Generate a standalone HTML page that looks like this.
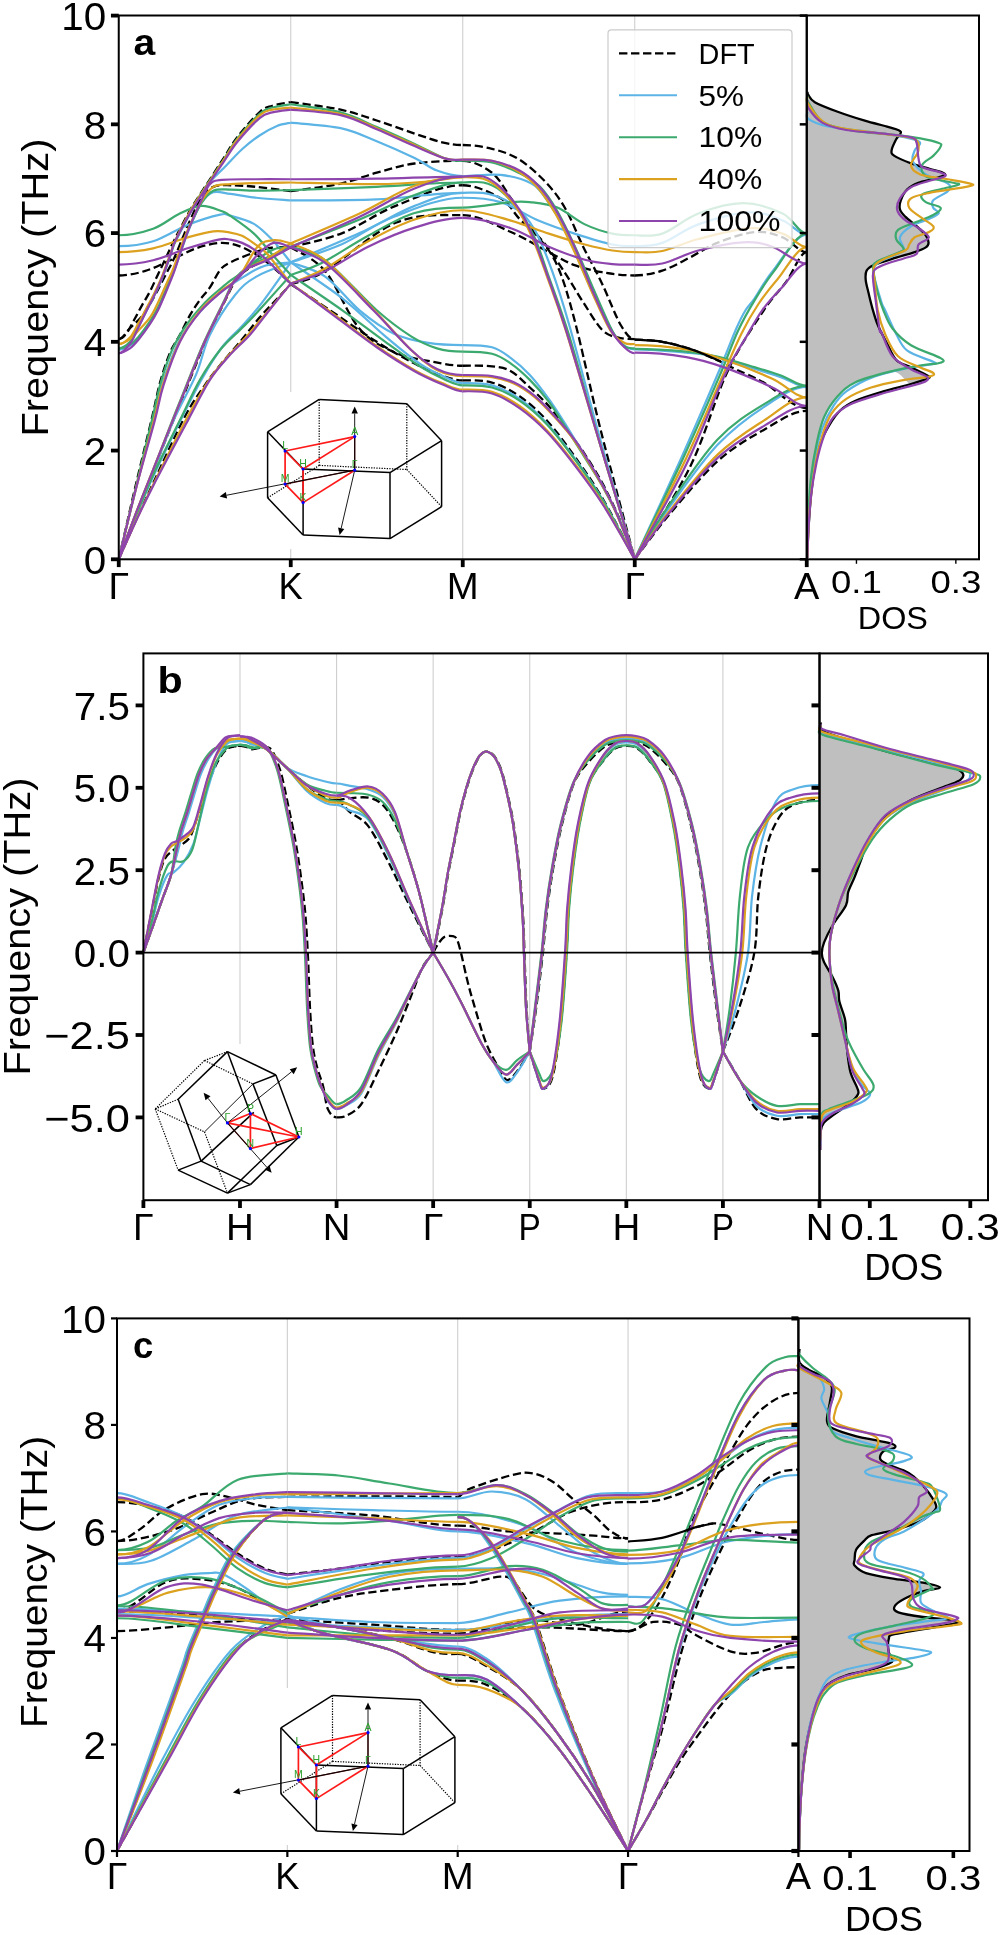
<!DOCTYPE html>
<html><head><meta charset="utf-8"><style>
html,body{margin:0;padding:0;background:#fff;}
svg{display:block;will-change:transform;}
text{font-family:"Liberation Sans",sans-serif;fill:#000;}
</style></head><body>
<svg width="1000" height="1935" viewBox="0 0 1000 1935">
<rect width="1000" height="1935" fill="#fff"/>
<line x1="290.75" y1="15.5" x2="290.75" y2="559.3" stroke="#cfcfcf" stroke-width="1.1"/>
<line x1="462.75" y1="15.5" x2="462.75" y2="559.3" stroke="#cfcfcf" stroke-width="1.1"/>
<line x1="634.75" y1="15.5" x2="634.75" y2="559.3" stroke="#cfcfcf" stroke-width="1.1"/>
<path d="M118.75 339.1C121.16 339.1 123.42 337.38 125.97 334.21C128.53 331.04 131.39 324.87 134.06 320.07C136.72 315.27 139.3 310.19 141.97 305.39C144.64 300.59 147.39 296.42 150.05 291.26C152.72 286.09 155.3 280.02 157.97 274.4C160.63 268.78 163.64 262.62 166.05 257.55C168.46 252.47 169.98 248.94 172.41 243.95C174.85 238.97 177.29 233.99 180.67 227.64C184.05 221.3 188.18 213.42 192.71 205.89C197.24 198.37 202.63 190.58 207.85 182.52C213.06 174.45 219.08 165.12 224.01 157.51C228.94 149.89 231.44 144.46 237.43 136.85C243.42 129.23 254.14 117 259.96 111.83C265.78 106.67 267.21 107.49 272.35 105.85C277.48 104.22 287.68 102.68 290.75 102.05" fill="none" stroke="#000" stroke-width="2.3" stroke-dasharray="8.2 3.8"/>
<path d="M118.75 339.1C122.48 339.1 126.06 332.03 129.93 328.23C133.8 324.42 138.62 320.34 141.97 316.27C145.32 312.19 147.39 308.2 150.05 303.76C152.72 299.32 155.3 294.61 157.97 289.62C160.63 284.64 163.38 279.02 166.05 273.86C168.72 268.69 171.24 264.52 173.96 258.63C176.69 252.74 179.84 244.59 182.39 238.52C184.94 232.45 186.12 229 189.27 222.21C192.42 215.41 197.3 203.63 201.31 197.74C205.32 191.85 208.48 188.95 213.35 186.87C218.22 184.78 223.38 185.23 230.55 185.23C237.72 185.23 246.32 185.87 256.35 186.87C266.38 187.86 285.02 190.49 290.75 191.22" fill="none" stroke="#000" stroke-width="2.3" stroke-dasharray="8.2 3.8"/>
<path d="M118.75 275.49C127.35 275.49 135.95 273.68 144.55 271.14C153.15 268.6 161.75 264.07 170.35 260.26C178.95 256.46 187.84 251.2 196.15 248.3C204.46 245.4 213.06 243.23 220.23 242.87C227.4 242.5 233.13 244.14 239.15 246.13C245.17 248.12 251.19 251.75 256.35 254.83C261.51 257.91 264.38 259.81 270.11 264.61C275.84 269.42 287.31 280.47 290.75 283.64" fill="none" stroke="#000" stroke-width="2.3" stroke-dasharray="8.2 3.8"/>
<path d="M118.75 559.3C121.62 546.79 130.42 507.83 135.95 484.27C141.48 460.71 147.93 434.88 151.95 417.94C155.96 400.99 157.02 393.47 160.03 382.6C163.04 371.72 166.68 360.67 170.01 352.69C173.33 344.72 176.66 341 179.98 334.75C183.31 328.5 186.63 320.98 189.96 315.18C193.28 309.38 196.61 304.58 199.93 299.96C203.26 295.33 206.56 292.43 209.91 287.45C213.26 282.47 216.68 274.22 220.06 270.05C223.44 265.88 224.56 265.34 230.21 262.44C235.85 259.54 247 255.1 253.94 252.65C260.88 250.21 265.7 248.67 271.83 247.76C277.96 246.85 287.6 247.31 290.75 247.22" fill="none" stroke="#000" stroke-width="2.3" stroke-dasharray="8.2 3.8"/>
<path d="M118.75 559.3C121.62 551.78 130.22 528.85 135.95 514.17C141.68 499.49 146.9 486.9 153.15 471.22C159.4 455.54 168.06 433.52 173.45 420.11C178.84 406.7 181.82 399.81 185.49 390.75C189.16 381.69 192.17 373.9 195.46 365.74C198.76 357.59 201.91 349.43 205.27 341.82C208.62 334.21 212.23 327.05 215.59 320.07C218.94 313.09 222.09 306.48 225.39 299.96C228.69 293.43 231.64 286.09 235.37 280.93C239.09 275.76 242.45 272.59 247.75 268.96C253.05 265.34 260.02 262.8 267.19 259.18C274.35 255.55 286.82 249.21 290.75 247.22" fill="none" stroke="#000" stroke-width="2.3" stroke-dasharray="8.2 3.8"/>
<path d="M118.75 559.3C121.62 552.78 130.22 532.84 135.95 520.15C141.68 507.47 145.12 500.22 153.15 483.18C161.18 466.15 175.51 434.25 184.11 417.94C192.71 401.63 198.76 394.11 204.75 385.32C210.74 376.53 214.18 372.45 220.06 365.2C225.93 357.95 233.39 349.79 240.01 341.82C246.63 333.85 253.11 325.06 259.79 317.35C266.47 309.65 274.93 301.13 280.09 295.61C285.25 290.08 288.97 286.09 290.75 284.19" fill="none" stroke="#000" stroke-width="2.3" stroke-dasharray="8.2 3.8"/>
<path d="M290.75 102.05C299.06 103.32 326.3 106.58 340.63 109.66C354.96 112.74 364.42 116.55 376.75 120.53C389.08 124.52 403.7 129.96 414.59 133.58C425.48 137.21 434.08 140.38 442.11 142.28C450.14 144.19 455.87 145 462.75 145" fill="none" stroke="#000" stroke-width="2.3" stroke-dasharray="8.2 3.8"/>
<path d="M290.75 191.22C299.06 189.95 326.3 186.68 340.63 183.6C354.96 180.52 364.42 176.08 376.75 172.73C389.08 169.38 400.26 165.48 414.59 163.49C428.92 161.49 446.7 160.77 462.75 160.77" fill="none" stroke="#000" stroke-width="2.3" stroke-dasharray="8.2 3.8"/>
<path d="M290.75 247.22C299.35 244.86 324.86 239.97 342.35 233.08C359.84 226.19 375.6 213.87 395.67 205.89C415.74 197.92 440.39 185.23 462.75 185.23" fill="none" stroke="#000" stroke-width="2.3" stroke-dasharray="8.2 3.8"/>
<path d="M290.75 284.19C296.48 282.01 307.66 281.38 325.15 271.14C342.64 260.9 372.74 232.08 395.67 222.75C418.6 213.42 440.39 215.14 462.75 215.14" fill="none" stroke="#000" stroke-width="2.3" stroke-dasharray="8.2 3.8"/>
<path d="M290.75 247.22C296.48 251.2 313.68 257.55 325.15 271.14C336.62 284.73 347.8 315.18 359.55 328.77C371.3 342.36 383.34 347.17 395.67 352.69C408 358.22 422.33 359.76 433.51 361.94C444.69 364.11 453 365.74 462.75 365.74" fill="none" stroke="#000" stroke-width="2.3" stroke-dasharray="8.2 3.8"/>
<path d="M290.75 284.19C296.77 288.17 312.54 298.51 326.87 308.11C341.2 317.72 362.13 332.58 376.75 341.82C391.37 351.06 403.7 357.95 414.59 363.57C425.48 369.19 434.08 372.72 442.11 375.53C450.14 378.34 455.87 380.42 462.75 380.42" fill="none" stroke="#000" stroke-width="2.3" stroke-dasharray="8.2 3.8"/>
<path d="M462.75 145C472.5 145 482.53 146.36 491.99 148.81C501.45 151.25 510.34 153.88 519.51 159.68C528.68 165.48 539.29 175.27 547.03 183.6C554.77 191.94 559.93 199.19 565.95 209.7C571.97 220.21 577.13 234.35 583.15 246.67C589.17 259 595.76 270.5 602.07 283.64C608.38 296.78 615.54 316.27 620.99 325.51C626.44 334.75 630.16 339.1 634.75 339.1" fill="none" stroke="#000" stroke-width="2.3" stroke-dasharray="8.2 3.8"/>
<path d="M462.75 160.77C472.5 160.77 483.96 166.48 491.99 172.73C500.02 178.98 504.89 189.67 510.91 198.28C516.93 206.89 522.09 216.32 528.11 224.38C534.13 232.45 540.72 238.34 547.03 246.67C553.34 255.01 559.93 265.16 565.95 274.4C571.97 283.64 577.13 292.89 583.15 302.13C589.17 311.37 596.34 323.97 602.07 329.86C607.8 335.75 612.1 335.93 617.55 337.47C623 339.01 629.02 339.1 634.75 339.1" fill="none" stroke="#000" stroke-width="2.3" stroke-dasharray="8.2 3.8"/>
<path d="M462.75 185.23C475.36 185.23 491.13 192.66 500.59 198.28C510.05 203.9 513.2 212.42 519.51 218.94C525.82 225.47 532.12 229.64 538.43 237.43C544.74 245.22 551.33 251.93 557.35 265.7C563.37 279.48 567.38 292.89 574.55 320.07C581.72 347.26 590.32 388.94 600.35 428.81C610.38 468.68 629.02 537.55 634.75 559.3" fill="none" stroke="#000" stroke-width="2.3" stroke-dasharray="8.2 3.8"/>
<path d="M462.75 215.14C478.8 215.14 496.58 225.83 510.91 231.99C525.24 238.15 538.14 246.58 548.75 252.11C559.36 257.64 565.66 261.81 574.55 265.16C583.44 268.51 592.04 270.5 602.07 272.23C612.1 273.95 623.86 275.49 634.75 275.49" fill="none" stroke="#000" stroke-width="2.3" stroke-dasharray="8.2 3.8"/>
<path d="M462.75 365.74C472.5 365.74 483.96 365.38 491.99 366.29C500.02 367.19 504.6 367.65 510.91 371.18C517.22 374.71 523.52 381.69 529.83 387.49C536.14 393.29 542.73 399.18 548.75 405.98C554.77 412.77 559.93 420.2 565.95 428.27C571.97 436.33 578.56 444.76 584.87 454.37C591.18 463.97 597.77 474.57 603.79 485.9C609.81 497.23 615.83 510.1 620.99 522.33C626.15 534.56 632.46 553.14 634.75 559.3" fill="none" stroke="#000" stroke-width="2.3" stroke-dasharray="8.2 3.8"/>
<path d="M462.75 380.42C472.5 380.42 482.53 379.97 491.99 382.6C501.45 385.23 510.34 389.85 519.51 396.19C528.68 402.53 537.57 410.24 547.03 420.66C556.49 431.08 566.81 445.39 576.27 458.72C585.73 472.04 594.04 483.82 603.79 500.58C613.54 517.34 629.59 549.51 634.75 559.3" fill="none" stroke="#000" stroke-width="2.3" stroke-dasharray="8.2 3.8"/>
<path d="M634.75 275.49C643.92 275.49 653.1 273.59 662.27 270.6C671.44 267.6 680.62 262.17 689.79 257.55C698.96 252.93 706.42 247.13 717.31 242.87C728.2 238.61 744.26 232.9 755.15 231.99C766.04 231.09 774.07 234.08 782.67 237.43C791.27 240.78 798.72 252.11 806.75 252.11" fill="none" stroke="#000" stroke-width="2.3" stroke-dasharray="8.2 3.8"/>
<path d="M634.75 559.3C643.92 543.99 674.31 498.77 689.79 467.41C705.27 436.06 715.3 397.37 727.63 371.18C739.96 344.99 754 325.15 763.75 310.29C773.5 295.42 778.94 291.71 786.11 282.01C793.28 272.32 799.87 252.11 806.75 252.11" fill="none" stroke="#000" stroke-width="2.3" stroke-dasharray="8.2 3.8"/>
<path d="M634.75 559.3C640.48 551.87 655.39 531.03 669.15 514.72C682.91 498.41 701.54 475.57 717.31 461.43C733.08 447.3 748.84 438.33 763.75 429.9C778.66 421.47 792.42 410.87 806.75 410.87" fill="none" stroke="#000" stroke-width="2.3" stroke-dasharray="8.2 3.8"/>
<path d="M634.75 339.65C643.92 339.65 653.1 340.28 662.27 341.82C671.44 343.36 680.62 345.81 689.79 348.89C698.96 351.97 709.57 356.86 717.31 360.31C725.05 363.75 728.49 365.83 736.23 369.55C743.97 373.26 752 376.16 763.75 382.6C775.5 389.03 792.42 408.15 806.75 408.15" fill="none" stroke="#000" stroke-width="2.3" stroke-dasharray="8.2 3.8"/>
<path d="M118.75 349.43C122.48 349.43 126.72 346.53 129.93 342.91C133.14 339.28 135.35 332.85 138.01 327.68C140.68 322.52 143.26 317.17 145.93 311.92C148.59 306.66 151.34 301.68 154.01 296.15C156.68 290.62 159.26 285.28 161.92 278.75C164.59 272.23 168 262.62 170.01 257C172.01 251.38 172.18 249.3 173.96 245.04C175.74 240.78 177.55 237.52 180.67 231.45C183.79 225.38 188.12 216.5 192.71 208.61C197.3 200.73 202.97 190.94 208.19 184.15C213.41 177.35 218.28 173.73 224.01 167.84C229.75 161.95 236.6 154.24 242.59 148.81C248.58 143.37 254.23 139.02 259.96 135.21C265.7 131.41 271.86 128.06 276.99 125.97C282.12 123.89 288.46 123.25 290.75 122.71" fill="none" stroke="#5BB4E5" stroke-width="2.2"/>
<path d="M118.75 349.43C122.48 349.43 126.72 347.44 129.93 345.63C133.14 343.81 134.66 342.45 138.01 338.56C141.37 334.66 146.73 327.23 150.05 322.25C153.38 317.26 155.3 314 157.97 308.65C160.63 303.31 163.38 296.42 166.05 290.17C168.72 283.92 171.3 278.12 173.96 271.14C176.63 264.16 179.49 255.37 182.05 248.3C184.6 241.24 186.06 236.25 189.27 228.73C192.48 221.21 197.3 209.25 201.31 203.18C205.32 197.11 208.48 193.84 213.35 192.3C218.22 190.76 223.38 193.03 230.55 193.93C237.72 194.84 246.32 196.65 256.35 197.74C266.38 198.83 285.02 200 290.75 200.46" fill="none" stroke="#5BB4E5" stroke-width="2.2"/>
<path d="M118.75 246.13C130.22 246.13 141.68 244.77 153.15 241.24C164.62 237.7 176.37 229.36 187.55 224.92C198.73 220.48 213.12 216.13 220.23 214.59C227.34 213.05 224.59 214.14 230.21 215.68C235.82 217.22 246.98 219.85 253.94 223.84C260.91 227.82 265.87 233.17 272 239.6C278.14 246.04 287.63 258.63 290.75 262.44" fill="none" stroke="#5BB4E5" stroke-width="2.2"/>
<path d="M118.75 559.3C121.62 547.52 130.22 511.82 135.95 488.62C141.68 465.42 148.85 437.33 153.15 420.11C157.45 402.9 157.28 398.82 161.75 385.32C166.22 371.81 173.62 351.33 179.98 339.1C186.35 326.87 193.25 319.62 199.93 311.92C206.61 304.21 212.72 298.78 220.06 292.89C227.4 287 236.48 281.11 243.97 276.58C251.45 272.05 257.15 268.06 264.95 265.7C272.75 263.35 286.45 262.98 290.75 262.44" fill="none" stroke="#5BB4E5" stroke-width="2.2"/>
<path d="M118.75 559.3C121.62 551.87 130.22 529.22 135.95 514.72C141.68 500.22 146.84 488.08 153.15 472.31C159.46 456.54 166.62 436.42 173.79 420.11C180.96 403.8 190.13 388.67 196.15 374.44C202.17 360.22 203.43 347.98 209.91 334.75C216.39 321.52 227.28 304.76 235.02 295.06C242.76 285.37 247.06 282.01 256.35 276.58C265.64 271.14 285.02 264.8 290.75 262.44" fill="none" stroke="#5BB4E5" stroke-width="2.2"/>
<path d="M118.75 559.3C121.62 552.23 130.22 530.67 135.95 516.89C141.68 503.12 145.7 492.79 153.15 476.66C160.6 460.53 172.64 436.24 180.67 420.11C188.7 403.98 194.43 392.02 201.31 379.88C208.19 367.74 215.07 356.32 221.95 347.26C228.83 338.2 235.91 332.94 242.59 325.51C249.27 318.08 254 313.19 262.03 302.67C270.05 292.16 285.96 269.15 290.75 262.44" fill="none" stroke="#5BB4E5" stroke-width="2.2"/>
<path d="M290.75 122.71C299.06 123.62 326.3 125.06 340.63 128.15C354.96 131.23 364.42 136.21 376.75 141.19C389.08 146.18 404.56 153.16 414.59 158.05C424.62 162.94 428.92 167.56 436.95 170.55C444.98 173.54 454.15 175.99 462.75 175.99" fill="none" stroke="#5BB4E5" stroke-width="2.2"/>
<path d="M290.75 200.46C305.08 200.28 348.08 200.64 376.75 199.37C405.42 198.1 434.08 192.85 462.75 192.85" fill="none" stroke="#5BB4E5" stroke-width="2.2"/>
<path d="M290.75 262.44C302.22 257.55 338.91 242.5 359.55 233.08C380.19 223.66 397.39 212.6 414.59 205.89C431.79 199.19 446.7 192.85 462.75 192.85" fill="none" stroke="#5BB4E5" stroke-width="2.2"/>
<path d="M290.75 262.44C299.35 259.36 325.15 251.57 342.35 243.95C359.55 236.34 373.88 224.47 393.95 216.77C414.02 209.07 439.82 197.74 462.75 197.74" fill="none" stroke="#5BB4E5" stroke-width="2.2"/>
<path d="M290.75 262.44C296.48 264.8 313.68 268.6 325.15 276.58C336.62 284.55 348.08 300.77 359.55 310.29C371.02 319.8 382.48 328.23 393.95 333.66C405.42 339.1 416.88 341 428.35 342.91C439.82 344.81 451.28 345.08 462.75 345.08" fill="none" stroke="#5BB4E5" stroke-width="2.2"/>
<path d="M290.75 262.44C299.35 268.42 326.58 286 342.35 298.32C358.12 310.65 372.45 325.51 385.35 336.38C398.25 347.26 409.72 356.77 419.75 363.57C429.78 370.36 438.38 373.9 445.55 377.16C452.72 380.42 457.02 383.14 462.75 383.14" fill="none" stroke="#5BB4E5" stroke-width="2.2"/>
<path d="M462.75 175.99C475.36 175.99 489.12 173.64 500.59 174.9C512.06 176.17 523.81 179.34 531.55 183.6C539.29 187.86 541.3 192.48 547.03 200.46C552.76 208.43 559.93 219.67 565.95 231.45C571.97 243.23 577.42 258.18 583.15 271.14C588.88 284.1 594.62 297.87 600.35 309.2C606.08 320.53 611.82 332.4 617.55 339.1C623.28 345.81 629.02 349.43 634.75 349.43" fill="none" stroke="#5BB4E5" stroke-width="2.2"/>
<path d="M462.75 192.85C471.35 192.85 479.95 191.76 488.55 193.93C497.15 196.11 506.61 199.82 514.35 205.89C522.09 211.97 528.68 219.49 534.99 230.36C541.3 241.24 546.46 255.28 552.19 271.14C557.92 287 561.36 297.42 569.39 325.51C577.42 353.6 589.46 400.72 600.35 439.69C611.24 478.65 629.02 539.36 634.75 559.3" fill="none" stroke="#5BB4E5" stroke-width="2.2"/>
<path d="M462.75 197.74C475.36 197.74 487.98 198.28 500.59 202.09C513.2 205.89 526.1 215.32 538.43 220.57C550.76 225.83 562.22 229.64 574.55 233.62C586.88 237.61 602.36 242.41 612.39 244.5C622.42 246.58 627.3 246.13 634.75 246.13" fill="none" stroke="#5BB4E5" stroke-width="2.2"/>
<path d="M462.75 345.08C472.5 345.08 483.96 345.08 491.99 347.26C500.02 349.43 504.6 353.51 510.91 358.13C517.22 362.75 523.52 368.19 529.83 374.99C536.14 381.78 542.73 390.57 548.75 398.91C554.77 407.25 559.93 415.49 565.95 425.01C571.97 434.52 578.56 445.58 584.87 456C591.18 466.42 597.77 476.39 603.79 487.53C609.81 498.68 615.83 510.91 620.99 522.87C626.15 534.83 632.46 553.23 634.75 559.3" fill="none" stroke="#5BB4E5" stroke-width="2.2"/>
<path d="M462.75 383.14C472.5 383.14 482.53 382.69 491.99 385.32C501.45 387.94 510.34 392.57 519.51 398.91C528.68 405.25 537.57 413.14 547.03 423.38C556.49 433.61 566.81 447.3 576.27 460.35C585.73 473.4 594.04 485.18 603.79 501.67C613.54 518.16 629.59 549.69 634.75 559.3" fill="none" stroke="#5BB4E5" stroke-width="2.2"/>
<path d="M634.75 246.13C643.92 246.13 651.66 246.49 662.27 242.87C672.88 239.24 683.77 229.46 698.39 224.38C713.01 219.31 735.94 213.05 749.99 212.42C764.04 211.79 773.21 216.86 782.67 220.57C792.13 224.29 798.72 234.71 806.75 234.71" fill="none" stroke="#5BB4E5" stroke-width="2.2"/>
<path d="M634.75 559.3C642.49 542.45 667.43 488.89 681.19 458.17C694.95 427.45 708.14 396.55 717.31 374.99C726.48 353.42 731.53 339.55 736.23 328.77C740.93 317.99 742.45 315.36 745.52 310.29C748.59 305.21 750.05 304.94 754.63 298.32C759.22 291.71 764.35 281.2 773.04 270.6C781.72 259.99 795.51 234.71 806.75 234.71" fill="none" stroke="#5BB4E5" stroke-width="2.2"/>
<path d="M634.75 349.43C651.95 349.43 672.59 351.43 686.35 352.69C700.11 353.96 705.84 354.33 717.31 357.04C728.78 359.76 744.54 365.65 755.15 369C765.76 372.36 772.35 374.17 780.95 377.16C789.55 380.15 798.15 386.95 806.75 386.95" fill="none" stroke="#5BB4E5" stroke-width="2.2"/>
<path d="M634.75 559.3C640.48 550.69 655.39 526.68 669.15 507.65C682.91 488.62 701.54 461.89 717.31 445.12C733.08 428.36 748.84 416.76 763.75 407.06C778.66 397.37 792.42 386.95 806.75 386.95" fill="none" stroke="#5BB4E5" stroke-width="2.2"/>
<path d="M118.75 348.34C122.48 348.34 126.72 345.44 129.93 341.82C133.14 338.2 135.35 331.76 138.01 326.6C140.68 321.43 143.26 316.08 145.93 310.83C148.59 305.57 151.34 300.59 154.01 295.06C156.68 289.53 159.26 284.19 161.92 277.66C164.59 271.14 168 261.53 170.01 255.92C172.01 250.3 172.18 248.21 173.96 243.95C175.74 239.7 177.55 236.52 180.67 230.36C183.79 224.2 188.18 214.78 192.71 206.98C197.24 199.19 202.63 191.58 207.85 183.6C213.06 175.63 219.08 166.66 224.01 159.14C228.94 151.62 231.44 146.09 237.43 138.48C243.42 130.86 254.14 118.63 259.96 113.47C265.78 108.3 267.21 109.03 272.35 107.49C277.48 105.94 287.68 104.77 290.75 104.22" fill="none" stroke="#3CAA6E" stroke-width="2.2"/>
<path d="M118.75 348.34C122.48 348.34 126.72 346.35 129.93 344.54C133.14 342.73 134.66 341.37 138.01 337.47C141.37 333.57 146.73 326.14 150.05 321.16C153.38 316.18 155.3 312.91 157.97 307.57C160.63 302.22 163.38 295.33 166.05 289.08C168.72 282.83 171.3 277.12 173.96 270.05C176.63 262.98 179.49 253.74 182.05 246.67C184.6 239.6 186.06 234.89 189.27 227.64C192.48 220.39 197.3 209.34 201.31 203.18C205.32 197.01 208.48 192.94 213.35 190.67C218.22 188.41 223.38 189.58 230.55 189.58C237.72 189.58 246.32 190.58 256.35 190.67C266.38 190.76 285.02 190.22 290.75 190.13" fill="none" stroke="#3CAA6E" stroke-width="2.2"/>
<path d="M118.75 235.25C130.22 235.25 143.12 232.26 153.15 228.73C163.18 225.2 170.92 217.86 178.95 214.05C186.98 210.24 194.14 206.35 201.31 205.89C208.48 205.44 217.16 209.7 221.95 211.33C226.74 212.96 224.7 211.97 230.03 215.68C235.37 219.4 246.95 227.19 253.94 233.62C260.94 240.06 265.87 247.4 272 254.28C278.14 261.17 287.63 271.5 290.75 274.94" fill="none" stroke="#3CAA6E" stroke-width="2.2"/>
<path d="M118.75 559.3C121.62 547.25 130.42 510.19 135.95 486.99C141.48 463.79 147.93 437.06 151.95 420.11C155.96 403.17 157.02 396.19 160.03 385.32C163.04 374.44 166.68 363.3 170.01 354.87C173.33 346.44 176.66 340.55 179.98 334.75C183.31 328.95 186.63 324.51 189.96 320.07C193.28 315.63 196.61 311.83 199.93 308.11C203.26 304.4 206.56 300.95 209.91 297.78C213.26 294.61 216.7 291.89 220.06 289.08C223.41 286.27 226.71 283.46 230.03 280.93C233.36 278.39 235.62 277.3 240.01 273.86C244.4 270.41 250.76 264.34 256.35 260.26C261.94 256.19 267.82 251.66 273.55 249.39C279.28 247.13 287.88 247.13 290.75 246.67" fill="none" stroke="#3CAA6E" stroke-width="2.2"/>
<path d="M118.75 559.3C121.62 551.69 130.22 528.49 135.95 513.63C141.68 498.77 147.07 485.72 153.15 470.13C159.23 454.55 167.2 433.43 172.41 420.11C177.63 406.79 180.78 399.36 184.45 390.21C188.12 381.06 191.13 373.26 194.43 365.2C197.73 357.13 200.88 349.34 204.23 341.82C207.59 334.3 211.17 327.05 214.55 320.07C217.94 313.09 221.2 306.66 224.53 299.96C227.86 293.25 230.64 285.37 234.51 279.84C238.38 274.31 242.3 270.5 247.75 266.79C253.2 263.07 260.02 260.9 267.19 257.55C274.35 254.19 286.82 248.48 290.75 246.67" fill="none" stroke="#3CAA6E" stroke-width="2.2"/>
<path d="M118.75 559.3C121.62 552.05 130.22 529.85 135.95 515.8C141.68 501.76 145.81 490.98 153.15 475.03C160.49 459.08 172.18 435.97 179.98 420.11C187.78 404.25 193.25 391.57 199.93 379.88C206.61 368.19 213.38 358.31 220.06 349.98C226.74 341.64 235.02 334.84 240.01 329.86C245 324.87 245.83 324.42 249.99 320.07C254.14 315.72 258.16 311.28 264.95 303.76C271.74 296.24 286.45 279.75 290.75 274.94" fill="none" stroke="#3CAA6E" stroke-width="2.2"/>
<path d="M290.75 104.22C299.06 105.58 326.3 108.57 340.63 112.38C354.96 116.18 364.42 121.8 376.75 127.06C389.08 132.31 403.12 138.66 414.59 143.91C426.06 149.17 437.52 155.78 445.55 158.59C453.58 161.4 457.02 160.77 462.75 160.77" fill="none" stroke="#3CAA6E" stroke-width="2.2"/>
<path d="M290.75 190.13C305.08 189.58 348.08 188.13 376.75 186.87C405.42 185.6 434.08 182.52 462.75 182.52" fill="none" stroke="#3CAA6E" stroke-width="2.2"/>
<path d="M290.75 246.67C302.22 242.14 338.91 228.1 359.55 219.49C380.19 210.88 397.39 201.18 414.59 195.02C431.79 188.86 446.7 182.52 462.75 182.52" fill="none" stroke="#3CAA6E" stroke-width="2.2"/>
<path d="M290.75 274.94C295.91 272.95 308.81 269.51 321.71 262.98C334.61 256.46 352.67 244.14 368.15 235.8C383.63 227.46 398.82 217.68 414.59 212.96C430.36 208.25 446.7 207.53 462.75 207.53" fill="none" stroke="#3CAA6E" stroke-width="2.2"/>
<path d="M290.75 246.67C296.48 248.94 310.82 249.66 325.15 260.26C339.48 270.87 362.42 297.6 376.75 310.29C391.08 322.97 401.12 330.04 411.15 336.38C421.18 342.73 428.35 345.81 436.95 348.34C445.55 350.88 454.15 351.61 462.75 351.61" fill="none" stroke="#3CAA6E" stroke-width="2.2"/>
<path d="M290.75 274.94C299.35 280.83 326.58 299.14 342.35 310.29C358.12 321.43 372.45 332.49 385.35 341.82C398.25 351.15 409.72 359.94 419.75 366.29C429.78 372.63 438.38 376.71 445.55 379.88C452.72 383.05 457.02 385.32 462.75 385.32" fill="none" stroke="#3CAA6E" stroke-width="2.2"/>
<path d="M462.75 160.77C472.5 160.77 482.53 160.31 491.99 162.4C501.45 164.48 511.48 169.2 519.51 173.27C527.54 177.35 533.84 180.52 540.15 186.87C546.46 193.21 551.33 200.91 557.35 211.33C563.37 221.75 569.96 235.8 576.27 249.39C582.58 262.98 589.17 279.29 595.19 292.89C601.21 306.48 607.52 322.07 612.39 330.95C617.26 339.83 620.7 343.27 624.43 346.17C628.16 349.07 631.31 348.34 634.75 348.34" fill="none" stroke="#3CAA6E" stroke-width="2.2"/>
<path d="M462.75 182.52C469.63 182.52 477.08 181.16 483.39 182.52C489.7 183.88 494.57 185.87 500.59 190.67C506.61 195.47 513.78 203.36 519.51 211.33C525.24 219.31 530.12 227.64 534.99 238.52C539.86 249.39 543.02 260.26 548.75 276.58C554.48 292.89 560.79 308.29 569.39 336.38C577.99 364.47 589.46 407.97 600.35 445.12C611.24 482.28 629.02 540.27 634.75 559.3" fill="none" stroke="#3CAA6E" stroke-width="2.2"/>
<path d="M462.75 207.53C478.8 207.53 499.73 203 510.91 202.09C522.09 201.18 522.09 201.18 529.83 202.09C537.57 203 548.18 203.81 557.35 207.53C566.52 211.24 575.7 220.03 584.87 224.38C594.04 228.73 604.08 231.81 612.39 233.62C620.7 235.44 627.3 235.25 634.75 235.25" fill="none" stroke="#3CAA6E" stroke-width="2.2"/>
<path d="M462.75 351.61C472.5 351.61 483.96 351.79 491.99 353.78C500.02 355.77 504.6 359.22 510.91 363.57C517.22 367.92 523.52 373.54 529.83 379.88C536.14 386.22 542.73 393.65 548.75 401.63C554.77 409.6 559.93 418.39 565.95 427.72C571.97 437.06 578.56 447.48 584.87 457.63C591.18 467.78 597.77 477.65 603.79 488.62C609.81 499.58 615.83 511.64 620.99 523.42C626.15 535.2 632.46 553.32 634.75 559.3" fill="none" stroke="#3CAA6E" stroke-width="2.2"/>
<path d="M462.75 385.32C472.5 385.32 482.53 384.95 491.99 387.49C501.45 390.03 510.34 394.38 519.51 400.54C528.68 406.7 537.57 414.31 547.03 424.46C556.49 434.61 566.81 448.48 576.27 461.43C585.73 474.39 594.04 485.9 603.79 502.21C613.54 518.52 629.59 549.79 634.75 559.3" fill="none" stroke="#3CAA6E" stroke-width="2.2"/>
<path d="M634.75 235.25C643.92 235.25 651.66 237.25 662.27 233.62C672.88 230 684.92 218.58 698.39 213.51C711.86 208.43 729.06 203.18 743.11 203.18C757.16 203.18 772.06 208.43 782.67 213.51C793.28 218.58 798.72 233.62 806.75 233.62" fill="none" stroke="#3CAA6E" stroke-width="2.2"/>
<path d="M634.75 559.3C642.78 542.54 668.86 489.07 682.91 458.72C696.96 428.36 709.86 398.46 719.03 377.16C728.2 355.87 731.93 343.9 737.95 330.95C743.97 317.99 749.13 309.38 755.15 299.41C761.17 289.44 765.47 282.1 774.07 271.14C782.67 260.17 795.86 233.62 806.75 233.62" fill="none" stroke="#3CAA6E" stroke-width="2.2"/>
<path d="M634.75 348.89C651.95 348.89 672.59 350.34 686.35 351.61C700.11 352.88 705.84 353.87 717.31 356.5C728.78 359.13 744.54 364.2 755.15 367.37C765.76 370.55 772.35 372.45 780.95 375.53C789.55 378.61 798.15 385.86 806.75 385.86" fill="none" stroke="#3CAA6E" stroke-width="2.2"/>
<path d="M634.75 559.3C640.48 550.24 655.39 524.87 669.15 504.93C682.91 484.99 701.54 456.45 717.31 439.69C733.08 422.92 748.84 413.32 763.75 404.35C778.66 395.37 792.42 385.86 806.75 385.86" fill="none" stroke="#3CAA6E" stroke-width="2.2"/>
<path d="M118.75 343.99C122.48 343.99 126.72 340.82 129.93 337.47C133.14 334.12 135.35 328.59 138.01 323.88C140.68 319.17 143.26 314.18 145.93 309.2C148.59 304.21 151.34 299.41 154.01 293.97C156.68 288.54 159.26 283.1 161.92 276.58C164.59 270.05 168 260.26 170.01 254.83C172.01 249.39 172.18 248.21 173.96 243.95C175.74 239.7 177.55 235.44 180.67 229.27C183.79 223.11 188.18 214.5 192.71 206.98C197.24 199.46 202.63 192.03 207.85 184.15C213.06 176.26 219.08 167.11 224.01 159.68C228.94 152.25 231.44 146.99 237.43 139.56C243.42 132.13 254.14 120.08 259.96 115.1C265.78 110.11 267.21 110.93 272.35 109.66C277.48 108.39 287.68 107.85 290.75 107.49" fill="none" stroke="#DCA11E" stroke-width="2.2"/>
<path d="M118.75 343.99C122.48 343.99 126.72 341.28 129.93 339.1C133.14 336.93 134.66 334.57 138.01 330.95C141.37 327.32 146.73 322.07 150.05 317.35C153.38 312.64 155.3 308.11 157.97 302.67C160.63 297.24 163.38 290.71 166.05 284.73C168.72 278.75 171.3 273.59 173.96 266.79C176.63 259.99 179.49 250.66 182.05 243.95C184.6 237.25 186.06 233.62 189.27 226.56C192.48 219.49 197.3 208.16 201.31 201.55C205.32 194.93 208.48 189.77 213.35 186.87C218.22 183.97 223.38 184.78 230.55 184.15C237.72 183.51 246.32 183.33 256.35 183.06C266.38 182.79 285.02 182.61 290.75 182.52" fill="none" stroke="#DCA11E" stroke-width="2.2"/>
<path d="M118.75 252.11C130.22 252.11 141.68 250.75 153.15 248.3C164.62 245.86 177.52 240.24 187.55 237.43C197.58 234.62 206.24 232.26 213.35 231.45C220.46 230.63 225.42 231.81 230.21 232.54C234.99 233.26 238.12 233.99 242.07 235.8C246.03 237.61 249.96 240.6 253.94 243.41C257.93 246.22 261.97 248.67 265.98 252.65C270 256.64 273.89 262.17 278.02 267.33C282.15 272.5 288.63 280.93 290.75 283.64" fill="none" stroke="#DCA11E" stroke-width="2.2"/>
<path d="M118.75 559.3C121.62 547.52 130.07 511.82 135.95 488.62C141.83 465.42 149.57 437.33 154.01 420.11C158.45 402.9 158.28 398.55 162.61 385.32C166.94 372.09 173.76 353.15 179.98 340.73C186.2 328.32 193.25 318.98 199.93 310.83C206.61 302.67 213.52 297.51 220.06 291.8C226.59 286.09 232.9 284.1 239.15 276.58C245.4 269.05 251.68 252.74 257.55 246.67C263.43 240.6 268.88 240.69 274.41 240.15C279.94 239.6 288.03 242.87 290.75 243.41" fill="none" stroke="#DCA11E" stroke-width="2.2"/>
<path d="M118.75 559.3C121.62 551.6 130.22 528.04 135.95 513.09C141.68 498.13 146.99 485.08 153.15 469.59C159.31 454.09 167.63 433.34 172.93 420.11C178.23 406.88 181.3 399.36 184.97 390.21C188.64 381.06 191.65 373.26 194.95 365.2C198.24 357.13 201.4 349.34 204.75 341.82C208.1 334.3 211.69 327.05 215.07 320.07C218.45 313.09 221.72 306.66 225.05 299.96C228.37 293.25 231.24 285.09 235.02 279.84C238.81 274.58 242.39 271.95 247.75 268.42C253.11 264.89 260.02 262.8 267.19 258.63C274.35 254.47 286.82 245.95 290.75 243.41" fill="none" stroke="#DCA11E" stroke-width="2.2"/>
<path d="M118.75 559.3C121.62 552.87 130.22 533.11 135.95 520.7C141.68 508.28 144.84 501.58 153.15 484.81C161.46 468.05 176.8 437.15 185.83 420.11C194.86 403.08 200.74 392.75 207.33 382.6C213.92 372.45 219.08 366.65 225.39 359.22C231.7 351.79 238.58 345.44 245.17 338.01C251.76 330.58 257.35 323.7 264.95 314.63C272.55 305.57 286.45 288.81 290.75 283.64" fill="none" stroke="#DCA11E" stroke-width="2.2"/>
<path d="M290.75 107.49C299.06 108.57 326.3 110.57 340.63 114.01C354.96 117.45 364.42 122.98 376.75 128.15C389.08 133.31 403.12 139.93 414.59 145C426.06 150.08 437.52 156.15 445.55 158.59C453.58 161.04 457.02 159.68 462.75 159.68" fill="none" stroke="#DCA11E" stroke-width="2.2"/>
<path d="M290.75 182.52C305.08 182.79 353.82 184.33 376.75 184.15C399.68 183.97 414.02 182.61 428.35 181.43C442.68 180.25 451.28 177.08 462.75 177.08" fill="none" stroke="#DCA11E" stroke-width="2.2"/>
<path d="M290.75 243.41C302.22 238.43 338.91 223.11 359.55 213.51C380.19 203.9 397.39 191.85 414.59 185.78C431.79 179.71 446.7 177.08 462.75 177.08" fill="none" stroke="#DCA11E" stroke-width="2.2"/>
<path d="M290.75 283.64C296.48 281.11 312.25 275.49 325.15 268.42C338.05 261.35 353.24 249.39 368.15 241.24C383.06 233.08 398.82 224.65 414.59 219.49C430.36 214.32 446.7 210.24 462.75 210.24" fill="none" stroke="#DCA11E" stroke-width="2.2"/>
<path d="M290.75 243.41C296.48 246.22 311.39 249.3 325.15 260.26C338.91 271.23 358.98 294.25 373.31 309.2C387.64 324.15 400.54 339.83 411.15 349.98C421.76 360.12 428.35 365.74 436.95 370.09C445.55 374.44 454.15 376.07 462.75 376.07" fill="none" stroke="#DCA11E" stroke-width="2.2"/>
<path d="M290.75 283.64C296.77 287.9 312.54 298.78 326.87 309.2C341.2 319.62 362.13 336.02 376.75 346.17C391.37 356.32 403.7 363.93 414.59 370.09C425.48 376.25 434.08 379.88 442.11 383.14C450.14 386.4 455.87 389.67 462.75 389.67" fill="none" stroke="#DCA11E" stroke-width="2.2"/>
<path d="M462.75 159.68C472.5 159.68 482.53 158.68 491.99 160.77C501.45 162.85 511.77 167.56 519.51 172.19C527.25 176.81 532.41 181.52 538.43 188.5C544.45 195.47 549.61 203.45 555.63 214.05C561.65 224.65 568.24 238.52 574.55 252.11C580.86 265.7 587.45 282.47 593.47 295.61C599.49 308.74 605.51 323.06 610.67 330.95C615.83 338.83 620.42 340.73 624.43 342.91C628.44 345.08 631.31 343.99 634.75 343.99" fill="none" stroke="#DCA11E" stroke-width="2.2"/>
<path d="M462.75 177.08C469.63 177.08 477.08 176.63 483.39 178.71C489.7 180.79 494.57 183.97 500.59 189.58C506.61 195.2 514.06 203.99 519.51 212.42C524.96 220.85 528.68 229.46 533.27 240.15C537.86 250.84 541.58 261.44 547.03 276.58C552.48 291.71 557.06 302.85 565.95 330.95C574.84 359.04 588.88 407.06 600.35 445.12C611.82 483.18 629.02 540.27 634.75 559.3" fill="none" stroke="#DCA11E" stroke-width="2.2"/>
<path d="M462.75 210.24C478.8 210.24 496.58 216.68 510.91 220.57C525.24 224.47 536.42 229.64 548.75 233.62C561.08 237.61 574.26 241.69 584.87 244.5C595.48 247.31 604.08 249.21 612.39 250.48C620.7 251.75 627.3 252.11 634.75 252.11" fill="none" stroke="#DCA11E" stroke-width="2.2"/>
<path d="M462.75 376.07C472.5 376.07 483.39 375.89 491.99 377.16C500.59 378.43 507.18 380.33 514.35 383.68C521.52 387.04 528.4 391.84 534.99 397.28C541.58 402.71 547.32 409.06 553.91 416.31C560.5 423.56 567.67 431.26 574.55 440.77C581.43 450.29 588.6 462.16 595.19 473.4C601.78 484.63 607.52 493.87 614.11 508.19C620.7 522.51 631.31 550.78 634.75 559.3" fill="none" stroke="#DCA11E" stroke-width="2.2"/>
<path d="M462.75 389.67C472.5 389.67 482.53 389.12 491.99 391.84C501.45 394.56 510.34 399.54 519.51 405.98C528.68 412.41 537.57 420.48 547.03 430.44C556.49 440.41 566.81 453.37 576.27 465.78C585.73 478.2 594.04 489.34 603.79 504.93C613.54 520.52 629.59 550.24 634.75 559.3" fill="none" stroke="#DCA11E" stroke-width="2.2"/>
<path d="M634.75 252.11C643.92 252.11 651.66 253.2 662.27 251.02C672.88 248.85 683.77 242.87 698.39 239.06C713.01 235.25 735.94 229.09 749.99 228.19C764.04 227.28 773.21 230.45 782.67 233.62C792.13 236.8 798.72 247.22 806.75 247.22" fill="none" stroke="#DCA11E" stroke-width="2.2"/>
<path d="M634.75 559.3C643.06 542.99 670.3 491.34 684.63 461.43C698.96 431.53 711.29 401.17 720.75 379.88C730.21 358.58 735.08 346.35 741.39 333.66C747.7 320.98 752.57 312.82 758.59 303.76C764.61 294.7 769.48 288.72 777.51 279.29C785.54 269.87 797 247.22 806.75 247.22" fill="none" stroke="#DCA11E" stroke-width="2.2"/>
<path d="M634.75 345.08C651.95 345.08 671.16 346.89 686.35 349.43C701.54 351.97 711.58 355.41 725.91 360.31C740.24 365.2 758.88 372.63 772.35 378.79C785.82 384.95 795.28 397.28 806.75 397.28" fill="none" stroke="#DCA11E" stroke-width="2.2"/>
<path d="M634.75 559.3C640.48 551.33 655.39 528.85 669.15 511.45C682.91 494.06 701.54 470.04 717.31 454.91C733.08 439.78 748.84 430.26 763.75 420.66C778.66 411.05 792.42 397.28 806.75 397.28" fill="none" stroke="#DCA11E" stroke-width="2.2"/>
<path d="M118.75 353.24C122.48 353.24 126.72 348.16 129.93 343.99C133.14 339.83 135.35 333.57 138.01 328.23C140.68 322.88 143.26 317.26 145.93 311.92C148.59 306.57 151.34 301.77 154.01 296.15C156.68 290.53 159.26 284.91 161.92 278.21C164.59 271.5 168 261.62 170.01 255.92C172.01 250.21 172.18 248.21 173.96 243.95C175.74 239.7 177.55 236.25 180.67 230.36C183.79 224.47 188.18 216.13 192.71 208.61C197.24 201.09 202.63 193.12 207.85 185.23C213.06 177.35 219.08 168.56 224.01 161.31C228.94 154.06 231.44 148.99 237.43 141.74C243.42 134.49 254.14 122.71 259.96 117.82C265.78 112.92 267.21 113.74 272.35 112.38C277.48 111.02 287.68 110.11 290.75 109.66" fill="none" stroke="#8E44AD" stroke-width="2.2"/>
<path d="M118.75 353.24C122.48 353.24 126.72 350.52 129.93 348.34C133.14 346.17 134.66 344.27 138.01 340.19C141.37 336.11 146.73 328.86 150.05 323.88C153.38 318.89 155.3 315.63 157.97 310.29C160.63 304.94 163.38 298.14 166.05 291.8C168.72 285.46 171.3 279.57 173.96 272.23C176.63 264.89 179.49 255.19 182.05 247.76C184.6 240.33 186.06 235.53 189.27 227.64C192.48 219.76 197.87 207.71 201.31 200.46C204.75 193.21 206.47 187.59 209.91 184.15C213.35 180.7 214.21 180.61 221.95 179.8C229.69 178.98 244.88 179.34 256.35 179.25C267.82 179.16 285.02 179.25 290.75 179.25" fill="none" stroke="#8E44AD" stroke-width="2.2"/>
<path d="M118.75 264.61C130.22 264.61 141.68 262.98 153.15 260.26C164.62 257.55 176.66 251.75 187.55 248.3C198.44 244.86 211.4 241.05 218.51 239.6C225.62 238.15 226.28 239.06 230.21 239.6C234.13 240.15 238.12 241.24 242.07 242.87C246.03 244.5 249.96 246.67 253.94 249.39C257.93 252.11 261.97 255.55 265.98 259.18C270 262.8 273.89 267.06 278.02 271.14C282.15 275.22 288.63 281.56 290.75 283.64" fill="none" stroke="#8E44AD" stroke-width="2.2"/>
<path d="M118.75 559.3C121.62 547.52 129.93 511.82 135.95 488.62C141.97 465.42 150.28 437.33 154.87 420.11C159.46 402.9 159.28 398.36 163.47 385.32C167.66 372.27 173.9 354.05 179.98 341.82C186.06 329.59 193.25 320.07 199.93 311.92C206.61 303.76 215.04 297.33 220.06 292.89C225.07 288.45 226.71 287.99 230.03 285.28C233.36 282.56 235.42 281.65 240.01 276.58C244.6 271.5 251.96 260.45 257.55 254.83C263.14 249.21 268.02 244.14 273.55 242.87C279.08 241.6 287.88 246.49 290.75 247.22" fill="none" stroke="#8E44AD" stroke-width="2.2"/>
<path d="M118.75 559.3C121.62 551.6 130.22 528.04 135.95 513.09C141.68 498.13 146.99 485.08 153.15 469.59C159.31 454.09 167.63 433.34 172.93 420.11C178.23 406.88 181.3 399.36 184.97 390.21C188.64 381.06 191.65 373.26 194.95 365.2C198.24 357.13 201.4 349.34 204.75 341.82C208.1 334.3 211.69 327.05 215.07 320.07C218.45 313.09 221.72 306.66 225.05 299.96C228.37 293.25 231.24 285.09 235.02 279.84C238.81 274.58 242.39 271.68 247.75 268.42C253.11 265.16 260.02 263.8 267.19 260.26C274.35 256.73 286.82 249.39 290.75 247.22" fill="none" stroke="#8E44AD" stroke-width="2.2"/>
<path d="M118.75 559.3C121.62 552.96 130.22 533.47 135.95 521.24C141.68 509.01 144.46 502.76 153.15 485.9C161.84 469.05 178.61 437.78 188.07 420.11C197.53 402.44 202.92 390.75 209.91 379.88C216.9 369 223.35 362.39 230.03 354.87C236.71 347.35 243.31 342.36 249.99 334.75C256.67 327.14 263.32 317.72 270.11 309.2C276.9 300.68 287.31 287.9 290.75 283.64" fill="none" stroke="#8E44AD" stroke-width="2.2"/>
<path d="M290.75 109.66C299.06 110.57 326.3 111.83 340.63 115.1C354.96 118.36 364.42 124.07 376.75 129.23C389.08 134.4 403.12 141.19 414.59 146.09C426.06 150.98 437.52 156.33 445.55 158.59C453.58 160.86 457.02 159.68 462.75 159.68" fill="none" stroke="#8E44AD" stroke-width="2.2"/>
<path d="M290.75 179.25C305.08 179.16 348.08 179.16 376.75 178.71C405.42 178.26 434.08 176.54 462.75 176.54" fill="none" stroke="#8E44AD" stroke-width="2.2"/>
<path d="M290.75 247.22C302.22 242.14 338.91 226.56 359.55 216.77C380.19 206.98 397.39 195.2 414.59 188.5C431.79 181.79 446.7 176.54 462.75 176.54" fill="none" stroke="#8E44AD" stroke-width="2.2"/>
<path d="M290.75 283.64C296.48 281.56 312.25 277.3 325.15 271.14C338.05 264.98 353.24 253.92 368.15 246.67C383.06 239.42 398.82 232.45 414.59 227.64C430.36 222.84 446.7 217.86 462.75 217.86" fill="none" stroke="#8E44AD" stroke-width="2.2"/>
<path d="M290.75 247.22C296.48 249.84 311.39 252.47 325.15 262.98C338.91 273.5 358.98 295.79 373.31 310.29C387.64 324.78 400.54 340.19 411.15 349.98C421.76 359.76 428.35 364.84 436.95 369C445.55 373.17 454.15 374.99 462.75 374.99" fill="none" stroke="#8E44AD" stroke-width="2.2"/>
<path d="M290.75 283.64C296.77 288.08 312.54 299.68 326.87 310.29C341.2 320.89 362.13 337.11 376.75 347.26C391.37 357.41 403.7 365.02 414.59 371.18C425.48 377.34 434.08 380.88 442.11 384.23C450.14 387.58 455.87 391.3 462.75 391.3" fill="none" stroke="#8E44AD" stroke-width="2.2"/>
<path d="M462.75 159.68C472.5 159.68 482.53 158.96 491.99 160.77C501.45 162.58 511.77 166.39 519.51 170.55C527.25 174.72 532.41 179.25 538.43 185.78C544.45 192.3 549.61 199.55 555.63 209.7C561.65 219.85 568.24 232.81 574.55 246.67C580.86 260.54 587.45 279.02 593.47 292.89C599.49 306.75 605.51 320.8 610.67 329.86C615.83 338.92 620.42 343.36 624.43 347.26C628.44 351.15 631.31 353.24 634.75 353.24" fill="none" stroke="#8E44AD" stroke-width="2.2"/>
<path d="M462.75 176.54C469.63 176.54 477.08 174.72 483.39 176.54C489.7 178.35 494.57 181.88 500.59 187.41C506.61 192.94 514.06 201.36 519.51 209.7C524.96 218.04 528.68 226.65 533.27 237.43C537.86 248.21 541.58 259 547.03 274.4C552.48 289.81 557.06 301.4 565.95 329.86C574.84 358.31 588.88 406.88 600.35 445.12C611.82 483.36 629.02 540.27 634.75 559.3" fill="none" stroke="#8E44AD" stroke-width="2.2"/>
<path d="M462.75 217.86C478.8 217.86 496.58 223.38 510.91 228.19C525.24 232.99 536.42 241.42 548.75 246.67C561.08 251.93 574.26 256.82 584.87 259.72C595.48 262.62 604.08 263.26 612.39 264.07C620.7 264.89 627.3 264.61 634.75 264.61" fill="none" stroke="#8E44AD" stroke-width="2.2"/>
<path d="M462.75 374.99C472.5 374.99 483.39 374.8 491.99 376.07C500.59 377.34 507.18 379.24 514.35 382.6C521.52 385.95 528.4 390.75 534.99 396.19C541.58 401.63 547.32 407.97 553.91 415.22C560.5 422.47 567.67 430.17 574.55 439.69C581.43 449.2 588.6 460.98 595.19 472.31C601.78 483.64 607.52 493.15 614.11 507.65C620.7 522.15 631.31 550.69 634.75 559.3" fill="none" stroke="#8E44AD" stroke-width="2.2"/>
<path d="M462.75 391.3C472.5 391.3 482.53 390.66 491.99 393.47C501.45 396.28 510.34 401.72 519.51 408.15C528.68 414.59 537.57 422.2 547.03 432.07C556.49 441.95 566.81 455.09 576.27 467.41C585.73 479.74 594.04 490.7 603.79 506.02C613.54 521.33 629.59 550.42 634.75 559.3" fill="none" stroke="#8E44AD" stroke-width="2.2"/>
<path d="M634.75 264.61C643.92 264.61 651.66 265.88 662.27 263.53C672.88 261.17 684.92 254.01 698.39 250.48C711.86 246.94 730.78 242.96 743.11 242.32C755.44 241.69 761.74 243.14 772.35 246.67C782.96 250.21 795.28 263.53 806.75 263.53" fill="none" stroke="#8E44AD" stroke-width="2.2"/>
<path d="M634.75 559.3C643.35 543.44 671.3 494.96 686.35 464.15C701.4 433.34 715.02 395.74 725.05 374.44C735.08 353.15 740.36 347.08 746.55 336.38C752.74 325.69 756.47 318.26 762.2 310.29C767.94 302.31 773.53 296.33 780.95 288.54C788.37 280.74 798.15 263.53 806.75 263.53" fill="none" stroke="#8E44AD" stroke-width="2.2"/>
<path d="M634.75 352.69C651.95 352.69 671.44 354.6 686.35 357.04C701.26 359.49 709.86 362.3 724.19 367.37C738.52 372.45 758.59 381.06 772.35 387.49C786.11 393.92 795.28 405.98 806.75 405.98" fill="none" stroke="#8E44AD" stroke-width="2.2"/>
<path d="M634.75 559.3C640.48 551.6 655.39 529.94 669.15 513.09C682.91 496.23 701.54 472.67 717.31 458.17C733.08 443.67 748.84 434.79 763.75 426.09C778.66 417.39 792.42 405.98 806.75 405.98" fill="none" stroke="#8E44AD" stroke-width="2.2"/>
<path d="M634.75 339.65C639.34 340.01 653.1 340.28 662.27 341.82C671.44 343.36 682.34 346.62 689.79 348.89C697.24 351.15 701.83 353.33 706.99 355.41C712.15 357.5 718.46 360.4 720.75 361.39" fill="none" stroke="#000" stroke-width="2.2"/>
<path d="M807.5 92C807.63 92.47 807.08 93.1 808.3 94.8C809.52 96.5 810.02 99.42 814.8 102.2C819.58 104.98 828.67 108.42 837 111.5C845.33 114.58 856.17 118.08 864.8 120.7C873.43 123.32 882.8 125.35 888.8 127.2C894.8 129.05 899.57 129.8 900.8 131.8C902.03 133.8 897.73 136.12 896.2 139.2C894.67 142.28 891.9 147.52 891.6 150.3C891.3 153.08 891.17 153.73 894.4 155.9C897.63 158.07 905.15 161.15 911 163.3C916.85 165.45 924.25 167.27 929.5 168.8C934.75 170.33 940.03 171.42 942.5 172.5C944.97 173.58 945.85 174.22 944.3 175.3C942.75 176.38 937.52 177.77 933.2 179C928.88 180.23 922.72 181 918.4 182.7C914.08 184.4 910.23 186.27 907.3 189.2C904.37 192.13 902.02 196.92 900.8 200.3C899.58 203.68 899.22 206.73 900 209.5C900.78 212.27 902.73 214.12 905.5 216.9C908.27 219.68 913.22 223.12 916.6 226.2C919.98 229.28 923.8 232.63 925.8 235.4C927.8 238.17 928.6 240.8 928.6 242.8C928.6 244.8 928.12 245.85 925.8 247.4C923.48 248.95 919.63 250.4 914.7 252.1C909.77 253.8 902.98 255.45 896.2 257.6C889.42 259.75 878.93 262.83 874 265C869.07 267.17 867.98 268.13 866.6 270.6C865.22 273.07 865.38 276.1 865.7 279.8C866.02 283.5 867.42 288.17 868.5 292.8C869.58 297.43 870.67 302.27 872.2 307.6C873.73 312.93 875.23 318.85 877.7 324.8C880.17 330.75 883.92 337.43 887 343.3C890.08 349.17 892.2 355.98 896.2 360C900.2 364.02 905.75 364.78 911 367.4C916.25 370.02 924.92 373.85 927.7 375.7C930.48 377.55 930.48 377.12 927.7 378.5C924.92 379.88 916.87 385.17 911 384C905.13 382.83 901.75 371.8 892.5 371.5C883.25 371.2 864.75 377.95 855.5 382.2C846.25 386.45 842.25 391.15 837 397C831.75 402.85 827.38 409.6 824 417.3C820.62 425 818.85 433.33 816.7 443.2C814.55 453.07 812.47 465.37 811.1 476.5C809.73 487.63 809.12 496.42 808.5 510C807.88 523.58 807.58 550 807.4 558L807 558L807 92Z" fill="#bfbfbf" stroke="none"/>
<path d="M807.5 92C807.63 92.47 807.08 93.1 808.3 94.8C809.52 96.5 810.02 99.42 814.8 102.2C819.58 104.98 828.67 108.42 837 111.5C845.33 114.58 856.17 118.08 864.8 120.7C873.43 123.32 882.8 125.35 888.8 127.2C894.8 129.05 899.57 129.8 900.8 131.8C902.03 133.8 897.73 136.12 896.2 139.2C894.67 142.28 891.9 147.52 891.6 150.3C891.3 153.08 891.17 153.73 894.4 155.9C897.63 158.07 905.15 161.15 911 163.3C916.85 165.45 924.25 167.27 929.5 168.8C934.75 170.33 940.03 171.42 942.5 172.5C944.97 173.58 945.85 174.22 944.3 175.3C942.75 176.38 937.52 177.77 933.2 179C928.88 180.23 922.72 181 918.4 182.7C914.08 184.4 910.23 186.27 907.3 189.2C904.37 192.13 902.02 196.92 900.8 200.3C899.58 203.68 899.22 206.73 900 209.5C900.78 212.27 902.73 214.12 905.5 216.9C908.27 219.68 913.22 223.12 916.6 226.2C919.98 229.28 923.8 232.63 925.8 235.4C927.8 238.17 928.6 240.8 928.6 242.8C928.6 244.8 928.12 245.85 925.8 247.4C923.48 248.95 919.63 250.4 914.7 252.1C909.77 253.8 902.98 255.45 896.2 257.6C889.42 259.75 878.93 262.83 874 265C869.07 267.17 867.98 268.13 866.6 270.6C865.22 273.07 865.38 276.1 865.7 279.8C866.02 283.5 867.42 288.17 868.5 292.8C869.58 297.43 870.67 302.27 872.2 307.6C873.73 312.93 875.23 318.85 877.7 324.8C880.17 330.75 883.92 337.43 887 343.3C890.08 349.17 892.2 355.98 896.2 360C900.2 364.02 905.75 364.78 911 367.4C916.25 370.02 924.92 373.85 927.7 375.7C930.48 377.55 930.48 377.12 927.7 378.5C924.92 379.88 918.4 381.85 911 384C903.6 386.15 892.55 388.62 883.3 391.4C874.05 394.18 862.6 397.6 855.5 400.7C848.4 403.8 845.02 406 840.7 410C836.38 414 832.98 419.17 829.6 424.7C826.22 430.23 822.87 436.1 820.4 443.2C817.93 450.3 816.35 458.67 814.8 467.3C813.25 475.93 812.18 484.22 811.1 495C810.02 505.78 808.92 521.5 808.3 532C807.68 542.5 807.55 553.67 807.4 558" fill="none" stroke="#000" stroke-width="2.3"/>
<path d="M807.5 112C807.63 113.15 804.92 116.52 808.3 118.9C811.68 121.28 815.3 123.83 827.8 126.3C840.3 128.77 868.2 131.23 883.3 133.7C898.4 136.17 913.17 138.33 918.4 141.1C923.63 143.87 915.62 146.92 914.7 150.3C913.78 153.68 911.05 157.38 912.9 161.4C914.75 165.42 919.95 170.7 925.8 174.4C931.65 178.1 944.3 180.83 948 183.6C951.7 186.37 950.47 188.22 948 191C945.53 193.78 935.67 197.52 933.2 200.3C930.73 203.08 932.27 205.55 933.2 207.7C934.13 209.85 939.42 211.35 938.8 213.2C938.18 215.05 934.13 216.63 929.5 218.8C924.87 220.97 915.93 223.12 911 226.2C906.07 229.28 901.13 233.6 899.9 237.3C898.67 241 903.92 245.63 903.6 248.4C903.28 251.17 902.32 251.43 898 253.9C893.68 256.37 881.7 259.8 877.7 263.2C873.7 266.6 873.38 267.83 874 274.3C874.62 280.77 879.57 296.05 881.4 302C883.23 307.95 882.53 304.67 885 310C887.47 315.33 892.48 327.22 896.2 334C899.92 340.78 901.13 346.07 907.3 350.7C913.47 355.33 928.88 359.58 933.2 361.8C937.52 364.02 936.9 363.07 933.2 364C929.5 364.93 920.87 365.3 911 367.4C901.13 369.5 884.78 372.6 874 376.6C863.22 380.6 853.08 386.47 846.3 391.4C839.52 396.33 837.32 400.03 833.3 406.2C829.28 412.37 825.13 420.38 822.2 428.4C819.27 436.42 817.55 444.87 815.7 454.3C813.85 463.73 812.3 474.05 811.1 485C809.9 495.95 809.12 507.83 808.5 520C807.88 532.17 807.58 551.67 807.4 558" fill="none" stroke="#5BB4E5" stroke-width="2.2"/>
<path d="M807.5 96C807.63 97 805.55 97.57 808.3 102C811.05 106.43 816.13 117.78 824 122.6C831.87 127.42 844.08 128.9 855.5 130.9C866.92 132.9 881.7 133.37 892.5 134.6C903.3 135.83 912.58 136.92 920.3 138.3C928.02 139.68 935.42 141.52 938.8 142.9C942.18 144.28 941.53 144.43 940.6 146.6C939.67 148.77 936.28 152.82 933.2 155.9C930.12 158.98 923.33 161.72 922.1 165.1C920.87 168.48 921.48 173.42 925.8 176.2C930.12 178.98 942.45 180.42 948 181.8C953.55 183.18 960.33 183.27 959.1 184.5C957.87 185.73 946.77 187.5 940.6 189.2C934.43 190.9 924.57 192.55 922.1 194.7C919.63 196.85 922.72 199.93 925.8 202.1C928.88 204.27 939.37 205.55 940.6 207.7C941.83 209.85 937.52 212.53 933.2 215C928.88 217.47 920.57 220.02 914.7 222.5C908.83 224.98 901.08 227.13 898 229.9C894.92 232.67 895.27 236.02 896.2 239.1C897.13 242.18 902.98 246.23 903.6 248.4C904.22 250.57 904.22 249.95 899.9 252.1C895.58 254.25 882.17 258.53 877.7 261.3C873.23 264.07 873.1 263.45 873.1 268.7C873.1 273.95 876 285.92 877.7 292.8C879.4 299.68 880.83 304.05 883.3 310C885.77 315.95 887.88 322.63 892.5 328.5C897.12 334.37 902.98 340.27 911 345.2C919.02 350.13 935.67 355.18 940.6 358.1C945.53 361.02 943.98 361.47 940.6 362.7C937.22 363.93 928.32 364.12 920.3 365.5C912.28 366.88 903.3 368.22 892.5 371C881.7 373.78 864.75 377.87 855.5 382.2C846.25 386.53 842.25 391.15 837 397C831.75 402.85 827.38 409.6 824 417.3C820.62 425 818.85 433.33 816.7 443.2C814.55 453.07 812.5 464.53 811.1 476.5C809.7 488.47 808.92 501.42 808.3 515C807.68 528.58 807.55 550.83 807.4 558" fill="none" stroke="#3CAA6E" stroke-width="2.2"/>
<path d="M807.5 97C807.63 98.17 804.92 99.43 808.3 104C811.68 108.57 816.85 119.62 827.8 124.4C838.75 129.18 859.82 130.38 874 132.7C888.18 135.02 905.5 135.37 912.9 138.3C920.3 141.23 918.72 145.83 918.4 150.3C918.08 154.77 910.68 161.08 911 165.1C911.32 169.12 914.43 172.08 920.3 174.4C926.17 176.72 937.88 177.47 946.2 179C954.52 180.53 966.5 182.37 970.2 183.6C973.9 184.83 975.18 184.85 968.4 186.4C961.62 187.95 939.07 190.9 929.5 192.9C919.93 194.9 914.38 195.93 911 198.4C907.62 200.87 907.65 204.62 909.2 207.7C910.75 210.78 916.3 213.82 920.3 216.9C924.3 219.98 931.67 223.73 933.2 226.2C934.73 228.67 932.58 229.85 929.5 231.7C926.42 233.55 918.08 235.13 914.7 237.3C911.32 239.47 910.73 242.55 909.2 244.7C907.67 246.85 909.82 247.73 905.5 250.2C901.18 252.67 888.55 256.72 883.3 259.5C878.05 262.28 875.4 262.9 874 266.9C872.6 270.9 874.28 276.32 874.9 283.5C875.52 290.68 876 301.58 877.7 310C879.4 318.42 881.72 326.28 885.1 334C888.48 341.72 892.13 350.73 898 356.3C903.87 361.87 914.43 364.63 920.3 367.4C926.17 370.17 931.67 371.37 933.2 372.9C934.73 374.43 934.73 375.37 929.5 376.6C924.27 377.83 911.67 378.45 901.8 380.3C891.93 382.15 879.55 384.62 870.3 387.7C861.05 390.78 852.77 394.48 846.3 398.8C839.83 403.12 835.52 407.43 831.5 413.6C827.48 419.77 824.98 426.85 822.2 435.8C819.42 444.75 816.92 454.93 814.8 467.3C812.68 479.67 810.73 494.88 809.5 510C808.27 525.12 807.75 550 807.4 558" fill="none" stroke="#DCA11E" stroke-width="2.2"/>
<path d="M807.5 100C807.63 101.3 805.85 104.03 808.3 107.8C810.75 111.57 815.87 118.9 822.2 122.6C828.53 126.3 836.12 128.15 846.3 130C856.48 131.85 872.52 132.47 883.3 133.7C894.08 134.93 905.45 135.87 911 137.4C916.55 138.93 915.37 139.52 916.6 142.9C917.83 146.28 917.48 153.68 918.4 157.7C919.32 161.72 918.4 164.53 922.1 167C925.8 169.47 936.75 170.97 940.6 172.5C944.45 174.03 947.05 174.82 945.2 176.2C943.35 177.58 935.2 178.95 929.5 180.8C923.8 182.65 915.92 184.37 911 187.3C906.08 190.23 902.32 194.7 900 198.4C897.68 202.1 896.5 206.1 897.1 209.5C897.7 212.9 900.05 215.72 903.6 218.8C907.15 221.88 914.38 225.23 918.4 228C922.42 230.77 926.15 233.57 927.7 235.4C929.25 237.23 929.25 237.45 927.7 239C926.15 240.55 920.25 242.22 918.4 244.7C916.55 247.18 919.07 251.6 916.6 253.9C914.13 256.2 909.15 256.65 903.6 258.5C898.05 260.35 888.23 262.98 883.3 265C878.37 267.02 875.7 268.13 874 270.6C872.3 273.07 872.78 274.57 873.1 279.8C873.42 285.03 874.82 293.63 875.9 302C876.98 310.37 878.68 324.97 879.6 330C880.52 335.03 879.25 327.82 881.4 332.2C883.55 336.58 887.57 350.13 892.5 356.3C897.43 362.47 905.3 365.82 911 369.2C916.7 372.58 924.23 374.6 926.7 376.6C929.17 378.6 928.42 379.65 925.8 381.2C923.18 382.75 918.08 383.88 911 385.9C903.92 387.92 893.47 390.22 883.3 393.3C873.13 396.38 858.33 400.4 850 404.4C841.67 408.4 837.63 412.07 833.3 417.3C828.97 422.53 826.77 428.4 824 435.8C821.23 443.2 818.85 451.83 816.7 461.7C814.55 471.57 812.5 483.28 811.1 495C809.7 506.72 808.92 521.5 808.3 532C807.68 542.5 807.55 553.67 807.4 558" fill="none" stroke="#8E44AD" stroke-width="2.2"/>
<rect x="118.75" y="15.5" width="688" height="543.8" fill="none" stroke="#000" stroke-width="2"/>
<rect x="806.75" y="15.5" width="172.25" height="543.8" fill="none" stroke="#000" stroke-width="2"/>
<line x1="110.95" y1="559.3" x2="118.75" y2="559.3" stroke="#000" stroke-width="3.8"/>
<line x1="799.75" y1="559.3" x2="806.75" y2="559.3" stroke="#000" stroke-width="2.5"/>
<text x="106.2" y="573.7" font-size="39" text-anchor="end" textLength="22.45" lengthAdjust="spacingAndGlyphs">0</text>
<line x1="110.95" y1="450.56" x2="118.75" y2="450.56" stroke="#000" stroke-width="3.8"/>
<line x1="799.75" y1="450.56" x2="806.75" y2="450.56" stroke="#000" stroke-width="2.5"/>
<text x="106.2" y="464.96" font-size="39" text-anchor="end" textLength="22.45" lengthAdjust="spacingAndGlyphs">2</text>
<line x1="110.95" y1="341.82" x2="118.75" y2="341.82" stroke="#000" stroke-width="3.8"/>
<line x1="799.75" y1="341.82" x2="806.75" y2="341.82" stroke="#000" stroke-width="2.5"/>
<text x="106.2" y="356.22" font-size="39" text-anchor="end" textLength="22.45" lengthAdjust="spacingAndGlyphs">4</text>
<line x1="110.95" y1="233.08" x2="118.75" y2="233.08" stroke="#000" stroke-width="3.8"/>
<line x1="799.75" y1="233.08" x2="806.75" y2="233.08" stroke="#000" stroke-width="2.5"/>
<text x="106.2" y="247.48" font-size="39" text-anchor="end" textLength="22.45" lengthAdjust="spacingAndGlyphs">6</text>
<line x1="110.95" y1="124.34" x2="118.75" y2="124.34" stroke="#000" stroke-width="3.8"/>
<line x1="799.75" y1="124.34" x2="806.75" y2="124.34" stroke="#000" stroke-width="2.5"/>
<text x="106.2" y="138.74" font-size="39" text-anchor="end" textLength="22.45" lengthAdjust="spacingAndGlyphs">8</text>
<line x1="110.95" y1="15.6" x2="118.75" y2="15.6" stroke="#000" stroke-width="3.8"/>
<line x1="799.75" y1="15.6" x2="806.75" y2="15.6" stroke="#000" stroke-width="2.5"/>
<text x="106.2" y="30" font-size="39" text-anchor="end" textLength="44.9" lengthAdjust="spacingAndGlyphs">10</text>
<line x1="118.75" y1="559.3" x2="118.75" y2="567.1" stroke="#000" stroke-width="3.8"/>
<text x="118.75" y="598.7" font-size="37" text-anchor="middle" textLength="20.61" lengthAdjust="spacingAndGlyphs">Γ</text>
<line x1="290.75" y1="559.3" x2="290.75" y2="567.1" stroke="#000" stroke-width="3.8"/>
<text x="290.75" y="598.7" font-size="37" text-anchor="middle" textLength="24.27" lengthAdjust="spacingAndGlyphs">K</text>
<line x1="462.75" y1="559.3" x2="462.75" y2="567.1" stroke="#000" stroke-width="3.8"/>
<text x="462.75" y="598.7" font-size="37" text-anchor="middle" textLength="31.93" lengthAdjust="spacingAndGlyphs">M</text>
<line x1="634.75" y1="559.3" x2="634.75" y2="567.1" stroke="#000" stroke-width="3.8"/>
<text x="634.75" y="598.7" font-size="37" text-anchor="middle" textLength="20.61" lengthAdjust="spacingAndGlyphs">Γ</text>
<line x1="806.75" y1="559.3" x2="806.75" y2="567.1" stroke="#000" stroke-width="3.8"/>
<text x="806.75" y="598.7" font-size="37" text-anchor="middle" textLength="25.31" lengthAdjust="spacingAndGlyphs">A</text>
<line x1="856.45" y1="559.3" x2="856.45" y2="563.8" stroke="#000" stroke-width="1.4"/>
<text x="856.45" y="592.6" font-size="32" text-anchor="middle" textLength="50.88" lengthAdjust="spacingAndGlyphs">0.1</text>
<line x1="955.85" y1="559.3" x2="955.85" y2="563.8" stroke="#000" stroke-width="1.4"/>
<text x="955.85" y="592.6" font-size="32" text-anchor="middle" textLength="50.88" lengthAdjust="spacingAndGlyphs">0.3</text>
<text x="892.88" y="629" font-size="32" text-anchor="middle" textLength="70.18" lengthAdjust="spacingAndGlyphs">DOS</text>
<text x="47.8" y="436.6" font-size="37" text-anchor="start" textLength="298" lengthAdjust="spacingAndGlyphs" transform="rotate(-90 47.8 436.6)">Frequency (THz)</text>
<text x="133.5" y="55" font-size="37" text-anchor="start" font-weight="bold" textLength="21.73" lengthAdjust="spacingAndGlyphs">a</text>
<rect x="608" y="29.9" width="184" height="217.8" rx="3.5" fill="#fff" fill-opacity="0.8" stroke="#cccccc" stroke-width="1.2"/>
<line x1="619" y1="53.4" x2="677" y2="53.4" stroke="#000" stroke-width="2.4" stroke-dasharray="8.4 3.6"/>
<text x="698.6" y="63.6" font-size="30" text-anchor="start" textLength="56.04" lengthAdjust="spacingAndGlyphs">DFT</text>
<line x1="619" y1="95.3" x2="677" y2="95.3" stroke="#5BB4E5" stroke-width="2.1"/>
<text x="698.6" y="105.5" font-size="30" text-anchor="start" textLength="45.44" lengthAdjust="spacingAndGlyphs">5%</text>
<line x1="619" y1="137.2" x2="677" y2="137.2" stroke="#3CAA6E" stroke-width="2.1"/>
<text x="698.6" y="147.4" font-size="30" text-anchor="start" textLength="63.66" lengthAdjust="spacingAndGlyphs">10%</text>
<line x1="619" y1="179.1" x2="677" y2="179.1" stroke="#DCA11E" stroke-width="2.1"/>
<text x="698.6" y="189.3" font-size="30" text-anchor="start" textLength="63.66" lengthAdjust="spacingAndGlyphs">40%</text>
<line x1="619" y1="221" x2="677" y2="221" stroke="#8E44AD" stroke-width="2.1"/>
<text x="698.6" y="231.2" font-size="30" text-anchor="start" textLength="81.88" lengthAdjust="spacingAndGlyphs">100%</text>
<g transform="translate(0 0)">
<rect x="213" y="392" width="239" height="157" fill="#fff"/>
<line x1="267.6" y1="431.8" x2="319.2" y2="399.4" stroke="#000" stroke-width="1.5"/>
<line x1="319.2" y1="399.4" x2="406.8" y2="403.7" stroke="#000" stroke-width="1.5"/>
<line x1="406.8" y1="403.7" x2="441.6" y2="440.7" stroke="#000" stroke-width="1.5"/>
<line x1="441.6" y1="440.7" x2="390" y2="472.6" stroke="#000" stroke-width="1.5"/>
<line x1="390" y1="472.6" x2="303.1" y2="469" stroke="#000" stroke-width="1.5"/>
<line x1="303.1" y1="469" x2="267.6" y2="431.8" stroke="#000" stroke-width="1.5"/>
<line x1="267.6" y1="431.8" x2="267.6" y2="497.8" stroke="#000" stroke-width="1.5"/>
<line x1="303.1" y1="469" x2="303.1" y2="535" stroke="#000" stroke-width="1.5"/>
<line x1="390" y1="472.6" x2="390" y2="538.6" stroke="#000" stroke-width="1.5"/>
<line x1="441.6" y1="440.7" x2="441.6" y2="506.7" stroke="#000" stroke-width="1.5"/>
<line x1="267.6" y1="497.8" x2="303.1" y2="535" stroke="#000" stroke-width="1.5"/>
<line x1="303.1" y1="535" x2="390" y2="538.6" stroke="#000" stroke-width="1.5"/>
<line x1="390" y1="538.6" x2="441.6" y2="506.7" stroke="#000" stroke-width="1.5"/>
<line x1="319.2" y1="399.4" x2="319.2" y2="465.4" stroke="#000" stroke-width="1.2" stroke-dasharray="1.3 1.3"/>
<line x1="406.8" y1="403.7" x2="406.8" y2="469.5" stroke="#000" stroke-width="1.2" stroke-dasharray="1.3 1.3"/>
<line x1="267.6" y1="497.8" x2="319.2" y2="465.4" stroke="#000" stroke-width="1.2" stroke-dasharray="1.3 1.3"/>
<line x1="319.2" y1="465.4" x2="406.8" y2="469.5" stroke="#000" stroke-width="1.2" stroke-dasharray="1.3 1.3"/>
<line x1="406.8" y1="469.5" x2="441.6" y2="506.7" stroke="#000" stroke-width="1.2" stroke-dasharray="1.3 1.3"/>
<line x1="354.7" y1="470.2" x2="303.1" y2="502.6" stroke="#ff1a1a" stroke-width="1.7"/>
<line x1="303.1" y1="502.6" x2="285.1" y2="484.1" stroke="#ff1a1a" stroke-width="1.7"/>
<line x1="354.7" y1="436.6" x2="285.1" y2="451" stroke="#ff1a1a" stroke-width="1.7"/>
<line x1="285.1" y1="451" x2="303.1" y2="469" stroke="#ff1a1a" stroke-width="1.7"/>
<line x1="303.1" y1="469" x2="354.7" y2="436.6" stroke="#ff1a1a" stroke-width="1.7"/>
<line x1="285.1" y1="451" x2="285.1" y2="484.1" stroke="#ff1a1a" stroke-width="1.7"/>
<line x1="303.1" y1="469" x2="303.1" y2="502.6" stroke="#ff1a1a" stroke-width="1.7"/>
<line x1="285.1" y1="484.1" x2="354.7" y2="470.2" stroke="#5a0a0a" stroke-width="1.3"/>
<line x1="354.7" y1="470.2" x2="354.7" y2="436.6" stroke="#5a0a0a" stroke-width="1.3"/>
<line x1="354.7" y1="470.2" x2="354.7" y2="413.6" stroke="#000" stroke-width="0.9"/>
<path d="M354.7 406.6L357.9 413.6L351.5 413.6Z" fill="#000"/>
<line x1="354.7" y1="470.2" x2="226.47" y2="495.26" stroke="#000" stroke-width="0.9"/>
<path d="M219.6 496.6L225.86 492.12L227.08 498.4Z" fill="#000"/>
<line x1="354.7" y1="470.2" x2="341.19" y2="528.18" stroke="#000" stroke-width="0.9"/>
<path d="M339.6 535L338.07 527.46L344.31 528.91Z" fill="#000"/>
<circle cx="354.7" cy="470.2" r="1.6" fill="#0000ff"/>
<text x="354.7" y="468.2" font-size="10.5" text-anchor="middle" style="fill:#2ca02c">Γ</text>
<circle cx="354.7" cy="436.6" r="1.6" fill="#0000ff"/>
<text x="354.7" y="434.6" font-size="10.5" text-anchor="middle" style="fill:#2ca02c">A</text>
<circle cx="285.1" cy="451" r="1.6" fill="#0000ff"/>
<text x="285.1" y="449" font-size="10.5" text-anchor="middle" style="fill:#2ca02c">L</text>
<circle cx="303.1" cy="469" r="1.6" fill="#0000ff"/>
<text x="303.1" y="467" font-size="10.5" text-anchor="middle" style="fill:#2ca02c">H</text>
<circle cx="285.1" cy="484.1" r="1.6" fill="#0000ff"/>
<text x="285.1" y="482.1" font-size="10.5" text-anchor="middle" style="fill:#2ca02c">M</text>
<circle cx="303.1" cy="502.6" r="1.6" fill="#0000ff"/>
<text x="303.1" y="500.6" font-size="10.5" text-anchor="middle" style="fill:#2ca02c">K</text>
</g>
<line x1="239.99" y1="653.4" x2="239.99" y2="1200.2" stroke="#cfcfcf" stroke-width="1.1"/>
<line x1="336.57" y1="653.4" x2="336.57" y2="1200.2" stroke="#cfcfcf" stroke-width="1.1"/>
<line x1="433.16" y1="653.4" x2="433.16" y2="1200.2" stroke="#cfcfcf" stroke-width="1.1"/>
<line x1="529.75" y1="653.4" x2="529.75" y2="1200.2" stroke="#cfcfcf" stroke-width="1.1"/>
<line x1="626.34" y1="653.4" x2="626.34" y2="1200.2" stroke="#cfcfcf" stroke-width="1.1"/>
<line x1="722.92" y1="653.4" x2="722.92" y2="1200.2" stroke="#cfcfcf" stroke-width="1.1"/>
<path d="M143.4 952.6C144.9 945.18 149.86 920.46 152.38 908.1C154.91 895.74 156.49 886.68 158.56 878.44C160.64 870.2 162.36 863.39 164.84 858.66C167.32 853.94 170.77 852.35 173.44 850.09C176.11 847.84 178.19 847.18 180.88 845.15C183.56 843.12 187.28 841.2 189.57 837.9C191.85 834.6 192.63 830.98 194.59 825.37C196.56 819.77 198.94 811.64 201.35 804.28C203.77 796.92 206.34 788.35 209.08 781.21C211.82 774.07 214.87 766.76 217.77 761.43C220.67 756.1 223.73 751.74 226.46 749.24C229.2 746.74 231.94 746.98 234.19 746.44C236.45 745.89 238.06 745.94 239.99 745.94" fill="none" stroke="#000" stroke-width="2.3" stroke-dasharray="8.2 3.8"/>
<path d="M143.4 952.6C145.01 948.1 149.84 934.64 153.06 925.57C156.28 916.51 159.72 906.62 162.72 898.22C165.71 889.81 168.48 883.66 171.02 875.14C173.57 866.63 176.21 854.38 177.98 847.13C179.75 839.88 180.01 837.35 181.65 831.64C183.29 825.92 185.71 819.61 187.83 812.85C189.95 806.09 192.32 797.74 194.4 791.1C196.47 784.45 198.04 778.46 200.29 772.97C202.54 767.47 205.26 762.26 207.92 758.14C210.58 754.02 213.3 749.95 216.23 748.25C219.16 746.55 222.5 748.25 225.5 747.92C228.49 747.59 231.78 746.6 234.19 746.27C236.61 745.94 238.06 745.94 239.99 745.94" fill="none" stroke="#000" stroke-width="2.3" stroke-dasharray="8.2 3.8"/>
<path d="M239.99 745.94C241.92 745.94 243.37 745.83 245.78 746.27C248.2 746.71 250.48 748.25 254.48 748.58C258.47 748.91 265.49 744.73 269.74 748.25C273.99 751.76 276.88 760.06 279.97 769.67C283.06 779.29 285.53 793.02 288.28 805.93C291.03 818.84 294.09 833.12 296.49 847.13C298.89 861.14 301.13 877.89 302.67 889.98C304.22 902.06 304.86 908.1 305.76 919.64C306.66 931.18 307.37 944.36 308.08 959.19C308.79 974.02 309.21 994.07 310.01 1008.63C310.82 1023.19 311.7 1036.65 312.91 1046.54C314.12 1056.42 315.57 1061.37 317.26 1067.96C318.95 1074.55 321.28 1079.22 323.05 1086.09C324.82 1092.95 325.63 1103.94 327.88 1109.16C330.13 1114.38 333.68 1117.4 336.57 1117.4" fill="none" stroke="#000" stroke-width="2.3" stroke-dasharray="8.2 3.8"/>
<path d="M239.99 745.94C241.92 745.94 243.85 746.05 245.78 746.6C247.71 747.15 248.33 748.96 251.58 749.24C254.83 749.51 259.5 745.23 265.29 748.25C271.09 751.27 279.39 761.16 286.35 767.36C293.3 773.57 300.5 780.38 307.02 785.49C313.54 790.6 320.54 795.6 325.47 798.02C330.39 800.43 332.87 800 336.57 800" fill="none" stroke="#000" stroke-width="2.3" stroke-dasharray="8.2 3.8"/>
<path d="M336.57 800C341.02 800 344.59 798.57 349.9 798.18C355.22 797.8 362.97 796.56 368.45 797.69C373.92 798.81 378.32 800.65 382.74 804.94C387.17 809.22 390.9 815.27 395.01 823.4C399.11 831.53 403.27 841.91 407.37 853.72C411.48 865.53 415.34 877.78 419.64 894.26C423.94 910.74 430.91 942.88 433.16 952.6" fill="none" stroke="#000" stroke-width="2.3" stroke-dasharray="8.2 3.8"/>
<path d="M336.57 800C341.02 800 344.59 807.8 349.9 812.19C355.22 816.59 361.93 817.85 368.45 826.36C374.97 834.88 382.18 850.09 389.02 863.28C395.86 876.46 402.14 890.58 409.5 905.47C416.85 920.35 429.22 944.74 433.16 952.6" fill="none" stroke="#000" stroke-width="2.3" stroke-dasharray="8.2 3.8"/>
<path d="M336.57 1117.4C339.79 1117.4 342.13 1117.95 346.23 1115.75C350.34 1113.55 355.88 1111.63 361.2 1104.22C366.53 1096.8 372.54 1082.79 378.2 1071.26C383.87 1059.72 390.66 1045.16 395.2 1035C399.74 1024.84 402.33 1017.97 405.44 1010.28C408.55 1002.59 411.01 996 413.84 988.86C416.68 981.71 419.22 973.47 422.44 967.43C425.66 961.39 431.37 955.07 433.16 952.6" fill="none" stroke="#000" stroke-width="2.3" stroke-dasharray="8.2 3.8"/>
<path d="M433.16 952.6C434.13 950.95 437.02 945.35 438.96 942.71C440.89 940.08 442.5 937.88 444.75 936.78C447.01 935.68 450.45 935.68 452.48 936.12C454.51 936.56 455.49 936.56 456.92 939.42C458.35 942.27 459.4 946.67 461.07 953.26C462.75 959.85 464.92 970.78 466.97 978.97C469.01 987.15 470.12 991.6 473.34 1002.37C476.56 1013.14 481.71 1032.09 486.28 1043.57C490.86 1055.05 497.23 1065.16 500.77 1071.26C504.31 1077.35 504.8 1080.16 507.53 1080.16C510.27 1080.16 513.49 1076.04 517.19 1071.26C520.89 1066.48 527.66 1054.78 529.75 1051.48" fill="none" stroke="#000" stroke-width="2.3" stroke-dasharray="8.2 3.8"/>
<path d="M433.64 952.6C435.11 945.24 439.99 921.73 442.43 908.43C444.88 895.14 446.35 883.77 448.33 872.84C450.31 861.91 452.33 852.79 454.31 842.84C456.29 832.9 458.21 822.08 460.21 813.18C462.2 804.28 464.29 796.37 466.29 789.45C468.29 782.53 470.2 776.81 472.18 771.65C474.16 766.49 476.38 761.6 478.17 758.47C479.96 755.33 481.42 754.02 482.9 752.86C484.38 751.71 485.61 751.43 487.06 751.54C488.51 751.65 490.12 752.37 491.6 753.52C493.08 754.68 494.24 755.44 495.94 758.47C497.65 761.49 499.85 765.5 501.83 771.65C503.81 777.8 505.84 786.48 507.82 795.38C509.8 804.28 511.73 812.14 513.71 825.04C515.69 837.95 518.11 856.96 519.7 872.84C521.3 888.71 522.49 907.01 523.28 920.3C524.07 933.59 523.89 937.88 524.44 952.6C524.98 967.32 525.68 992.15 526.56 1008.63C527.45 1025.11 529.22 1044.34 529.75 1051.48" fill="none" stroke="#000" stroke-width="2.3" stroke-dasharray="8.2 3.8"/>
<path d="M529.75 1051.48C530.87 1043.79 534.32 1021.82 536.51 1005.34C538.7 988.86 541.11 968.64 542.88 952.6C544.65 936.56 545.38 923.38 547.13 909.09C548.89 894.81 550.96 880.91 553.41 866.9C555.86 852.9 558.37 839.05 561.81 825.04C565.26 811.04 569.62 793.4 574.08 782.86C578.54 772.31 583.42 767.86 588.57 761.79C593.72 755.72 600.3 749.65 604.99 746.45C609.67 743.25 613.12 743.41 616.68 742.61C620.23 741.82 623.12 741.66 626.34 741.66C629.55 741.66 632.44 741.82 635.99 742.61C639.55 743.41 643 743.25 647.68 746.45C652.37 749.65 658.95 755.72 664.1 761.79C669.25 767.86 674.13 772.31 678.59 782.86C683.05 793.4 687.41 811.04 690.86 825.04C694.3 839.05 696.81 852.9 699.26 866.9C701.71 880.91 703.78 894.81 705.54 909.09C707.29 923.38 708.02 936.56 709.79 952.6C711.56 968.64 713.97 988.86 716.16 1005.34C718.35 1021.82 721.8 1043.79 722.92 1051.48" fill="none" stroke="#000" stroke-width="2.3" stroke-dasharray="8.2 3.8"/>
<path d="M529.75 1051.48C531.28 1056.31 536.58 1074.28 538.92 1080.48C541.27 1086.69 541.5 1089.44 543.8 1088.72C546.1 1088.01 549.89 1087.13 552.74 1076.2C555.58 1065.27 558.56 1043.73 560.85 1023.13C563.13 1002.53 565.16 971.61 566.45 952.6C567.74 933.59 567.51 923.38 568.58 909.09C569.64 894.81 571.07 880.91 572.83 866.9C574.58 852.9 576.38 839.05 579.1 825.04C581.83 811.04 585.14 793.63 589.2 782.86C593.25 772.09 599.06 766.2 603.44 760.43C607.83 754.65 611.7 750.61 615.52 748.19C619.33 745.78 622.73 745.94 626.34 745.94C629.94 745.94 633.34 745.78 637.15 748.19C640.97 750.61 644.84 754.65 649.23 760.43C653.61 766.2 659.42 772.09 663.47 782.86C667.53 793.63 670.84 811.04 673.57 825.04C676.29 839.05 678.09 852.9 679.84 866.9C681.6 880.91 683.03 894.81 684.09 909.09C685.16 923.38 684.93 933.59 686.22 952.6C687.51 971.61 689.54 1002.53 691.82 1023.13C694.11 1043.73 697.09 1065.27 699.93 1076.2C702.78 1087.13 706.57 1088.01 708.87 1088.72C711.17 1089.44 711.4 1086.69 713.75 1080.48C716.09 1074.28 721.39 1056.31 722.92 1051.48" fill="none" stroke="#000" stroke-width="2.3" stroke-dasharray="8.2 3.8"/>
<path d="M722.92 1051.48C725.59 1044.34 733.68 1025.11 738.91 1008.63C744.14 992.15 751.07 971.39 754.31 952.6C757.56 933.81 756.33 913.54 758.37 895.91C760.41 878.28 763.03 860.04 766.58 846.8C770.13 833.56 774.99 823.56 779.68 816.48C784.37 809.39 788.08 807.03 794.72 804.28C801.35 801.53 811.24 800 819.51 800" fill="none" stroke="#000" stroke-width="2.3" stroke-dasharray="8.2 3.8"/>
<path d="M722.92 1051.48C725.76 1056.31 734.35 1070.87 739.92 1080.48C745.49 1090.1 750.18 1102.73 756.34 1109.16C762.51 1115.59 769.61 1117.67 776.91 1119.05C784.22 1120.42 793.09 1117.67 800.19 1117.4C807.29 1117.13 813.07 1117.4 819.51 1117.4" fill="none" stroke="#000" stroke-width="2.3" stroke-dasharray="8.2 3.8"/>
<path d="M143.4 952.6C144.9 947.38 149.86 930.63 152.38 921.29C154.91 911.95 156.09 904.26 158.56 896.57C161.04 888.88 164.78 879.15 167.26 875.14C169.74 871.13 170.75 874.59 173.44 872.51C176.13 870.42 180.07 867.34 183.39 862.62C186.7 857.89 190.5 851.69 193.34 844.16C196.17 836.64 197.92 826.86 200.39 817.46C202.85 808.07 205.38 797.14 208.11 787.8C210.85 778.46 213.75 768.68 216.81 761.43C219.86 754.18 223.57 747.62 226.46 744.29C229.36 740.97 231.94 742.04 234.19 741.49C236.45 740.94 238.06 741 239.99 741" fill="none" stroke="#5BB4E5" stroke-width="2.2"/>
<path d="M143.4 952.6C145.01 948.1 149.84 934.64 153.06 925.57C156.28 916.51 159.72 906.62 162.72 898.22C165.71 889.81 168.32 883.66 171.02 875.14C173.73 866.63 177.01 854.38 178.94 847.13C180.88 839.88 180.97 837.35 182.61 831.64C184.26 825.92 186.67 819.61 188.8 812.85C190.92 806.09 193.29 797.74 195.36 791.1C197.44 784.45 199 778.46 201.26 772.97C203.51 767.47 206.31 762.26 208.89 758.14C211.46 754.02 213.94 750.77 216.71 748.25C219.48 745.72 222.59 744.13 225.5 742.97C228.41 741.82 231.78 741.66 234.19 741.33C236.61 741 238.06 741 239.99 741" fill="none" stroke="#5BB4E5" stroke-width="2.2"/>
<path d="M239.99 741C241.92 741 243.37 740.89 245.78 741.33C248.2 741.77 250.8 742.48 254.48 743.63C258.15 744.79 263.88 743.91 267.8 748.25C271.73 752.59 274.95 760.06 278.04 769.67C281.13 779.29 283.6 793.02 286.35 805.93C289.1 818.84 292.16 833.12 294.56 847.13C296.96 861.14 299.19 877.89 300.74 889.98C302.29 902.06 302.93 908.1 303.83 919.64C304.73 931.18 305.44 944.36 306.15 959.19C306.86 974.02 307.28 994.07 308.08 1008.63C308.89 1023.19 309.77 1036.65 310.98 1046.54C312.19 1056.42 313.63 1061.37 315.32 1067.96C317.02 1074.55 319.03 1080.59 321.12 1086.09C323.21 1091.58 325.31 1097.07 327.88 1100.92C330.46 1104.77 333.68 1109.16 336.57 1109.16" fill="none" stroke="#5BB4E5" stroke-width="2.2"/>
<path d="M239.99 741C241.92 741 243.85 741.11 245.78 741.66C247.71 742.21 248.33 743.19 251.58 744.29C254.83 745.39 259.5 744.4 265.29 748.25C271.09 752.09 279.39 762.7 286.35 767.36C293.3 772.03 300.5 773.9 307.02 776.26C313.54 778.63 320.54 780.33 325.47 781.54C330.39 782.75 332.87 783.52 336.57 783.52" fill="none" stroke="#5BB4E5" stroke-width="2.2"/>
<path d="M239.99 741C241.92 741 243.85 741.11 245.78 741.66C247.71 742.21 248.33 743.19 251.58 744.29C254.83 745.39 259.5 744.4 265.29 748.25C271.09 752.09 279.39 760.22 286.35 767.36C293.3 774.51 300.5 785.16 307.02 791.1C313.54 797.03 320.54 800.65 325.47 802.96C330.39 805.27 332.87 804.94 336.57 804.94" fill="none" stroke="#5BB4E5" stroke-width="2.2"/>
<path d="M336.57 783.52C341.02 783.52 344.59 784.83 349.9 785.82C355.22 786.81 362.97 787.64 368.45 789.45C373.92 791.26 378.32 792.41 382.74 796.7C387.17 800.98 390.9 805.65 395.01 815.16C399.11 824.66 403.27 840.54 407.37 853.72C411.48 866.9 415.34 877.78 419.64 894.26C423.94 910.74 430.91 942.88 433.16 952.6" fill="none" stroke="#5BB4E5" stroke-width="2.2"/>
<path d="M336.57 804.94C341.02 804.94 344.59 808.07 349.9 810.54C355.22 813.01 361.93 812.08 368.45 819.77C374.97 827.46 382.18 842.95 389.02 856.69C395.86 870.42 402.14 886.19 409.5 902.17C416.85 918.16 429.22 944.2 433.16 952.6" fill="none" stroke="#5BB4E5" stroke-width="2.2"/>
<path d="M336.57 1109.16C339.79 1109.16 342.13 1107.79 346.23 1105.2C350.34 1102.62 355.88 1101.85 361.2 1093.67C366.53 1085.48 372.54 1067.63 378.2 1056.09C383.87 1044.56 390.66 1033.24 395.2 1024.45C399.74 1015.66 400.9 1012.75 405.44 1003.36C409.98 993.96 417.82 976.55 422.44 968.09C427.06 959.63 431.37 955.18 433.16 952.6" fill="none" stroke="#5BB4E5" stroke-width="2.2"/>
<path d="M433.16 952.6C435.58 956.72 443 969.03 447.65 977.32C452.3 985.61 455.44 991.33 461.07 1002.37C466.71 1013.41 476.13 1033.74 481.45 1043.57C486.78 1053.4 488.94 1054.94 493.04 1061.37C497.15 1067.8 502.06 1080.32 506.08 1082.13C510.11 1083.95 513.25 1077.35 517.19 1072.24C521.14 1067.14 527.66 1054.94 529.75 1051.48" fill="none" stroke="#5BB4E5" stroke-width="2.2"/>
<path d="M433.16 952.6C434.63 945.24 439.5 921.73 441.95 908.43C444.4 895.14 445.86 883.77 447.84 872.84C449.82 861.91 451.85 852.79 453.83 842.84C455.81 832.9 457.73 822.08 459.72 813.18C461.72 804.28 463.81 796.37 465.81 789.45C467.8 782.53 469.72 776.81 471.7 771.65C473.68 766.49 475.9 761.6 477.69 758.47C479.47 755.33 480.94 754.02 482.42 752.86C483.9 751.71 485.12 751.43 486.57 751.54C488.02 751.65 489.63 752.37 491.11 753.52C492.59 754.68 493.75 755.44 495.46 758.47C497.17 761.49 499.37 765.5 501.35 771.65C503.33 777.8 505.36 786.48 507.34 795.38C509.32 804.28 511.25 812.14 513.23 825.04C515.21 837.95 517.63 856.96 519.22 872.84C520.81 888.71 522 907.01 522.79 920.3C523.58 933.59 523.41 937.88 523.95 952.6C524.5 967.32 525.11 992.15 526.08 1008.63C527.04 1025.11 529.14 1044.34 529.75 1051.48" fill="none" stroke="#5BB4E5" stroke-width="2.2"/>
<path d="M529.75 1051.48C530.79 1043.79 533.92 1021.82 536.03 1005.34C538.13 988.86 540.63 968.64 542.4 952.6C544.17 936.56 544.9 923.38 546.65 909.09C548.41 894.81 550.48 880.91 552.93 866.9C555.38 852.9 557.86 839.05 561.33 825.04C564.8 811.04 569.24 793.9 573.74 782.86C578.25 771.82 583.17 765.41 588.38 758.81C593.58 752.21 600.27 746.48 604.99 743.23C609.71 739.98 613.12 740.15 616.68 739.33C620.23 738.52 623.12 738.36 626.34 738.36C629.55 738.36 632.44 738.52 635.99 739.33C639.55 740.15 642.96 739.98 647.68 743.23C652.4 746.48 659.09 752.21 664.29 758.81C669.5 765.41 674.42 771.82 678.93 782.86C683.43 793.9 687.87 811.04 691.34 825.04C694.81 839.05 697.29 852.9 699.74 866.9C702.19 880.91 704.26 894.81 706.02 909.09C707.77 923.38 708.5 936.56 710.27 952.6C712.04 968.64 714.54 988.86 716.64 1005.34C718.75 1021.82 721.88 1043.79 722.92 1051.48" fill="none" stroke="#5BB4E5" stroke-width="2.2"/>
<path d="M529.75 1051.48C531.28 1056.31 536.66 1074.28 538.92 1080.48C541.19 1086.69 541.18 1089.44 543.32 1088.72C545.46 1088.01 549.01 1087.13 551.77 1076.2C554.53 1065.27 557.6 1043.73 559.88 1023.13C562.17 1002.53 564.2 971.61 565.49 952.6C566.77 933.59 566.55 923.38 567.61 909.09C568.67 894.81 570.11 880.91 571.86 866.9C573.61 852.9 575.36 839.05 578.14 825.04C580.91 811.04 584.37 794.19 588.52 782.86C592.67 771.52 598.56 763.43 603.06 757.05C607.56 750.68 611.64 747.06 615.52 744.61C619.4 742.15 622.73 742.32 626.34 742.32C629.94 742.32 633.27 742.15 637.15 744.61C641.03 747.06 645.11 750.68 649.61 757.05C654.11 763.43 660 771.52 664.15 782.86C668.3 794.19 671.76 811.04 674.53 825.04C677.31 839.05 679.06 852.9 680.81 866.9C682.56 880.91 684 894.81 685.06 909.09C686.12 923.38 685.9 933.59 687.18 952.6C688.47 971.61 690.5 1002.53 692.79 1023.13C695.07 1043.73 698.14 1065.27 700.9 1076.2C703.66 1087.13 707.21 1088.01 709.35 1088.72C711.49 1089.44 711.48 1086.69 713.75 1080.48C716.01 1074.28 721.39 1056.31 722.92 1051.48" fill="none" stroke="#5BB4E5" stroke-width="2.2"/>
<path d="M722.92 1051.48C725.06 1044.34 731.58 1025.11 735.77 1008.63C739.95 992.15 745.31 971.39 748.03 952.6C750.76 933.81 750.05 913.54 752.09 895.91C754.14 878.28 756.33 862.51 760.3 846.8C764.27 831.09 770.49 811.2 775.91 801.64C781.33 792.08 785.57 792.19 792.83 789.45C800.1 786.7 810.62 785.16 819.51 785.16" fill="none" stroke="#5BB4E5" stroke-width="2.2"/>
<path d="M722.92 1051.48C725.76 1056.31 734.35 1071.42 739.92 1080.48C745.49 1089.55 750.18 1099.99 756.34 1105.86C762.51 1111.74 769.61 1114.38 776.91 1115.75C784.22 1117.13 793.09 1114.38 800.19 1114.1C807.29 1113.83 813.07 1114.1 819.51 1114.1" fill="none" stroke="#5BB4E5" stroke-width="2.2"/>
<path d="M143.4 952.6C144.9 946.94 149.86 928.92 152.38 918.65C154.91 908.38 156.09 899.7 158.56 890.96C161.04 882.23 164.78 871.19 167.26 866.24C169.74 861.3 170.75 862.12 173.44 861.3C176.13 860.48 180.28 863.17 183.39 861.3C186.49 859.43 189.6 856.08 192.08 850.09C194.56 844.11 195.91 835.21 198.26 825.37C200.61 815.54 203.41 801.2 206.18 791.1C208.95 780.99 211.49 771.87 214.87 764.73C218.25 757.59 223.25 751.46 226.46 748.25C229.68 745.03 231.94 746 234.19 745.45C236.45 744.9 238.06 744.95 239.99 744.95" fill="none" stroke="#3CAA6E" stroke-width="2.2"/>
<path d="M143.4 952.6C145.01 948.1 149.84 934.64 153.06 925.57C156.28 916.51 159.72 906.62 162.72 898.22C165.71 889.81 168.9 883.66 171.02 875.14C173.15 866.63 174.11 854.38 175.47 847.13C176.82 839.88 177.5 837.35 179.14 831.64C180.78 825.92 183.19 819.61 185.32 812.85C187.44 806.09 189.81 797.74 191.89 791.1C193.96 784.45 195.52 778.46 197.78 772.97C200.03 767.47 202.54 762.26 205.41 758.14C208.27 754.02 211.62 750.12 214.97 748.25C218.32 746.38 222.3 747.42 225.5 746.93C228.7 746.44 231.78 745.61 234.19 745.28C236.61 744.95 238.06 744.95 239.99 744.95" fill="none" stroke="#3CAA6E" stroke-width="2.2"/>
<path d="M239.99 744.95C241.92 744.95 243.37 744.84 245.78 745.28C248.2 745.72 250.97 747.09 254.48 747.59C257.98 748.08 263.07 744.57 266.84 748.25C270.61 751.93 273.99 760.06 277.08 769.67C280.17 779.29 282.63 793.02 285.38 805.93C288.14 818.84 291.19 833.12 293.59 847.13C295.99 861.14 298.23 877.89 299.77 889.98C301.32 902.06 301.96 908.1 302.87 919.64C303.77 931.18 304.47 944.36 305.18 959.19C305.89 974.02 306.31 994.07 307.11 1008.63C307.92 1023.19 308.81 1036.65 310.01 1046.54C311.22 1056.42 312.67 1061.37 314.36 1067.96C316.05 1074.55 317.9 1081.42 320.15 1086.09C322.41 1090.76 325.14 1092.95 327.88 1095.98C330.62 1099 333.68 1104.22 336.57 1104.22" fill="none" stroke="#3CAA6E" stroke-width="2.2"/>
<path d="M239.99 744.95C241.92 744.95 243.85 745.06 245.78 745.61C247.71 746.16 248.33 747.81 251.58 748.25C254.83 748.69 259.5 745.06 265.29 748.25C271.09 751.43 279.39 761.32 286.35 767.36C293.3 773.41 300.5 780.6 307.02 784.5C313.54 788.4 320.54 789.39 325.47 790.77C330.39 792.14 332.87 792.74 336.57 792.74" fill="none" stroke="#3CAA6E" stroke-width="2.2"/>
<path d="M239.99 744.95C241.92 744.95 243.85 745.06 245.78 745.61C247.71 746.16 248.33 747.81 251.58 748.25C254.83 748.69 259.5 745.06 265.29 748.25C271.09 751.43 279.39 760.5 286.35 767.36C293.3 774.23 300.5 784.17 307.02 789.45C313.54 794.72 320.54 797.08 325.47 799.01C330.39 800.93 332.87 800.98 336.57 800.98" fill="none" stroke="#3CAA6E" stroke-width="2.2"/>
<path d="M336.57 792.74C341.02 792.74 344.59 792.74 349.9 793.07C355.22 793.4 362.97 793.24 368.45 794.72C373.92 796.2 378.32 797.69 382.74 801.97C387.17 806.26 390.9 811.81 395.01 820.43C399.11 829.05 403.27 841.41 407.37 853.72C411.48 866.03 415.34 877.78 419.64 894.26C423.94 910.74 430.91 942.88 433.16 952.6" fill="none" stroke="#3CAA6E" stroke-width="2.2"/>
<path d="M336.57 800.98C341.02 800.98 344.59 802.08 349.9 804.94C355.22 807.8 361.93 809.77 368.45 818.12C374.97 826.47 382.18 841.17 389.02 855.04C395.86 868.91 402.14 885.09 409.5 901.35C416.85 917.61 429.22 944.06 433.16 952.6" fill="none" stroke="#3CAA6E" stroke-width="2.2"/>
<path d="M336.57 1104.22C339.79 1104.22 342.13 1103.12 346.23 1100.26C350.34 1097.4 355.88 1095.54 361.2 1087.08C366.53 1078.62 372.54 1060.6 378.2 1049.5C383.87 1038.41 390.66 1028.63 395.2 1020.5C399.74 1012.37 400.9 1009.46 405.44 1000.72C409.98 991.99 417.82 976.11 422.44 968.09C427.06 960.07 431.37 955.18 433.16 952.6" fill="none" stroke="#3CAA6E" stroke-width="2.2"/>
<path d="M433.16 952.6C435.58 956.72 443 969.03 447.65 977.32C452.3 985.61 455.44 991.33 461.07 1002.37C466.71 1013.41 476.13 1033.74 481.45 1043.57C486.78 1053.4 488.94 1056.97 493.04 1061.37C497.15 1065.76 502.06 1070.16 506.08 1069.94C510.11 1069.72 513.25 1063.13 517.19 1060.05C521.14 1056.97 527.66 1052.91 529.75 1051.48" fill="none" stroke="#3CAA6E" stroke-width="2.2"/>
<path d="M433.16 952.6C434.63 945.24 439.5 921.73 441.95 908.43C444.4 895.14 445.86 883.77 447.84 872.84C449.82 861.91 451.85 852.79 453.83 842.84C455.81 832.9 457.73 822.08 459.72 813.18C461.72 804.28 463.81 796.37 465.81 789.45C467.8 782.53 469.72 776.81 471.7 771.65C473.68 766.49 475.9 761.6 477.69 758.47C479.47 755.33 480.94 754.02 482.42 752.86C483.9 751.71 485.12 751.43 486.57 751.54C488.02 751.65 489.63 752.37 491.11 753.52C492.59 754.68 493.75 755.44 495.46 758.47C497.17 761.49 499.37 765.5 501.35 771.65C503.33 777.8 505.36 786.48 507.34 795.38C509.32 804.28 511.25 812.14 513.23 825.04C515.21 837.95 517.63 856.96 519.22 872.84C520.81 888.71 522 907.01 522.79 920.3C523.58 933.59 523.41 937.88 523.95 952.6C524.5 967.32 525.11 992.15 526.08 1008.63C527.04 1025.11 529.14 1044.34 529.75 1051.48" fill="none" stroke="#3CAA6E" stroke-width="2.2"/>
<path d="M529.75 1051.48C530.65 1043.79 533.19 1021.82 535.16 1005.34C537.12 988.86 539.76 968.64 541.53 952.6C543.3 936.56 544.03 923.38 545.78 909.09C547.54 894.81 549.61 880.91 552.06 866.9C554.51 852.9 556.95 839.05 560.46 825.04C563.98 811.04 568.54 793.65 573.13 782.86C577.73 772.07 582.72 766.64 588.03 760.3C593.34 753.96 600.21 748.06 604.99 744.84C609.76 741.62 613.12 741.78 616.68 740.97C620.23 740.17 623.12 740.01 626.34 740.01C629.55 740.01 632.44 740.17 635.99 740.97C639.55 741.78 642.91 741.62 647.68 744.84C652.46 748.06 659.33 753.96 664.64 760.3C669.95 766.64 674.94 772.07 679.54 782.86C684.13 793.65 688.69 811.04 692.21 825.04C695.72 839.05 698.16 852.9 700.61 866.9C703.06 880.91 705.13 894.81 706.89 909.09C708.64 923.38 709.37 936.56 711.14 952.6C712.91 968.64 715.55 988.86 717.51 1005.34C719.48 1021.82 722.02 1043.79 722.92 1051.48" fill="none" stroke="#3CAA6E" stroke-width="2.2"/>
<path d="M529.75 1051.48C531.28 1055.05 536.54 1067.96 538.92 1072.9C541.31 1077.85 541.66 1081.86 544.04 1081.14C546.43 1080.43 550.34 1078.29 553.22 1068.62C556.1 1058.95 559.05 1042.47 561.33 1023.13C563.62 1003.8 565.65 971.61 566.93 952.6C568.22 933.59 568 923.38 569.06 909.09C570.12 894.81 571.55 880.91 573.31 866.9C575.06 852.9 576.88 839.05 579.59 825.04C582.29 811.04 585.53 793.73 589.54 782.86C593.54 771.98 599.31 765.7 603.64 759.81C607.97 753.93 611.73 749.96 615.52 747.54C619.3 745.12 622.73 745.28 626.34 745.28C629.94 745.28 633.37 745.12 637.15 747.54C640.94 749.96 644.7 753.93 649.03 759.81C653.36 765.7 659.13 771.98 663.13 782.86C667.14 793.73 670.38 811.04 673.08 825.04C675.79 839.05 677.61 852.9 679.36 866.9C681.12 880.91 682.55 894.81 683.61 909.09C684.67 923.38 684.45 933.59 685.74 952.6C687.02 971.61 689.05 1003.8 691.34 1023.13C693.62 1042.47 696.57 1058.95 699.45 1068.62C702.33 1078.29 706.24 1080.43 708.63 1081.14C711.01 1081.86 711.36 1077.85 713.75 1072.9C716.13 1067.96 721.39 1055.05 722.92 1051.48" fill="none" stroke="#3CAA6E" stroke-width="2.2"/>
<path d="M722.92 1051.48C724.05 1044.34 727.53 1025.11 729.68 1008.63C731.84 992.15 734.16 971.39 735.86 952.6C737.57 933.81 737.88 913.54 739.92 895.91C741.97 878.28 743.35 859.87 748.13 846.8C752.91 833.72 761.77 824.39 768.61 817.46C775.45 810.54 780.7 808.02 789.18 805.27C797.66 802.52 809.4 800.98 819.51 800.98" fill="none" stroke="#3CAA6E" stroke-width="2.2"/>
<path d="M722.92 1051.48C725.76 1056.31 734.35 1073.07 739.92 1080.48C745.49 1087.9 750.18 1091.75 756.34 1095.98C762.51 1100.21 769.61 1104.49 776.91 1105.86C784.22 1107.24 793.09 1104.49 800.19 1104.22C807.29 1103.94 813.07 1104.22 819.51 1104.22" fill="none" stroke="#3CAA6E" stroke-width="2.2"/>
<path d="M143.4 952.6C144.9 945.02 149.86 919.75 152.38 907.12C154.91 894.48 156.49 885.42 158.56 876.79C160.64 868.17 162.77 860.42 164.84 855.37C166.92 850.31 168.96 848.56 171.02 846.47C173.08 844.38 174.53 844.49 177.21 842.84C179.88 841.2 184.37 838.89 187.06 836.58C189.75 834.27 191.26 833.56 193.34 829C195.41 824.44 197.05 817.74 199.52 809.22C201.98 800.71 205.23 786.98 208.11 777.91C210.99 768.85 213.75 760.83 216.81 754.84C219.86 748.85 223.57 744.59 226.46 741.99C229.36 739.38 231.94 739.73 234.19 739.18C236.45 738.63 238.06 738.69 239.99 738.69" fill="none" stroke="#DCA11E" stroke-width="2.2"/>
<path d="M143.4 952.6C145.01 948.1 149.84 934.64 153.06 925.57C156.28 916.51 159.72 906.62 162.72 898.22C165.71 889.81 168.61 883.66 171.02 875.14C173.44 866.63 175.56 854.38 177.21 847.13C178.85 839.88 179.23 837.35 180.88 831.64C182.52 825.92 184.93 819.61 187.06 812.85C189.18 806.09 191.55 797.74 193.63 791.1C195.7 784.45 197.26 778.46 199.52 772.97C201.77 767.47 204.43 762.26 207.15 758.14C209.87 754.02 212.78 751.16 215.84 748.25C218.9 745.34 222.44 742.21 225.5 740.67C228.56 739.13 231.78 739.35 234.19 739.02C236.61 738.69 238.06 738.69 239.99 738.69" fill="none" stroke="#DCA11E" stroke-width="2.2"/>
<path d="M239.99 738.69C241.92 738.69 243.37 738.58 245.78 739.02C248.2 739.46 250.8 739.79 254.48 741.33C258.15 742.86 263.88 743.52 267.8 748.25C271.73 752.97 274.95 760.06 278.04 769.67C281.13 779.29 283.6 793.02 286.35 805.93C289.1 818.84 292.16 833.12 294.56 847.13C296.96 861.14 299.19 877.89 300.74 889.98C302.29 902.06 302.93 908.1 303.83 919.64C304.73 931.18 305.44 944.36 306.15 959.19C306.86 974.02 307.28 994.07 308.08 1008.63C308.89 1023.19 309.77 1036.65 310.98 1046.54C312.19 1056.42 313.63 1061.37 315.32 1067.96C317.02 1074.55 319.03 1080.87 321.12 1086.09C323.21 1091.31 325.31 1095.7 327.88 1099.27C330.46 1102.84 333.68 1107.51 336.57 1107.51" fill="none" stroke="#DCA11E" stroke-width="2.2"/>
<path d="M239.99 738.69C241.92 738.69 243.85 738.8 245.78 739.35C247.71 739.9 248.33 740.5 251.58 741.99C254.83 743.47 259.5 744.02 265.29 748.25C271.09 752.48 279.39 761.16 286.35 767.36C293.3 773.57 300.5 780.77 307.02 785.49C313.54 790.22 320.54 793.68 325.47 795.71C330.39 797.74 332.87 797.69 336.57 797.69" fill="none" stroke="#DCA11E" stroke-width="2.2"/>
<path d="M239.99 738.69C241.92 738.69 243.85 738.8 245.78 739.35C247.71 739.9 248.33 740.5 251.58 741.99C254.83 743.47 259.5 744.02 265.29 748.25C271.09 752.48 279.39 760.5 286.35 767.36C293.3 774.23 300.5 783.9 307.02 789.45C313.54 795 320.54 798.46 325.47 800.65C330.39 802.85 332.87 802.63 336.57 802.63" fill="none" stroke="#DCA11E" stroke-width="2.2"/>
<path d="M336.57 797.69C341.02 797.69 344.59 793.73 349.9 792.08C355.22 790.44 362.97 787.31 368.45 787.8C373.92 788.29 378.32 790.77 382.74 795.05C387.17 799.34 390.9 803.73 395.01 813.51C399.11 823.29 403.27 840.26 407.37 853.72C411.48 867.18 415.34 877.78 419.64 894.26C423.94 910.74 430.91 942.88 433.16 952.6" fill="none" stroke="#DCA11E" stroke-width="2.2"/>
<path d="M336.57 802.63C341.02 802.63 344.59 802.63 349.9 804.94C355.22 807.25 361.93 808.4 368.45 816.48C374.97 824.55 382.18 839.38 389.02 853.39C395.86 867.4 402.14 883.99 409.5 900.52C416.85 917.06 429.22 943.92 433.16 952.6" fill="none" stroke="#DCA11E" stroke-width="2.2"/>
<path d="M336.57 1107.51C339.79 1107.51 342.13 1106.14 346.23 1103.56C350.34 1100.97 355.88 1100.21 361.2 1092.02C366.53 1083.84 372.54 1065.87 378.2 1054.45C383.87 1043.02 390.66 1032.09 395.2 1023.46C399.74 1014.84 400.9 1011.93 405.44 1002.7C409.98 993.47 417.82 976.44 422.44 968.09C427.06 959.74 431.37 955.18 433.16 952.6" fill="none" stroke="#DCA11E" stroke-width="2.2"/>
<path d="M433.16 952.6C435.58 956.72 443 969.03 447.65 977.32C452.3 985.61 455.44 991.33 461.07 1002.37C466.71 1013.41 476.13 1033.74 481.45 1043.57C486.78 1053.4 488.94 1056.2 493.04 1061.37C497.15 1066.53 502.06 1074 506.08 1074.55C510.11 1075.1 513.25 1068.51 517.19 1064.66C521.14 1060.82 527.66 1053.68 529.75 1051.48" fill="none" stroke="#DCA11E" stroke-width="2.2"/>
<path d="M433.16 952.6C434.63 945.24 439.5 921.73 441.95 908.43C444.4 895.14 445.86 883.77 447.84 872.84C449.82 861.91 451.85 852.79 453.83 842.84C455.81 832.9 457.73 822.08 459.72 813.18C461.72 804.28 463.81 796.37 465.81 789.45C467.8 782.53 469.72 776.81 471.7 771.65C473.68 766.49 475.9 761.6 477.69 758.47C479.47 755.33 480.94 754.02 482.42 752.86C483.9 751.71 485.12 751.43 486.57 751.54C488.02 751.65 489.63 752.37 491.11 753.52C492.59 754.68 493.75 755.44 495.46 758.47C497.17 761.49 499.37 765.5 501.35 771.65C503.33 777.8 505.36 786.48 507.34 795.38C509.32 804.28 511.25 812.14 513.23 825.04C515.21 837.95 517.63 856.96 519.22 872.84C520.81 888.71 522 907.01 522.79 920.3C523.58 933.59 523.41 937.88 523.95 952.6C524.5 967.32 525.11 992.15 526.08 1008.63C527.04 1025.11 529.14 1044.34 529.75 1051.48" fill="none" stroke="#DCA11E" stroke-width="2.2"/>
<path d="M529.75 1051.48C530.75 1043.79 533.68 1021.82 535.74 1005.34C537.8 988.86 540.34 968.64 542.11 952.6C543.88 936.56 544.61 923.38 546.36 909.09C548.12 894.81 550.19 880.91 552.64 866.9C555.09 852.9 557.56 839.05 561.04 825.04C564.53 811.04 569 794.14 573.54 782.86C578.08 771.57 583.02 764.19 588.26 757.32C593.5 750.45 600.25 744.89 604.99 741.62C609.73 738.35 613.12 738.51 616.68 737.69C620.23 736.88 623.12 736.71 626.34 736.71C629.55 736.71 632.44 736.88 635.99 737.69C639.55 738.51 642.94 738.35 647.68 741.62C652.42 744.89 659.17 750.45 664.41 757.32C669.65 764.19 674.59 771.57 679.13 782.86C683.67 794.14 688.14 811.04 691.63 825.04C695.11 839.05 697.58 852.9 700.03 866.9C702.48 880.91 704.55 894.81 706.31 909.09C708.06 923.38 708.79 936.56 710.56 952.6C712.33 968.64 714.87 988.86 716.93 1005.34C718.99 1021.82 721.92 1043.79 722.92 1051.48" fill="none" stroke="#DCA11E" stroke-width="2.2"/>
<path d="M529.75 1051.48C531.28 1056.15 536.62 1073.45 538.92 1079.5C541.23 1085.54 541.34 1088.45 543.56 1087.74C545.78 1087.02 549.45 1085.98 552.25 1075.21C555.05 1064.44 558.08 1043.57 560.37 1023.13C562.65 1002.7 564.68 971.61 565.97 952.6C567.26 933.59 567.03 923.38 568.09 909.09C569.16 894.81 570.59 880.91 572.34 866.9C574.1 852.9 575.87 839.05 578.62 825.04C581.37 811.04 584.75 794.39 588.86 782.86C592.96 771.32 598.81 762.42 603.25 755.83C607.69 749.24 611.67 745.78 615.52 743.3C619.36 740.83 622.73 741 626.34 741C629.94 741 633.31 740.83 637.15 743.3C641 745.78 644.98 749.24 649.42 755.83C653.86 762.42 659.71 771.32 663.81 782.86C667.92 794.39 671.3 811.04 674.05 825.04C676.8 839.05 678.57 852.9 680.33 866.9C682.08 880.91 683.51 894.81 684.58 909.09C685.64 923.38 685.41 933.59 686.7 952.6C687.99 971.61 690.02 1002.7 692.3 1023.13C694.59 1043.57 697.62 1064.44 700.42 1075.21C703.22 1085.98 706.89 1087.02 709.11 1087.74C711.33 1088.45 711.44 1085.54 713.75 1079.5C716.05 1073.45 721.39 1056.15 722.92 1051.48" fill="none" stroke="#DCA11E" stroke-width="2.2"/>
<path d="M722.92 1051.48C724.58 1044.34 729.65 1025.11 732.87 1008.63C736.09 992.15 740 971.39 742.24 952.6C744.48 933.81 744.25 913.54 746.3 895.91C748.34 878.28 750.15 860.42 754.51 846.8C758.86 833.17 766.33 821.64 772.43 814.17C778.53 806.7 783.25 804.72 791.09 801.97C798.94 799.23 810.04 797.69 819.51 797.69" fill="none" stroke="#DCA11E" stroke-width="2.2"/>
<path d="M722.92 1051.48C725.76 1056.31 734.35 1072.24 739.92 1080.48C745.49 1088.72 750.18 1095.87 756.34 1100.92C762.51 1105.97 769.61 1109.43 776.91 1110.81C784.22 1112.18 793.09 1109.43 800.19 1109.16C807.29 1108.89 813.07 1109.16 819.51 1109.16" fill="none" stroke="#DCA11E" stroke-width="2.2"/>
<path d="M143.4 952.6C144.9 944.85 149.86 919.04 152.38 906.13C154.91 893.22 156.49 883.88 158.56 875.14C160.64 866.41 162.77 858.94 164.84 853.72C166.92 848.5 168.96 845.97 171.02 843.83C173.08 841.69 174.53 842.51 177.21 840.87C179.88 839.22 184.37 836.31 187.06 833.94C189.75 831.58 191.26 831.2 193.34 826.69C195.41 822.19 197.05 815.32 199.52 806.92C201.98 798.51 205.23 785.22 208.11 776.26C210.99 767.31 213.75 759.45 216.81 753.19C219.86 746.93 223.57 741.57 226.46 738.69C229.36 735.81 231.94 736.44 234.19 735.89C236.45 735.34 238.06 735.39 239.99 735.39" fill="none" stroke="#8E44AD" stroke-width="2.2"/>
<path d="M143.4 952.6C145.01 948.1 149.84 934.64 153.06 925.57C156.28 916.51 159.72 906.62 162.72 898.22C165.71 889.81 168.61 883.66 171.02 875.14C173.44 866.63 175.56 854.38 177.21 847.13C178.85 839.88 179.23 837.35 180.88 831.64C182.52 825.92 184.93 819.61 187.06 812.85C189.18 806.09 191.55 797.74 193.63 791.1C195.7 784.45 197.26 778.46 199.52 772.97C201.77 767.47 204.43 762.26 207.15 758.14C209.87 754.02 212.78 751.71 215.84 748.25C218.9 744.79 222.44 739.46 225.5 737.37C228.56 735.28 231.78 736.05 234.19 735.72C236.61 735.39 238.06 735.39 239.99 735.39" fill="none" stroke="#8E44AD" stroke-width="2.2"/>
<path d="M239.99 736.38C241.92 736.38 243.37 736.27 245.78 736.71C248.2 737.15 250.8 737.1 254.48 739.02C258.15 740.94 263.88 743.14 267.8 748.25C271.73 753.36 274.95 760.06 278.04 769.67C281.13 779.29 283.6 793.02 286.35 805.93C289.1 818.84 292.16 833.12 294.56 847.13C296.96 861.14 299.19 877.89 300.74 889.98C302.29 902.06 302.93 908.1 303.83 919.64C304.73 931.18 305.44 944.36 306.15 959.19C306.86 974.02 307.28 994.07 308.08 1008.63C308.89 1023.19 309.77 1036.65 310.98 1046.54C312.19 1056.42 313.63 1061.37 315.32 1067.96C317.02 1074.55 319.03 1080.65 321.12 1086.09C323.21 1091.53 325.31 1096.8 327.88 1100.59C330.46 1104.38 333.68 1108.83 336.57 1108.83" fill="none" stroke="#8E44AD" stroke-width="2.2"/>
<path d="M239.99 736.38C241.92 736.38 243.85 736.49 245.78 737.04C247.71 737.59 248.33 737.81 251.58 739.68C254.83 741.55 259.5 743.63 265.29 748.25C271.09 752.86 279.39 761.16 286.35 767.36C293.3 773.57 300.5 781.1 307.02 785.49C313.54 789.89 320.54 792.03 325.47 793.73C330.39 795.44 332.87 795.71 336.57 795.71" fill="none" stroke="#8E44AD" stroke-width="2.2"/>
<path d="M336.57 795.71C341.02 795.71 344.59 791.97 349.9 790.44C355.22 788.9 362.97 785.93 368.45 786.48C373.92 787.03 378.32 789.45 382.74 793.73C387.17 798.02 390.9 802.19 395.01 812.19C399.11 822.19 403.27 840.04 407.37 853.72C411.48 867.4 415.34 877.78 419.64 894.26C423.94 910.74 430.91 942.88 433.16 952.6" fill="none" stroke="#8E44AD" stroke-width="2.2"/>
<path d="M336.57 795.71C341.02 795.71 344.59 794.56 349.9 798.02C355.22 801.48 361.93 807.25 368.45 816.48C374.97 825.7 382.18 839.38 389.02 853.39C395.86 867.4 402.14 883.99 409.5 900.52C416.85 917.06 429.22 943.92 433.16 952.6" fill="none" stroke="#8E44AD" stroke-width="2.2"/>
<path d="M336.57 1108.83C339.79 1108.83 342.13 1107.95 346.23 1104.88C350.34 1101.8 355.88 1099.05 361.2 1090.37C366.53 1081.69 372.54 1064.11 378.2 1052.8C383.87 1041.48 390.66 1030.93 395.2 1022.48C399.74 1014.02 400.9 1011.1 405.44 1002.04C409.98 992.98 417.82 976.33 422.44 968.09C427.06 959.85 431.37 955.18 433.16 952.6" fill="none" stroke="#8E44AD" stroke-width="2.2"/>
<path d="M433.16 952.6C435.58 956.72 443 969.03 447.65 977.32C452.3 985.61 455.44 991.33 461.07 1002.37C466.71 1013.41 476.13 1033.74 481.45 1043.57C486.78 1053.4 488.94 1056.2 493.04 1061.37C497.15 1066.53 502.06 1074 506.08 1074.55C510.11 1075.1 513.25 1068.51 517.19 1064.66C521.14 1060.82 527.66 1053.68 529.75 1051.48" fill="none" stroke="#8E44AD" stroke-width="2.2"/>
<path d="M433.16 952.6C434.63 945.24 439.5 921.73 441.95 908.43C444.4 895.14 445.86 883.77 447.84 872.84C449.82 861.91 451.85 852.79 453.83 842.84C455.81 832.9 457.73 822.08 459.72 813.18C461.72 804.28 463.81 796.37 465.81 789.45C467.8 782.53 469.72 776.81 471.7 771.65C473.68 766.49 475.9 761.6 477.69 758.47C479.47 755.33 480.94 754.02 482.42 752.86C483.9 751.71 485.12 751.43 486.57 751.54C488.02 751.65 489.63 752.37 491.11 753.52C492.59 754.68 493.75 755.44 495.46 758.47C497.17 761.49 499.37 765.5 501.35 771.65C503.33 777.8 505.36 786.48 507.34 795.38C509.32 804.28 511.25 812.14 513.23 825.04C515.21 837.95 517.63 856.96 519.22 872.84C520.81 888.71 522 907.01 522.79 920.3C523.58 933.59 523.41 937.88 523.95 952.6C524.5 967.32 525.11 992.15 526.08 1008.63C527.04 1025.11 529.14 1044.34 529.75 1051.48" fill="none" stroke="#8E44AD" stroke-width="2.2"/>
<path d="M529.75 1051.48C530.71 1043.79 533.51 1021.82 535.54 1005.34C537.57 988.86 540.15 968.64 541.92 952.6C543.69 936.56 544.41 923.38 546.17 909.09C547.92 894.81 550 880.91 552.45 866.9C554.89 852.9 557.36 839.05 560.85 825.04C564.34 811.04 568.85 794.39 573.41 782.86C577.96 771.32 582.92 762.97 588.18 755.83C593.45 748.69 600.24 743.3 604.99 740.01C609.74 736.71 613.12 736.88 616.68 736.05C620.23 735.23 623.12 735.06 626.34 735.06C629.55 735.06 632.44 735.23 635.99 736.05C639.55 736.88 642.93 736.71 647.68 740.01C652.43 743.3 659.22 748.69 664.49 755.83C669.75 762.97 674.71 771.32 679.26 782.86C683.82 794.39 688.33 811.04 691.82 825.04C695.31 839.05 697.78 852.9 700.22 866.9C702.67 880.91 704.75 894.81 706.5 909.09C708.26 923.38 708.98 936.56 710.75 952.6C712.52 968.64 715.1 988.86 717.13 1005.34C719.16 1021.82 721.96 1043.79 722.92 1051.48" fill="none" stroke="#8E44AD" stroke-width="2.2"/>
<path d="M529.75 1051.48C531.28 1056.31 536.7 1074.28 538.92 1080.48C541.15 1086.69 541.02 1089.44 543.08 1088.72C545.14 1088.01 548.57 1087.13 551.29 1076.2C554.01 1065.27 557.11 1043.73 559.4 1023.13C561.69 1002.53 563.71 971.61 565 952.6C566.29 933.59 566.06 923.38 567.13 909.09C568.19 894.81 569.62 880.91 571.38 866.9C573.13 852.9 574.85 839.05 577.66 825.04C580.46 811.04 583.98 794.39 588.18 782.86C592.38 771.32 598.31 762.42 602.86 755.83C607.42 749.24 611.61 745.78 615.52 743.3C619.43 740.83 622.73 741 626.34 741C629.94 741 633.24 740.83 637.15 743.3C641.06 745.78 645.25 749.24 649.81 755.83C654.36 762.42 660.29 771.32 664.49 782.86C668.69 794.39 672.21 811.04 675.01 825.04C677.82 839.05 679.54 852.9 681.29 866.9C683.05 880.91 684.48 894.81 685.54 909.09C686.61 923.38 686.38 933.59 687.67 952.6C688.96 971.61 690.98 1002.53 693.27 1023.13C695.56 1043.73 698.66 1065.27 701.38 1076.2C704.1 1087.13 707.53 1088.01 709.59 1088.72C711.65 1089.44 711.52 1086.69 713.75 1080.48C715.97 1074.28 721.39 1056.31 722.92 1051.48" fill="none" stroke="#8E44AD" stroke-width="2.2"/>
<path d="M722.92 1051.48C724.42 1044.34 729.01 1025.11 731.9 1008.63C734.8 992.15 738.23 971.39 740.31 952.6C742.38 933.81 742.32 913.54 744.36 895.91C746.41 878.28 748.09 861.14 752.57 846.8C757.06 832.46 764.95 818.07 771.27 809.88C777.6 801.7 782.47 800.43 790.51 797.69C798.55 794.94 809.84 793.4 819.51 793.4" fill="none" stroke="#8E44AD" stroke-width="2.2"/>
<path d="M722.92 1051.48C725.76 1056.31 734.35 1071.97 739.92 1080.48C745.49 1089 750.18 1097.24 756.34 1102.57C762.51 1107.9 769.61 1111.08 776.91 1112.46C784.22 1113.83 793.09 1111.08 800.19 1110.81C807.29 1110.53 813.07 1110.81 819.51 1110.81" fill="none" stroke="#8E44AD" stroke-width="2.2"/>
<line x1="143.4" y1="952.6" x2="819.5" y2="952.6" stroke="#000" stroke-width="1.6"/>
<path d="M820.7 722.6C821.25 724.07 817.95 728.1 824 731.4C830.05 734.7 846 738.92 857 742.4C868 745.88 879 749.37 890 752.3C901 755.23 912.73 757.62 923 760C933.27 762.38 945 764.4 951.6 766.6C958.2 768.8 961.13 771 962.6 773.2C964.07 775.4 963.33 777.6 960.4 779.8C957.47 782 953.07 783.1 945 786.4C936.93 789.7 921.9 794.47 912 799.6C902.1 804.73 892.93 810.23 885.6 817.2C878.27 824.17 872.03 834.43 868 841.4C863.97 848.37 863.6 853.13 861.4 859C859.2 864.87 857 871.1 854.8 876.6C852.6 882.1 849.67 887.23 848.2 892C846.73 896.77 848.57 899.7 846 905.2C843.43 910.7 836.47 918.77 832.8 925C829.13 931.23 825.83 937.9 824 942.6C822.17 947.3 821.8 949.97 821.8 953.2C821.8 956.43 822.17 957.97 824 962C825.83 966.03 830.42 972.63 832.8 977.4C835.18 982.17 837.2 986.57 838.3 990.6C839.4 994.63 838.28 996.83 839.4 1001.6C840.52 1006.37 843.9 1014.07 845 1019.2C846.1 1024.33 845.65 1027.27 846 1032.4C846.35 1037.53 846.37 1043.4 847.1 1050C847.83 1056.6 848.75 1065.77 850.4 1072C852.05 1078.23 855.72 1083.73 857 1087.4C858.28 1091.07 859.2 1091.43 858.1 1094C857 1096.57 854.25 1099.5 850.4 1102.8C846.55 1106.1 839.4 1110.5 835 1113.8C830.6 1117.1 826.38 1119.67 824 1122.6C821.62 1125.53 821.33 1126.83 820.7 1131.4C820.07 1135.97 820.28 1146.9 820.2 1150L820 1150L820 722.6Z" fill="#bfbfbf" stroke="none"/>
<path d="M820.7 722.6C821.25 724.07 817.95 728.1 824 731.4C830.05 734.7 846 738.92 857 742.4C868 745.88 879 749.37 890 752.3C901 755.23 912.73 757.62 923 760C933.27 762.38 945 764.4 951.6 766.6C958.2 768.8 961.13 771 962.6 773.2C964.07 775.4 963.33 777.6 960.4 779.8C957.47 782 953.07 783.1 945 786.4C936.93 789.7 921.9 794.47 912 799.6C902.1 804.73 892.93 810.23 885.6 817.2C878.27 824.17 872.03 834.43 868 841.4C863.97 848.37 863.6 853.13 861.4 859C859.2 864.87 857 871.1 854.8 876.6C852.6 882.1 849.67 887.23 848.2 892C846.73 896.77 848.57 899.7 846 905.2C843.43 910.7 836.47 918.77 832.8 925C829.13 931.23 825.83 937.9 824 942.6C822.17 947.3 821.8 949.97 821.8 953.2C821.8 956.43 822.17 957.97 824 962C825.83 966.03 830.42 972.63 832.8 977.4C835.18 982.17 837.2 986.57 838.3 990.6C839.4 994.63 838.28 996.83 839.4 1001.6C840.52 1006.37 843.9 1014.07 845 1019.2C846.1 1024.33 845.65 1027.27 846 1032.4C846.35 1037.53 846.37 1043.4 847.1 1050C847.83 1056.6 848.75 1065.77 850.4 1072C852.05 1078.23 855.72 1083.73 857 1087.4C858.28 1091.07 859.2 1091.43 858.1 1094C857 1096.57 854.25 1099.5 850.4 1102.8C846.55 1106.1 839.4 1110.5 835 1113.8C830.6 1117.1 826.38 1119.67 824 1122.6C821.62 1125.53 821.33 1126.83 820.7 1131.4C820.07 1135.97 820.28 1146.9 820.2 1150" fill="none" stroke="#000" stroke-width="2.3"/>
<path d="M820.5 727C820.83 728 815.92 730.25 822.5 733C829.08 735.75 842.08 738.75 860 743.5C877.92 748.25 912.33 756.92 930 761.5C947.67 766.08 959.33 768.58 966 771C972.67 773.42 970 774.33 970 776C970 777.67 970.17 778.75 966 781C961.83 783.25 954 786 945 789.5C936 793 921.83 797.25 912 802C902.17 806.75 893.17 811.67 886 818C878.83 824.33 874.57 831 869 840C863.43 849 857.53 861.5 852.6 872C847.67 882.5 843.07 892.33 839.4 903C835.73 913.67 832.25 926.83 830.6 936C828.95 945.17 829.27 949.83 829.5 958C829.73 966.17 830.58 976.33 832 985C833.42 993.67 835.83 1000.83 838 1010C840.17 1019.17 842.67 1030.33 845 1040C847.33 1049.67 849.17 1060.5 852 1068C854.83 1075.5 858.97 1080.67 862 1085C865.03 1089.33 870.2 1091.17 870.2 1094C870.2 1096.83 867.03 1099.33 862 1102C856.97 1104.67 846 1107.67 840 1110C834 1112.33 829.22 1113.67 826 1116C822.78 1118.33 821.67 1119.17 820.7 1124C819.73 1128.83 820.28 1141.5 820.2 1145" fill="none" stroke="#5BB4E5" stroke-width="2.2"/>
<path d="M820.5 729C820.92 730 815.08 732.03 823 735C830.92 737.97 849.5 741.9 868 746.8C886.5 751.7 916.4 760 934 764.4C951.6 768.8 965.9 771 973.6 773.2C981.3 775.4 980.2 775.77 980.2 777.6C980.2 779.43 979.47 781.63 973.6 784.2C967.73 786.77 955.27 789.7 945 793C934.73 796.3 921.17 799.6 912 804C902.83 808.4 896.6 813.53 890 819.4C883.4 825.27 878.63 830.03 872.4 839.2C866.17 848.37 858.1 863.77 852.6 874.4C847.1 885.03 843.07 892.73 839.4 903C835.73 913.27 832.25 926.83 830.6 936C828.95 945.17 829.1 949.83 829.5 958C829.9 966.17 831.42 976.33 833 985C834.58 993.67 836.83 1001.67 839 1010C841.17 1018.33 843.73 1028.33 846 1035C848.27 1041.67 849.67 1044.2 852.6 1050C855.53 1055.8 860.12 1063.93 863.6 1069.8C867.08 1075.67 872.77 1081.17 873.5 1085.2C874.23 1089.23 872.58 1091.07 868 1094C863.42 1096.93 852.6 1100.23 846 1102.8C839.4 1105.37 832.48 1107.37 828.4 1109.4C824.32 1111.43 822.87 1109.9 821.5 1115C820.13 1120.1 820.42 1135.83 820.2 1140" fill="none" stroke="#3CAA6E" stroke-width="2.2"/>
<path d="M820.5 726C820.83 727 815.92 729.33 822.5 732C829.08 734.67 842.08 737.33 860 742C877.92 746.67 911.67 755.17 930 760C948.33 764.83 962.33 768.33 970 771C977.67 773.67 975.83 774.25 976 776C976.17 777.75 976.17 779.33 971 781.5C965.83 783.67 954.83 785.75 945 789C935.17 792.25 921.67 796.33 912 801C902.33 805.67 894 810.67 887 817C880 823.33 875.73 829.83 870 839C864.27 848.17 857.7 861.33 852.6 872C847.5 882.67 843.07 892.33 839.4 903C835.73 913.67 832.25 926.83 830.6 936C828.95 945.17 829.27 949.83 829.5 958C829.73 966.17 830.58 976.33 832 985C833.42 993.67 835.83 1000.83 838 1010C840.17 1019.17 842.5 1030.33 845 1040C847.5 1049.67 849.75 1060.5 853 1068C856.25 1075.5 862.33 1081 864.5 1085C866.67 1089 868.08 1089.17 866 1092C863.92 1094.83 857.67 1099.17 852 1102C846.33 1104.83 837 1106.67 832 1109C827 1111.33 823.97 1110.83 822 1116C820.03 1121.17 820.5 1136 820.2 1140" fill="none" stroke="#DCA11E" stroke-width="2.2"/>
<path d="M820.5 724C820.75 724.83 817.75 727.03 822 729C826.25 730.97 834.67 732.47 846 735.8C857.33 739.13 875.33 744.97 890 749C904.67 753.03 921.17 756.7 934 760C946.83 763.3 960.4 766.42 967 768.8C973.6 771.18 973.23 772.47 973.6 774.3C973.97 776.13 973.97 777.6 969.2 779.8C964.43 782 954.53 784.2 945 787.5C935.47 790.8 921.9 795.02 912 799.6C902.1 804.18 892.93 808.4 885.6 815C878.27 821.6 873.5 830.03 868 839.2C862.5 848.37 857.37 859.37 852.6 870C847.83 880.63 843.07 892 839.4 903C835.73 914 832.25 926.83 830.6 936C828.95 945.17 829.27 949.83 829.5 958C829.73 966.17 830.58 976.33 832 985C833.42 993.67 835.83 1000.83 838 1010C840.17 1019.17 842.67 1030 845 1040C847.33 1050 849.17 1062 852 1070C854.83 1078 860 1083.83 862 1088C864 1092.17 865.67 1092.33 864 1095C862.33 1097.67 856.83 1101.17 852 1104C847.17 1106.83 839.67 1109.33 835 1112C830.33 1114.67 826.38 1117.33 824 1120C821.62 1122.67 821.33 1123 820.7 1128C820.07 1133 820.28 1146.33 820.2 1150" fill="none" stroke="#8E44AD" stroke-width="2.2"/>
<rect x="143.4" y="653.4" width="676.1" height="546.8" fill="none" stroke="#000" stroke-width="2"/>
<rect x="819.5" y="653.4" width="168.5" height="546.8" fill="none" stroke="#000" stroke-width="2"/>
<line x1="135.6" y1="705.4" x2="143.4" y2="705.4" stroke="#000" stroke-width="3.8"/>
<line x1="811.5" y1="705.4" x2="819.5" y2="705.4" stroke="#000" stroke-width="4"/>
<text x="129.9" y="719.8" font-size="39" text-anchor="end" textLength="56.12" lengthAdjust="spacingAndGlyphs">7.5</text>
<line x1="135.6" y1="787.8" x2="143.4" y2="787.8" stroke="#000" stroke-width="3.8"/>
<line x1="811.5" y1="787.8" x2="819.5" y2="787.8" stroke="#000" stroke-width="4"/>
<text x="129.9" y="802.2" font-size="39" text-anchor="end" textLength="56.12" lengthAdjust="spacingAndGlyphs">5.0</text>
<line x1="135.6" y1="870.2" x2="143.4" y2="870.2" stroke="#000" stroke-width="3.8"/>
<line x1="811.5" y1="870.2" x2="819.5" y2="870.2" stroke="#000" stroke-width="4"/>
<text x="129.9" y="884.6" font-size="39" text-anchor="end" textLength="56.12" lengthAdjust="spacingAndGlyphs">2.5</text>
<line x1="135.6" y1="952.6" x2="143.4" y2="952.6" stroke="#000" stroke-width="3.8"/>
<line x1="811.5" y1="952.6" x2="819.5" y2="952.6" stroke="#000" stroke-width="4"/>
<text x="129.9" y="967" font-size="39" text-anchor="end" textLength="56.12" lengthAdjust="spacingAndGlyphs">0.0</text>
<line x1="135.6" y1="1035" x2="143.4" y2="1035" stroke="#000" stroke-width="3.8"/>
<line x1="811.5" y1="1035" x2="819.5" y2="1035" stroke="#000" stroke-width="4"/>
<text x="129.9" y="1049.4" font-size="39" text-anchor="end" textLength="85.7" lengthAdjust="spacingAndGlyphs">−2.5</text>
<line x1="135.6" y1="1117.4" x2="143.4" y2="1117.4" stroke="#000" stroke-width="3.8"/>
<line x1="811.5" y1="1117.4" x2="819.5" y2="1117.4" stroke="#000" stroke-width="4"/>
<text x="129.9" y="1131.8" font-size="39" text-anchor="end" textLength="85.7" lengthAdjust="spacingAndGlyphs">−5.0</text>
<line x1="143.4" y1="1200.2" x2="143.4" y2="1208" stroke="#000" stroke-width="3.8"/>
<text x="143.4" y="1240" font-size="37" text-anchor="middle" textLength="20.61" lengthAdjust="spacingAndGlyphs">Γ</text>
<line x1="239.99" y1="1200.2" x2="239.99" y2="1208" stroke="#000" stroke-width="3.8"/>
<text x="239.99" y="1240" font-size="37" text-anchor="middle" textLength="27.82" lengthAdjust="spacingAndGlyphs">H</text>
<line x1="336.57" y1="1200.2" x2="336.57" y2="1208" stroke="#000" stroke-width="3.8"/>
<text x="336.57" y="1240" font-size="37" text-anchor="middle" textLength="27.68" lengthAdjust="spacingAndGlyphs">N</text>
<line x1="433.16" y1="1200.2" x2="433.16" y2="1208" stroke="#000" stroke-width="3.8"/>
<text x="433.16" y="1240" font-size="37" text-anchor="middle" textLength="20.61" lengthAdjust="spacingAndGlyphs">Γ</text>
<line x1="529.75" y1="1200.2" x2="529.75" y2="1208" stroke="#000" stroke-width="3.8"/>
<text x="529.75" y="1240" font-size="37" text-anchor="middle" textLength="22.31" lengthAdjust="spacingAndGlyphs">P</text>
<line x1="626.34" y1="1200.2" x2="626.34" y2="1208" stroke="#000" stroke-width="3.8"/>
<text x="626.34" y="1240" font-size="37" text-anchor="middle" textLength="27.82" lengthAdjust="spacingAndGlyphs">H</text>
<line x1="722.92" y1="1200.2" x2="722.92" y2="1208" stroke="#000" stroke-width="3.8"/>
<text x="722.92" y="1240" font-size="37" text-anchor="middle" textLength="22.31" lengthAdjust="spacingAndGlyphs">P</text>
<line x1="819.51" y1="1200.2" x2="819.51" y2="1208" stroke="#000" stroke-width="3.8"/>
<text x="819.51" y="1240" font-size="37" text-anchor="middle" textLength="27.68" lengthAdjust="spacingAndGlyphs">N</text>
<line x1="869.8" y1="1200.2" x2="869.8" y2="1208" stroke="#000" stroke-width="3.8"/>
<text x="869.8" y="1240.2" font-size="37" text-anchor="middle" textLength="58.83" lengthAdjust="spacingAndGlyphs">0.1</text>
<line x1="970.3" y1="1200.2" x2="970.3" y2="1208" stroke="#000" stroke-width="3.8"/>
<text x="970.3" y="1240.2" font-size="37" text-anchor="middle" textLength="58.83" lengthAdjust="spacingAndGlyphs">0.3</text>
<text x="903.75" y="1280.2" font-size="36" text-anchor="middle" textLength="78.95" lengthAdjust="spacingAndGlyphs">DOS</text>
<text x="30" y="1075.6" font-size="37" text-anchor="start" textLength="298" lengthAdjust="spacingAndGlyphs" transform="rotate(-90 30 1075.6)">Frequency (THz)</text>
<text x="157.5" y="692.5" font-size="37" text-anchor="start" font-weight="bold" textLength="25.17" lengthAdjust="spacingAndGlyphs">b</text>
<rect x="150" y="1044" width="156" height="155" fill="#fff"/>
<line x1="227.45" y1="1051.66" x2="275.91" y2="1074.95" stroke="#000" stroke-width="1.5"/>
<line x1="227.45" y1="1051.66" x2="178.15" y2="1099.26" stroke="#000" stroke-width="1.5"/>
<line x1="227.45" y1="1051.66" x2="250.41" y2="1113.54" stroke="#000" stroke-width="1.5"/>
<line x1="275.91" y1="1074.95" x2="252.96" y2="1083.96" stroke="#000" stroke-width="1.5"/>
<line x1="275.91" y1="1074.95" x2="298.86" y2="1137.01" stroke="#000" stroke-width="1.5"/>
<line x1="252.96" y1="1083.96" x2="276.76" y2="1145.51" stroke="#000" stroke-width="1.5"/>
<line x1="178.15" y1="1099.26" x2="201.1" y2="1161.15" stroke="#000" stroke-width="1.5"/>
<line x1="201.1" y1="1161.15" x2="178.15" y2="1170.16" stroke="#000" stroke-width="1.5"/>
<line x1="178.15" y1="1170.16" x2="227.45" y2="1193.11" stroke="#000" stroke-width="1.5"/>
<line x1="201.1" y1="1161.15" x2="250.41" y2="1184.61" stroke="#000" stroke-width="1.5"/>
<line x1="227.45" y1="1193.11" x2="276.76" y2="1145.51" stroke="#000" stroke-width="1.5"/>
<line x1="250.41" y1="1184.61" x2="298.86" y2="1137.01" stroke="#000" stroke-width="1.5"/>
<line x1="227.45" y1="1193.11" x2="250.41" y2="1184.61" stroke="#000" stroke-width="1.5"/>
<line x1="276.76" y1="1145.51" x2="298.86" y2="1137.01" stroke="#000" stroke-width="1.5"/>
<line x1="201.1" y1="1161.15" x2="253.81" y2="1112.35" stroke="#000" stroke-width="1.5"/>
<line x1="204.5" y1="1131.91" x2="252.96" y2="1083.96" stroke="#000" stroke-width="0.9"/>
<line x1="178.15" y1="1099.26" x2="155.2" y2="1108.95" stroke="#000" stroke-width="1.2" stroke-dasharray="1.3 1.3"/>
<line x1="204.5" y1="1060.5" x2="155.2" y2="1108.95" stroke="#000" stroke-width="1.2" stroke-dasharray="1.3 1.3"/>
<line x1="204.5" y1="1060.5" x2="227.45" y2="1051.66" stroke="#000" stroke-width="1.2" stroke-dasharray="1.3 1.3"/>
<line x1="204.5" y1="1060.5" x2="252.96" y2="1083.96" stroke="#000" stroke-width="1.2" stroke-dasharray="1.3 1.3"/>
<line x1="155.2" y1="1108.95" x2="204.5" y2="1131.91" stroke="#000" stroke-width="1.2" stroke-dasharray="1.3 1.3"/>
<line x1="155.2" y1="1108.95" x2="178.15" y2="1170.16" stroke="#000" stroke-width="1.2" stroke-dasharray="1.3 1.3"/>
<line x1="204.5" y1="1131.91" x2="227.45" y2="1193.11" stroke="#000" stroke-width="1.2" stroke-dasharray="1.3 1.3"/>
<line x1="227.45" y1="1122.9" x2="250.41" y2="1113.54" stroke="#ff1a1a" stroke-width="1.7"/>
<line x1="227.45" y1="1122.9" x2="298.86" y2="1137.01" stroke="#ff1a1a" stroke-width="1.7"/>
<line x1="250.41" y1="1113.54" x2="298.86" y2="1137.01" stroke="#ff1a1a" stroke-width="1.7"/>
<line x1="250.41" y1="1113.54" x2="250.41" y2="1148.57" stroke="#ff1a1a" stroke-width="1.7"/>
<line x1="250.41" y1="1148.57" x2="298.86" y2="1137.01" stroke="#ff1a1a" stroke-width="1.7"/>
<line x1="227.45" y1="1122.9" x2="250.41" y2="1148.57" stroke="#5a0a0a" stroke-width="1.3"/>
<line x1="227.45" y1="1122.9" x2="208" y2="1098.29" stroke="#000" stroke-width="0.9"/>
<path d="M203.65 1092.8L210.51 1096.31L205.49 1100.28Z" fill="#000"/>
<line x1="227.45" y1="1122.9" x2="291.69" y2="1071.67" stroke="#000" stroke-width="0.9"/>
<path d="M297.16 1067.3L293.68 1074.17L289.69 1069.16Z" fill="#000"/>
<line x1="227.45" y1="1122.9" x2="267.01" y2="1167.47" stroke="#000" stroke-width="0.9"/>
<path d="M271.66 1172.71L264.62 1169.6L269.41 1165.35Z" fill="#000"/>
<circle cx="227.45" cy="1122.9" r="1.6" fill="#0000ff"/>
<text x="227.45" y="1120.9" font-size="10.5" text-anchor="middle" style="fill:#2ca02c">Γ</text>
<circle cx="250.41" cy="1113.54" r="1.6" fill="#0000ff"/>
<text x="250.41" y="1111.54" font-size="10.5" text-anchor="middle" style="fill:#2ca02c">P</text>
<circle cx="298.86" cy="1137.01" r="1.6" fill="#0000ff"/>
<text x="298.86" y="1135.01" font-size="10.5" text-anchor="middle" style="fill:#2ca02c">H</text>
<circle cx="250.41" cy="1148.57" r="1.6" fill="#0000ff"/>
<text x="250.41" y="1146.57" font-size="10.5" text-anchor="middle" style="fill:#2ca02c">N</text>
<line x1="287.35" y1="1318.4" x2="287.35" y2="1851" stroke="#cfcfcf" stroke-width="1.1"/>
<line x1="457.7" y1="1318.4" x2="457.7" y2="1851" stroke="#cfcfcf" stroke-width="1.1"/>
<line x1="628.05" y1="1318.4" x2="628.05" y2="1851" stroke="#cfcfcf" stroke-width="1.1"/>
<path d="M117 1502.15C127.22 1502.15 136.59 1503.48 147.66 1505.88C158.74 1508.27 172.93 1511.82 183.44 1516.53C193.94 1521.23 201.61 1527.89 210.69 1534.1C219.78 1540.32 228.86 1548.04 237.95 1553.81C247.03 1559.58 256.97 1565.26 265.2 1568.72C273.44 1572.18 283.66 1573.6 287.35 1574.58" fill="none" stroke="#000" stroke-width="2.3" stroke-dasharray="8.2 3.8"/>
<path d="M117 1541.03C124.38 1541.03 130.91 1535.26 139.15 1529.84C147.38 1524.43 155.9 1514.49 166.4 1508.54C176.91 1502.59 191.67 1496.02 202.18 1494.16C212.68 1492.29 220.35 1495.58 229.43 1497.35C238.52 1499.13 247.03 1502.68 256.69 1504.81C266.34 1506.94 282.24 1509.25 287.35 1510.14" fill="none" stroke="#000" stroke-width="2.3" stroke-dasharray="8.2 3.8"/>
<path d="M117 1541.03C134.03 1541.03 152.49 1536.14 168.11 1531.44C183.72 1526.74 197.92 1518.12 210.69 1512.8C223.47 1507.47 231.99 1502.15 244.76 1499.48C257.54 1496.82 280.25 1497.26 287.35 1496.82" fill="none" stroke="#000" stroke-width="2.3" stroke-dasharray="8.2 3.8"/>
<path d="M117 1851C122.25 1837.33 137.39 1798.98 148.51 1768.98C159.64 1738.98 176.68 1691.04 183.78 1670.98C190.88 1650.92 187.04 1659.09 191.1 1648.61C195.16 1638.14 203.94 1617.99 208.14 1608.13C212.34 1598.28 211.66 1598.9 216.31 1589.49C220.97 1580.08 227.95 1563.4 236.07 1551.68C244.19 1539.96 256.49 1525.76 265.03 1519.19C273.58 1512.62 283.63 1513.42 287.35 1512.27" fill="none" stroke="#000" stroke-width="2.3" stroke-dasharray="8.2 3.8"/>
<path d="M117 1851C125.21 1836.18 152.21 1787.35 166.23 1762.06C180.26 1736.76 189.48 1717.85 201.15 1699.21C212.82 1680.57 226.02 1661.75 236.25 1650.21C246.47 1638.67 253.96 1635.12 262.48 1629.97C271 1624.82 283.2 1621.09 287.35 1619.32" fill="none" stroke="#000" stroke-width="2.3" stroke-dasharray="8.2 3.8"/>
<path d="M117 1610.26C133.35 1610.26 151.86 1587.19 166.06 1582.04C180.26 1576.89 190.48 1578.49 202.18 1579.37C213.87 1580.26 224.89 1582.92 236.25 1587.36C247.6 1591.8 261.8 1601.57 270.32 1606C278.83 1610.44 284.51 1612.66 287.35 1613.99" fill="none" stroke="#000" stroke-width="2.3" stroke-dasharray="8.2 3.8"/>
<path d="M117 1611.33C145.39 1611.33 173.78 1613.82 202.18 1615.59C230.57 1617.37 273.15 1620.92 287.35 1621.98" fill="none" stroke="#000" stroke-width="2.3" stroke-dasharray="8.2 3.8"/>
<path d="M117 1631.04C134.03 1631.04 151.07 1628.82 168.11 1627.31C185.14 1625.8 199.34 1623.31 219.21 1621.98C239.08 1620.65 275.99 1619.76 287.35 1619.32" fill="none" stroke="#000" stroke-width="2.3" stroke-dasharray="8.2 3.8"/>
<path d="M287.35 1496.82C301.55 1496.73 344.13 1496.29 372.52 1496.29C400.92 1496.29 429.31 1496.82 457.7 1496.82" fill="none" stroke="#000" stroke-width="2.3" stroke-dasharray="8.2 3.8"/>
<path d="M287.35 1510.14C301.55 1511.02 344.13 1512.89 372.52 1515.46C400.92 1518.04 429.31 1525.58 457.7 1525.58" fill="none" stroke="#000" stroke-width="2.3" stroke-dasharray="8.2 3.8"/>
<path d="M287.35 1574.58C295.87 1573.6 321.42 1570.85 338.46 1568.72C355.49 1566.59 369.69 1563.75 389.56 1561.8C409.43 1559.85 434.99 1557 457.7 1557" fill="none" stroke="#000" stroke-width="2.3" stroke-dasharray="8.2 3.8"/>
<path d="M287.35 1613.99C295.87 1611.33 321.42 1602.01 338.46 1598.02C355.49 1594.02 369.69 1592.33 389.56 1590.03C409.43 1587.72 434.99 1584.17 457.7 1584.17" fill="none" stroke="#000" stroke-width="2.3" stroke-dasharray="8.2 3.8"/>
<path d="M287.35 1621.98C301.55 1623.31 344.13 1628.02 372.52 1629.97C400.92 1631.92 429.31 1633.7 457.7 1633.7" fill="none" stroke="#000" stroke-width="2.3" stroke-dasharray="8.2 3.8"/>
<path d="M287.35 1619.32C301.55 1620.21 344.13 1622.87 372.52 1624.64C400.92 1626.42 429.31 1629.97 457.7 1629.97" fill="none" stroke="#000" stroke-width="2.3" stroke-dasharray="8.2 3.8"/>
<path d="M287.35 1619.32C295.87 1620.65 321.42 1624.2 338.46 1627.31C355.49 1630.41 373.94 1633.88 389.56 1637.96C405.18 1642.04 420.79 1649.14 432.15 1651.81C443.5 1654.47 449.18 1653.94 457.7 1653.94" fill="none" stroke="#000" stroke-width="2.3" stroke-dasharray="8.2 3.8"/>
<path d="M287.35 1619.32C293.03 1621.54 304.1 1627.49 321.42 1632.63C338.74 1637.78 373.66 1643.82 391.26 1650.21C408.87 1656.6 415.96 1665.92 427.04 1670.98C438.11 1676.04 447.48 1680.57 457.7 1680.57" fill="none" stroke="#000" stroke-width="2.3" stroke-dasharray="8.2 3.8"/>
<path d="M457.7 1496.82C461.67 1496.82 460.54 1492.47 469.62 1488.83C478.71 1485.19 501.71 1477.56 512.21 1474.98C522.72 1472.41 525.84 1472.23 532.65 1473.39C539.47 1474.54 546.28 1477.56 553.1 1481.91C559.91 1486.26 566.72 1493.89 573.54 1499.48C580.35 1505.08 587.73 1510.14 593.98 1515.46C600.23 1520.79 605.34 1527.62 611.01 1531.44C616.69 1535.26 622.37 1538.36 628.05 1538.36" fill="none" stroke="#000" stroke-width="2.3" stroke-dasharray="8.2 3.8"/>
<path d="M457.7 1557C469.06 1557 478.99 1554.34 491.77 1550.08C504.55 1545.82 521.58 1537.65 534.36 1531.44C547.13 1525.23 557.07 1517.41 568.43 1512.8C579.78 1508.18 592.56 1505.52 602.5 1503.74C612.43 1501.97 619.53 1502.15 628.05 1502.15" fill="none" stroke="#000" stroke-width="2.3" stroke-dasharray="8.2 3.8"/>
<path d="M457.7 1525.58C474.73 1525.58 491.77 1530.11 508.8 1531.44C525.84 1532.77 545.71 1532.86 559.91 1533.57C574.11 1534.28 582.62 1534.9 593.98 1535.7C605.34 1536.5 616.69 1538.36 628.05 1538.36" fill="none" stroke="#000" stroke-width="2.3" stroke-dasharray="8.2 3.8"/>
<path d="M457.7 1517.06C461.67 1517.06 464.23 1516.62 469.62 1520.79C475.02 1524.96 483.54 1533.66 490.07 1542.09C496.6 1550.52 502.56 1560.73 508.8 1571.38C515.05 1582.04 523 1597.57 527.54 1606C532.09 1614.44 530.67 1607.34 536.06 1621.98C541.46 1636.63 550.26 1667.7 559.91 1693.88C569.56 1720.07 582.62 1752.91 593.98 1779.1C605.34 1805.29 622.37 1839.02 628.05 1851" fill="none" stroke="#000" stroke-width="2.3" stroke-dasharray="8.2 3.8"/>
<path d="M457.7 1584.17C471.9 1584.17 490.92 1577.07 500.29 1576.71C509.66 1576.36 508.24 1576.71 513.92 1582.04C519.59 1587.36 526.69 1602.45 534.36 1608.67C542.02 1614.88 549.97 1616.21 559.91 1619.32C569.85 1622.43 582.62 1625.36 593.98 1627.31C605.34 1629.26 616.69 1631.04 628.05 1631.04" fill="none" stroke="#000" stroke-width="2.3" stroke-dasharray="8.2 3.8"/>
<path d="M457.7 1633.7C480.41 1633.7 505.97 1621.36 525.84 1619.85C545.71 1618.34 559.91 1626.07 576.94 1624.64C593.98 1623.22 611.01 1611.33 628.05 1611.33" fill="none" stroke="#000" stroke-width="2.3" stroke-dasharray="8.2 3.8"/>
<path d="M457.7 1629.97C486.09 1629.97 514.48 1627.13 542.88 1627.31C571.27 1627.49 599.66 1631.04 628.05 1631.04" fill="none" stroke="#000" stroke-width="2.3" stroke-dasharray="8.2 3.8"/>
<path d="M457.7 1653.94C467.35 1653.94 475.98 1660.15 486.66 1666.19C497.33 1672.22 510.08 1679.15 521.75 1690.15C533.42 1701.16 545 1716.52 556.67 1732.23C568.34 1747.94 579.87 1764.63 591.77 1784.42C603.66 1804.22 622 1839.9 628.05 1851" fill="none" stroke="#000" stroke-width="2.3" stroke-dasharray="8.2 3.8"/>
<path d="M457.7 1680.57C467.35 1680.57 475.98 1680.3 486.66 1684.83C497.33 1689.36 510.08 1697.52 521.75 1707.73C533.42 1717.94 545 1731.52 556.67 1746.08C568.34 1760.64 579.87 1777.59 591.77 1795.08C603.66 1812.56 622 1841.68 628.05 1851" fill="none" stroke="#000" stroke-width="2.3" stroke-dasharray="8.2 3.8"/>
<path d="M628.05 1631.57C633.73 1631.57 639.41 1627.66 645.08 1621.98C650.76 1616.3 656.44 1607.87 662.12 1597.48C667.8 1587.1 674.04 1572.54 679.15 1559.67C684.27 1546.8 685.69 1535.61 692.78 1520.26C699.88 1504.9 712.66 1483.42 721.74 1467.53C730.83 1451.64 738.78 1436.02 747.29 1424.92C755.81 1413.82 764.33 1406.28 772.85 1400.95C781.37 1395.63 789.88 1392.96 798.4 1392.96" fill="none" stroke="#000" stroke-width="2.3" stroke-dasharray="8.2 3.8"/>
<path d="M628.05 1502.15C639.41 1502.15 650.76 1502.15 662.12 1499.48C673.48 1496.82 686.25 1491.05 696.19 1486.17C706.13 1481.29 713.22 1475.96 721.74 1470.19C730.26 1464.42 738.78 1456.61 747.29 1451.55C755.81 1446.49 764.33 1442.32 772.85 1439.83C781.37 1437.35 789.88 1436.64 798.4 1436.64" fill="none" stroke="#000" stroke-width="2.3" stroke-dasharray="8.2 3.8"/>
<path d="M628.05 1851C630.89 1840.53 639.12 1809.46 645.08 1788.15C651.05 1766.85 657.86 1745.55 663.82 1723.18C669.79 1700.81 674.9 1674.8 680.86 1653.94C686.82 1633.08 693.35 1614.44 699.6 1598.02C705.84 1581.59 712.94 1566.95 718.34 1555.41C723.73 1543.87 726.85 1538.1 731.96 1528.78C737.07 1519.46 743.6 1507.47 749 1499.48C754.39 1491.49 758.94 1485.46 764.33 1480.84C769.72 1476.23 775.69 1473.65 781.37 1471.79C787.04 1469.92 792.72 1469.66 798.4 1469.66" fill="none" stroke="#000" stroke-width="2.3" stroke-dasharray="8.2 3.8"/>
<path d="M696.19 1527.18C699.03 1526.56 707.55 1523.63 713.22 1523.45C718.9 1523.27 721.74 1524.34 730.26 1526.11C738.78 1527.89 752.97 1531.8 764.33 1534.1C775.69 1536.41 787.04 1539.96 798.4 1539.96" fill="none" stroke="#000" stroke-width="2.3" stroke-dasharray="8.2 3.8"/>
<path d="M628.05 1631.04C636.57 1631.04 645.08 1623.05 653.6 1621.98C662.12 1620.92 672.06 1622.43 679.15 1624.64C686.25 1626.86 687.67 1630.86 696.19 1635.3C704.71 1639.74 720.32 1648.35 730.26 1651.28C740.2 1654.2 744.46 1654.38 755.81 1652.87C767.17 1651.36 784.2 1642.22 798.4 1642.22" fill="none" stroke="#000" stroke-width="2.3" stroke-dasharray="8.2 3.8"/>
<path d="M628.05 1851C631.2 1845.67 640.97 1829.52 646.96 1819.04C652.95 1808.57 658.32 1798.1 663.99 1788.15C669.67 1778.21 675.38 1768.18 681.03 1759.39C686.68 1750.6 692.24 1743.24 697.89 1735.43C703.54 1727.61 709.25 1719.71 714.93 1712.52C720.61 1705.33 726.29 1698.06 731.96 1692.29C737.64 1686.52 743.6 1681.63 749 1677.9C754.39 1674.18 758.94 1671.6 764.33 1669.92C769.72 1668.23 775.69 1668.23 781.37 1667.79C787.04 1667.34 792.72 1667.25 798.4 1667.25" fill="none" stroke="#000" stroke-width="2.3" stroke-dasharray="8.2 3.8"/>
<path d="M117 1493.09C127.22 1493.09 136.59 1498.24 147.66 1502.15C158.74 1506.05 172.93 1510.93 183.44 1516.53C193.94 1522.12 201.61 1528.78 210.69 1535.7C219.78 1542.62 228.86 1551.86 237.95 1558.07C247.03 1564.28 256.97 1569.52 265.2 1572.98C273.44 1576.44 283.66 1577.86 287.35 1578.84" fill="none" stroke="#5BB4E5" stroke-width="2.2"/>
<path d="M117 1563.93C127.22 1563.93 136.31 1561.71 147.66 1555.41C159.02 1549.1 173.22 1534.55 185.14 1526.11C197.06 1517.68 207.29 1509.51 219.21 1504.81C231.13 1500.11 245.33 1499.22 256.69 1497.89C268.04 1496.55 282.24 1497 287.35 1496.82" fill="none" stroke="#5BB4E5" stroke-width="2.2"/>
<path d="M117 1563.93C128.36 1563.93 138.29 1564.82 151.07 1560.73C163.85 1556.65 179.46 1546.97 193.66 1539.43C207.85 1531.88 220.63 1520.79 236.25 1515.46C251.86 1510.14 278.83 1508.8 287.35 1507.47" fill="none" stroke="#5BB4E5" stroke-width="2.2"/>
<path d="M117 1851C121.68 1837.33 134.55 1798.98 145.11 1768.98C155.67 1738.98 173.27 1691.04 180.37 1670.98C187.47 1650.92 183.64 1659.09 187.7 1648.61C191.76 1638.14 200.53 1617.99 204.73 1608.13C208.93 1598.28 208.25 1598.9 212.91 1589.49C217.56 1580.08 223.98 1563.4 232.67 1551.68C241.36 1539.96 255.92 1525.76 265.03 1519.19C274.15 1512.62 283.63 1513.42 287.35 1512.27" fill="none" stroke="#5BB4E5" stroke-width="2.2"/>
<path d="M117 1851C124.35 1836.18 147.95 1787.35 161.12 1762.06C174.29 1736.76 184.37 1717.85 196.04 1699.21C207.71 1680.57 220.06 1662.37 231.13 1650.21C242.21 1638.05 253.11 1632.01 262.48 1626.24C271.85 1620.47 283.2 1617.37 287.35 1615.59" fill="none" stroke="#5BB4E5" stroke-width="2.2"/>
<path d="M117 1596.42C127.22 1596.42 136.59 1587.72 147.66 1584.17C158.74 1580.62 172.93 1576.98 183.44 1575.11C193.94 1573.25 204.16 1573.16 210.69 1572.98C217.22 1572.81 216.94 1571.65 222.62 1574.05C228.3 1576.44 236.81 1582.04 244.76 1587.36C252.71 1592.69 263.22 1601.57 270.32 1606C277.41 1610.44 284.51 1612.66 287.35 1613.99" fill="none" stroke="#5BB4E5" stroke-width="2.2"/>
<path d="M117 1608.67C145.39 1608.67 173.78 1611.06 202.18 1612.4C230.57 1613.73 273.15 1615.95 287.35 1616.66" fill="none" stroke="#5BB4E5" stroke-width="2.2"/>
<path d="M117 1613.99C145.39 1613.99 173.78 1616.21 202.18 1617.72C230.57 1619.23 273.15 1622.16 287.35 1623.05" fill="none" stroke="#5BB4E5" stroke-width="2.2"/>
<path d="M287.35 1496.82C301.55 1497 344.13 1497.62 372.52 1497.89C400.92 1498.15 429.31 1498.42 457.7 1498.42" fill="none" stroke="#5BB4E5" stroke-width="2.2"/>
<path d="M287.35 1507.47C301.55 1507.92 344.13 1509.43 372.52 1510.14C400.92 1510.85 429.31 1511.73 457.7 1511.73" fill="none" stroke="#5BB4E5" stroke-width="2.2"/>
<path d="M287.35 1507.47C304.38 1509.69 361.17 1516.79 389.56 1520.79C417.95 1524.78 434.99 1531.44 457.7 1531.44" fill="none" stroke="#5BB4E5" stroke-width="2.2"/>
<path d="M287.35 1578.84C301.55 1576.71 344.13 1569.52 372.52 1566.06C400.92 1562.6 429.31 1558.07 457.7 1558.07" fill="none" stroke="#5BB4E5" stroke-width="2.2"/>
<path d="M287.35 1613.99C295.87 1610 321.42 1596.68 338.46 1590.03C355.49 1583.37 369.69 1577.6 389.56 1574.05C409.43 1570.5 434.99 1568.72 457.7 1568.72" fill="none" stroke="#5BB4E5" stroke-width="2.2"/>
<path d="M287.35 1616.66C301.55 1617.54 344.13 1620.92 372.52 1621.98C400.92 1623.05 429.31 1623.05 457.7 1623.05" fill="none" stroke="#5BB4E5" stroke-width="2.2"/>
<path d="M287.35 1623.05C301.55 1623.76 344.13 1626.15 372.52 1627.31C400.92 1628.46 429.31 1629.97 457.7 1629.97" fill="none" stroke="#5BB4E5" stroke-width="2.2"/>
<path d="M287.35 1615.59C295.87 1617.54 321.42 1623.58 338.46 1627.31C355.49 1631.04 373.94 1635.12 389.56 1637.96C405.18 1640.8 420.79 1642.93 432.15 1644.35C443.5 1645.77 449.18 1646.48 457.7 1646.48" fill="none" stroke="#5BB4E5" stroke-width="2.2"/>
<path d="M287.35 1615.59C293.03 1618.43 304.1 1626.86 321.42 1632.63C338.74 1638.4 373.66 1643.82 391.26 1650.21C408.87 1656.6 415.96 1666.81 427.04 1670.98C438.11 1675.15 447.48 1675.24 457.7 1675.24" fill="none" stroke="#5BB4E5" stroke-width="2.2"/>
<path d="M457.7 1498.42C469.06 1498.42 480.41 1491.32 491.77 1491.49C503.13 1491.67 514.48 1493.71 525.84 1499.48C537.2 1505.25 548.55 1517.24 559.91 1526.11C571.27 1534.99 582.62 1546.44 593.98 1552.74C605.34 1559.05 616.69 1563.93 628.05 1563.93" fill="none" stroke="#5BB4E5" stroke-width="2.2"/>
<path d="M457.7 1558.07C467.92 1558.07 477.01 1554.96 488.36 1550.08C499.72 1545.2 514.48 1535.26 525.84 1528.78C537.2 1522.3 545.71 1516.79 556.5 1511.2C567.29 1505.61 578.65 1498.24 590.57 1495.22C602.5 1492.21 615.56 1493.09 628.05 1493.09" fill="none" stroke="#5BB4E5" stroke-width="2.2"/>
<path d="M457.7 1531.44C480.41 1531.44 505.97 1538.72 525.84 1543.16C545.71 1547.6 559.91 1554.61 576.94 1558.07C593.98 1561.53 611.01 1563.93 628.05 1563.93" fill="none" stroke="#5BB4E5" stroke-width="2.2"/>
<path d="M457.7 1511.73C480.41 1511.73 505.97 1519.28 525.84 1526.11C545.71 1532.95 559.91 1546.44 576.94 1552.74C593.98 1559.05 611.01 1563.93 628.05 1563.93" fill="none" stroke="#5BB4E5" stroke-width="2.2"/>
<path d="M457.7 1517.06C461.67 1517.06 464.85 1516.88 469.62 1520.79C474.39 1524.69 480.53 1532.51 486.32 1540.49C492.11 1548.48 498.36 1558.51 504.38 1568.72C510.39 1578.93 517.92 1593.22 522.43 1601.74C526.95 1610.26 526.07 1605.12 531.46 1619.85C536.86 1634.59 544.81 1663.88 554.8 1690.15C564.79 1716.43 579.22 1750.69 591.42 1777.5C603.63 1804.31 621.95 1838.75 628.05 1851" fill="none" stroke="#5BB4E5" stroke-width="2.2"/>
<path d="M457.7 1568.72C474.73 1568.72 494.61 1567.83 508.8 1568.72C523 1569.61 531.52 1571.38 542.88 1574.05C554.23 1576.71 567.01 1581.59 576.94 1584.7C586.88 1587.81 593.98 1591 602.5 1592.69C611.01 1594.38 619.53 1594.82 628.05 1594.82" fill="none" stroke="#5BB4E5" stroke-width="2.2"/>
<path d="M457.7 1623.05C474.73 1623.05 491.77 1616.12 508.8 1612.4C525.84 1608.67 540.04 1603.34 559.91 1600.68C579.78 1598.01 605.34 1596.42 628.05 1596.42" fill="none" stroke="#5BB4E5" stroke-width="2.2"/>
<path d="M457.7 1629.97C480.41 1629.97 505.97 1624.38 525.84 1621.98C545.71 1619.59 559.91 1616.92 576.94 1615.59C593.98 1614.26 611.01 1613.99 628.05 1613.99" fill="none" stroke="#5BB4E5" stroke-width="2.2"/>
<path d="M457.7 1646.48C467.35 1646.48 475.98 1651.45 486.66 1658.73C497.33 1666.01 510.08 1677.9 521.75 1690.15C533.42 1702.4 545 1716.52 556.67 1732.23C568.34 1747.94 579.87 1764.63 591.77 1784.42C603.66 1804.22 622 1839.9 628.05 1851" fill="none" stroke="#5BB4E5" stroke-width="2.2"/>
<path d="M457.7 1675.24C467.35 1675.24 475.98 1674.09 486.66 1679.5C497.33 1684.92 510.08 1696.63 521.75 1707.73C533.42 1718.83 545 1731.52 556.67 1746.08C568.34 1760.64 579.87 1777.59 591.77 1795.08C603.66 1812.56 622 1841.68 628.05 1851" fill="none" stroke="#5BB4E5" stroke-width="2.2"/>
<path d="M628.05 1606.54C633.73 1606.54 639.41 1608.58 645.08 1604.94C650.76 1601.3 656.44 1592.87 662.12 1584.7C667.8 1576.53 673.48 1567.48 679.15 1555.94C684.83 1544.4 690.51 1529.31 696.19 1515.46C701.87 1501.61 706.13 1489.72 713.22 1472.85C720.32 1455.99 730.26 1429.8 738.78 1414.27C747.29 1398.73 756.66 1386.93 764.33 1379.65C772 1372.37 779.09 1372.19 784.77 1370.59C790.45 1369 793.86 1370.06 798.4 1370.06" fill="none" stroke="#5BB4E5" stroke-width="2.2"/>
<path d="M628.05 1493.09C639.41 1493.09 650.76 1493.98 662.12 1491.49C673.48 1489.01 686.25 1483.51 696.19 1478.18C706.13 1472.85 713.22 1465.75 721.74 1459.54C730.26 1453.33 738.78 1445.78 747.29 1440.9C755.81 1436.02 764.33 1432.47 772.85 1430.25C781.37 1428.03 789.88 1427.58 798.4 1427.58" fill="none" stroke="#5BB4E5" stroke-width="2.2"/>
<path d="M628.05 1851C630.89 1840.17 639.41 1807.33 645.08 1786.02C650.76 1764.72 656.44 1745.63 662.12 1723.18C667.8 1700.72 673.19 1672.58 679.15 1651.28C685.12 1629.97 691.65 1611.77 697.89 1595.35C704.14 1578.93 711.24 1564.28 716.63 1552.74C722.03 1541.2 725.15 1534.99 730.26 1526.11C735.37 1517.24 741.62 1506.59 747.29 1499.48C752.97 1492.38 758.65 1487.32 764.33 1483.51C770.01 1479.69 775.69 1478 781.37 1476.58C787.04 1475.16 792.72 1474.98 798.4 1474.98" fill="none" stroke="#5BB4E5" stroke-width="2.2"/>
<path d="M628.05 1563.4C645.08 1563.4 662.12 1561.8 679.15 1558.07C696.19 1554.34 710.39 1545.02 730.26 1541.03C750.13 1537.03 775.69 1534.1 798.4 1534.1" fill="none" stroke="#5BB4E5" stroke-width="2.2"/>
<path d="M628.05 1596.95C639.41 1596.95 650.76 1596.33 662.12 1599.08C673.48 1601.83 684.83 1609.2 696.19 1613.46C707.55 1617.72 718.9 1623.22 730.26 1624.64C741.62 1626.07 752.97 1622.87 764.33 1621.98C775.69 1621.09 787.04 1619.32 798.4 1619.32" fill="none" stroke="#5BB4E5" stroke-width="2.2"/>
<path d="M628.05 1851C631.2 1845.59 640.97 1829.34 646.96 1818.51C652.95 1807.68 658.32 1796.5 663.99 1786.02C669.67 1775.55 675.38 1765.25 681.03 1755.66C686.68 1746.08 692.24 1737.02 697.89 1728.5C703.54 1719.98 709.25 1710.39 714.93 1704.54C720.61 1698.68 726.29 1697.91 731.96 1693.37C737.64 1688.82 743.32 1681.78 749 1677.25C754.68 1672.72 760.64 1669.11 766.03 1666.17C771.43 1663.23 775.97 1661.22 781.37 1659.62C786.76 1658.03 792.72 1656.6 798.4 1656.6" fill="none" stroke="#5BB4E5" stroke-width="2.2"/>
<path d="M117 1498.42C127.22 1498.42 136.59 1503.3 147.66 1507.47C158.74 1511.65 172.93 1517.24 183.44 1523.45C193.94 1529.66 201.61 1537.21 210.69 1544.76C219.78 1552.3 228.86 1562.33 237.95 1568.72C247.03 1575.11 256.97 1580 265.2 1583.1C273.44 1586.21 283.66 1586.65 287.35 1587.36" fill="none" stroke="#3CAA6E" stroke-width="2.2"/>
<path d="M117 1550.08C127.22 1550.08 137.73 1546.97 147.66 1542.09C157.6 1537.21 167.54 1526.74 176.62 1520.79C185.71 1514.84 191.95 1513.24 202.18 1506.41C212.4 1499.57 223.75 1485.28 237.95 1479.78C252.14 1474.27 279.12 1474.45 287.35 1473.39" fill="none" stroke="#3CAA6E" stroke-width="2.2"/>
<path d="M117 1550.08C128.36 1550.08 139.71 1550.08 151.07 1547.42C162.43 1544.76 173.78 1538.1 185.14 1534.1C196.5 1530.11 207.85 1525.67 219.21 1523.45C230.57 1521.23 241.92 1521.05 253.28 1520.79C264.64 1520.52 281.67 1521.68 287.35 1521.85" fill="none" stroke="#3CAA6E" stroke-width="2.2"/>
<path d="M117 1851C121.97 1837.33 135.97 1798.98 146.81 1768.98C157.66 1738.98 174.98 1691.04 182.07 1670.98C189.17 1650.92 185.34 1659.09 189.4 1648.61C193.46 1638.14 202.23 1617.99 206.43 1608.13C210.64 1598.28 209.95 1598.9 214.61 1589.49C219.27 1580.08 225.97 1563.4 234.37 1551.68C242.78 1539.96 256.2 1525.76 265.03 1519.19C273.86 1512.62 283.63 1513.42 287.35 1512.27" fill="none" stroke="#3CAA6E" stroke-width="2.2"/>
<path d="M117 1851C124.92 1836.18 150.79 1787.35 164.53 1762.06C178.27 1736.76 187.78 1717.85 199.45 1699.21C211.12 1680.57 224.04 1661.31 234.54 1650.21C245.05 1639.11 253.68 1637.34 262.48 1632.63C271.28 1627.93 283.2 1623.76 287.35 1621.98" fill="none" stroke="#3CAA6E" stroke-width="2.2"/>
<path d="M117 1605.47C133.35 1605.47 150.39 1584.88 166.06 1580.44C181.73 1576 196.04 1576.18 211.03 1578.84C226.02 1581.5 243.29 1590.74 256.01 1596.42C268.73 1602.1 282.13 1610.18 287.35 1612.93" fill="none" stroke="#3CAA6E" stroke-width="2.2"/>
<path d="M117 1606C145.39 1606 173.78 1610.44 202.18 1613.99C230.57 1617.54 273.15 1625.09 287.35 1627.31" fill="none" stroke="#3CAA6E" stroke-width="2.2"/>
<path d="M117 1618.25C145.39 1618.25 173.78 1624.02 202.18 1627.31C230.57 1630.59 273.15 1636.18 287.35 1637.96" fill="none" stroke="#3CAA6E" stroke-width="2.2"/>
<path d="M287.35 1473.39C295.87 1473.74 321.42 1473.83 338.46 1475.52C355.49 1477.2 369.69 1480.58 389.56 1483.51C409.43 1486.44 434.99 1493.09 457.7 1493.09" fill="none" stroke="#3CAA6E" stroke-width="2.2"/>
<path d="M287.35 1521.85C295.87 1522.12 321.42 1523.63 338.46 1523.45C355.49 1523.27 369.69 1522.21 389.56 1520.79C409.43 1519.37 434.99 1514.93 457.7 1514.93" fill="none" stroke="#3CAA6E" stroke-width="2.2"/>
<path d="M287.35 1587.36C301.55 1585.14 344.13 1577.51 372.52 1574.05C400.92 1570.59 429.31 1566.59 457.7 1566.59" fill="none" stroke="#3CAA6E" stroke-width="2.2"/>
<path d="M287.35 1612.93C295.87 1610 321.42 1600.5 338.46 1595.35C355.49 1590.2 369.69 1585.23 389.56 1582.04C409.43 1578.84 434.99 1576.18 457.7 1576.18" fill="none" stroke="#3CAA6E" stroke-width="2.2"/>
<path d="M287.35 1627.31C301.55 1628.64 344.13 1633.52 372.52 1635.3C400.92 1637.07 429.31 1637.96 457.7 1637.96" fill="none" stroke="#3CAA6E" stroke-width="2.2"/>
<path d="M287.35 1637.96C301.55 1638.23 344.13 1639.11 372.52 1639.56C400.92 1640 429.31 1640.62 457.7 1640.62" fill="none" stroke="#3CAA6E" stroke-width="2.2"/>
<path d="M287.35 1621.98C295.87 1622.87 321.42 1624.64 338.46 1627.31C355.49 1629.97 373.94 1634.59 389.56 1637.96C405.18 1641.33 420.79 1645.59 432.15 1647.55C443.5 1649.5 449.18 1649.68 457.7 1649.68" fill="none" stroke="#3CAA6E" stroke-width="2.2"/>
<path d="M287.35 1621.98C293.03 1623.76 304.1 1627.93 321.42 1632.63C338.74 1637.34 373.66 1643.82 391.26 1650.21C408.87 1656.6 415.96 1666.37 427.04 1670.98C438.11 1675.6 447.48 1677.9 457.7 1677.9" fill="none" stroke="#3CAA6E" stroke-width="2.2"/>
<path d="M457.7 1493.09C470.76 1493.09 485.52 1484.93 496.88 1485.1C508.24 1485.28 516.47 1489.54 525.84 1494.16C535.21 1498.77 544.58 1506.32 553.1 1512.8C561.61 1519.28 568.43 1527.09 576.94 1533.04C585.46 1538.99 595.68 1545.38 604.2 1548.48C612.72 1551.59 620.1 1551.68 628.05 1551.68" fill="none" stroke="#3CAA6E" stroke-width="2.2"/>
<path d="M457.7 1566.59C469.06 1566.59 479.85 1563.04 491.77 1558.07C503.69 1553.1 517.89 1543.69 529.25 1536.77C540.6 1529.84 549.12 1522.56 559.91 1516.53C570.7 1510.49 582.62 1503.57 593.98 1500.55C605.34 1497.53 616.69 1498.42 628.05 1498.42" fill="none" stroke="#3CAA6E" stroke-width="2.2"/>
<path d="M457.7 1514.93C474.73 1514.93 491.77 1514.93 508.8 1519.19C525.84 1523.45 540.04 1535.35 559.91 1540.49C579.78 1545.64 605.34 1550.08 628.05 1550.08" fill="none" stroke="#3CAA6E" stroke-width="2.2"/>
<path d="M457.7 1517.06C461.67 1517.06 464.57 1516.88 469.62 1520.79C474.68 1524.69 481.95 1532.51 488.02 1540.49C494.1 1548.48 500.06 1558.51 506.08 1568.72C512.1 1578.93 519.62 1593.22 524.14 1601.74C528.65 1610.26 527.77 1605.12 533.17 1619.85C538.56 1634.59 546.65 1663.88 556.5 1690.15C566.35 1716.43 580.35 1750.69 592.28 1777.5C604.2 1804.31 622.09 1838.75 628.05 1851" fill="none" stroke="#3CAA6E" stroke-width="2.2"/>
<path d="M457.7 1576.18C474.73 1576.18 494.61 1567.12 508.8 1566.06C523 1564.99 531.52 1566.24 542.88 1569.79C554.23 1573.34 567.01 1581.77 576.94 1587.36C586.88 1592.96 593.98 1600.41 602.5 1603.34C611.01 1606.27 619.53 1604.94 628.05 1604.94" fill="none" stroke="#3CAA6E" stroke-width="2.2"/>
<path d="M457.7 1637.96C474.73 1637.96 491.77 1630.59 508.8 1627.31C525.84 1624.02 540.04 1619.76 559.91 1618.25C579.78 1616.74 605.34 1618.25 628.05 1618.25" fill="none" stroke="#3CAA6E" stroke-width="2.2"/>
<path d="M457.7 1640.62C480.41 1640.62 505.97 1632.9 525.84 1629.97C545.71 1627.04 559.91 1624.38 576.94 1623.05C593.98 1621.72 611.01 1621.98 628.05 1621.98" fill="none" stroke="#3CAA6E" stroke-width="2.2"/>
<path d="M457.7 1649.68C467.35 1649.68 475.98 1655.18 486.66 1661.93C497.33 1668.67 510.08 1678.44 521.75 1690.15C533.42 1701.87 545 1716.52 556.67 1732.23C568.34 1747.94 579.87 1764.63 591.77 1784.42C603.66 1804.22 622 1839.9 628.05 1851" fill="none" stroke="#3CAA6E" stroke-width="2.2"/>
<path d="M457.7 1677.9C467.35 1677.9 475.98 1677.19 486.66 1682.17C497.33 1687.14 510.08 1697.08 521.75 1707.73C533.42 1718.38 545 1731.52 556.67 1746.08C568.34 1760.64 579.87 1777.59 591.77 1795.08C603.66 1812.56 622 1841.68 628.05 1851" fill="none" stroke="#3CAA6E" stroke-width="2.2"/>
<path d="M628.05 1621.98C632.59 1621.98 636.68 1626.42 641.68 1621.98C646.67 1617.54 651.7 1607.87 658.03 1595.35C664.36 1582.84 675.18 1557.09 679.67 1546.89C684.15 1536.68 679.55 1547.6 684.95 1534.1C690.34 1520.61 703 1487.77 712.03 1465.93C721.06 1444.09 730.12 1419.59 739.12 1403.08C748.12 1386.57 758.42 1374.5 766.03 1366.87C773.64 1359.23 779.38 1359.06 784.77 1357.28C790.17 1355.5 793.86 1356.21 798.4 1356.21" fill="none" stroke="#3CAA6E" stroke-width="2.2"/>
<path d="M628.05 1498.42C639.41 1498.42 650.76 1498.15 662.12 1495.22C673.48 1492.29 686.25 1485.9 696.19 1480.84C706.13 1475.78 713.22 1470.19 721.74 1464.87C730.26 1459.54 738.78 1453.06 747.29 1448.89C755.81 1444.71 764.33 1441.79 772.85 1439.83C781.37 1437.88 789.88 1437.17 798.4 1437.17" fill="none" stroke="#3CAA6E" stroke-width="2.2"/>
<path d="M628.05 1851C630.89 1839.9 639.78 1806.26 645.08 1784.42C650.39 1762.59 654.79 1743.06 659.91 1719.98C665.02 1696.9 670.07 1667.25 675.75 1645.95C681.43 1624.64 687.93 1608.67 693.98 1592.16C700.02 1575.65 707.23 1558.87 712.03 1546.89C716.83 1534.9 718.31 1530.37 722.76 1520.26C727.22 1510.14 733.27 1495.84 738.78 1486.17C744.29 1476.49 749.57 1468.42 755.81 1462.2C762.06 1455.99 769.16 1451.55 776.25 1448.89C783.35 1446.22 791.02 1446.22 798.4 1446.22" fill="none" stroke="#3CAA6E" stroke-width="2.2"/>
<path d="M628.05 1550.61C645.08 1550.61 662.12 1547.06 679.15 1545.29C696.19 1543.51 710.39 1540.41 730.26 1539.96C750.13 1539.52 775.69 1542.62 798.4 1542.62" fill="none" stroke="#3CAA6E" stroke-width="2.2"/>
<path d="M628.05 1606.54C639.41 1606.54 650.76 1606.98 662.12 1608.13C673.48 1609.29 684.83 1611.86 696.19 1613.46C707.55 1615.06 713.23 1617.01 730.26 1617.72C747.29 1618.43 775.69 1617.72 798.4 1617.72" fill="none" stroke="#3CAA6E" stroke-width="2.2"/>
<path d="M628.05 1851C631.2 1845.59 640.97 1829.34 646.96 1818.51C652.95 1807.68 658.32 1796.5 663.99 1786.02C669.67 1775.55 675.38 1765.25 681.03 1755.66C686.68 1746.08 692.24 1737.02 697.89 1728.5C703.54 1719.98 709.25 1710.68 714.93 1704.54C720.61 1698.39 726.29 1696.5 731.96 1691.64C737.64 1686.77 743.32 1679.93 749 1675.35C754.68 1670.76 760.64 1667.11 766.03 1664.14C771.43 1661.17 775.97 1659.14 781.37 1657.53C786.76 1655.91 792.72 1654.47 798.4 1654.47" fill="none" stroke="#3CAA6E" stroke-width="2.2"/>
<path d="M117 1499.48C127.22 1499.48 136.59 1503.03 147.66 1506.41C158.74 1509.78 172.93 1514.22 183.44 1519.72C193.94 1525.23 201.61 1532.15 210.69 1539.43C219.78 1546.71 228.86 1556.74 237.95 1563.4C247.03 1570.05 256.97 1575.82 265.2 1579.37C273.44 1582.92 283.66 1583.81 287.35 1584.7" fill="none" stroke="#DCA11E" stroke-width="2.2"/>
<path d="M117 1554.34C127.22 1554.34 136.59 1553.01 147.66 1547.42C158.74 1541.83 171.51 1528.33 183.44 1520.79C195.36 1513.24 207 1506.41 219.21 1502.15C231.42 1497.89 245.33 1496.55 256.69 1495.22C268.04 1493.89 282.24 1494.34 287.35 1494.16" fill="none" stroke="#DCA11E" stroke-width="2.2"/>
<path d="M117 1554.34C128.36 1554.34 138.29 1553.45 151.07 1550.08C163.85 1546.71 179.46 1539.43 193.66 1534.1C207.85 1528.78 220.63 1521.23 236.25 1518.12C251.86 1515.02 278.83 1515.91 287.35 1515.46" fill="none" stroke="#DCA11E" stroke-width="2.2"/>
<path d="M117 1851C122.39 1837.33 138.1 1798.98 149.37 1768.98C160.64 1738.98 177.53 1691.04 184.63 1670.98C191.73 1650.92 187.89 1659.09 191.95 1648.61C196.01 1638.14 204.79 1617.99 208.99 1608.13C213.19 1598.28 212.51 1598.9 217.17 1589.49C221.82 1580.08 228.95 1563.4 236.93 1551.68C244.9 1539.96 256.63 1525.76 265.03 1519.19C273.44 1512.62 283.63 1513.42 287.35 1512.27" fill="none" stroke="#DCA11E" stroke-width="2.2"/>
<path d="M117 1851C125.21 1836.18 152.21 1787.35 166.23 1762.06C180.26 1736.76 189.48 1717.85 201.15 1699.21C212.82 1680.57 226.02 1661.57 236.25 1650.21C246.47 1638.85 253.96 1636.01 262.48 1631.04C271 1626.07 283.2 1622.16 287.35 1620.38" fill="none" stroke="#DCA11E" stroke-width="2.2"/>
<path d="M117 1611.33C134.03 1611.33 152.49 1596.68 168.11 1592.69C183.72 1588.69 196.5 1586.48 210.69 1587.36C224.89 1588.25 240.5 1593.13 253.28 1598.02C266.06 1602.9 281.67 1613.55 287.35 1616.66" fill="none" stroke="#DCA11E" stroke-width="2.2"/>
<path d="M117 1611.33C145.39 1611.33 173.78 1614.44 202.18 1616.66C230.57 1618.88 273.15 1623.31 287.35 1624.64" fill="none" stroke="#DCA11E" stroke-width="2.2"/>
<path d="M117 1615.59C145.39 1615.59 173.78 1621.36 202.18 1624.64C230.57 1627.93 273.15 1633.52 287.35 1635.3" fill="none" stroke="#DCA11E" stroke-width="2.2"/>
<path d="M287.35 1494.16C301.55 1494.07 344.13 1493.8 372.52 1493.63C400.92 1493.45 429.31 1493.09 457.7 1493.09" fill="none" stroke="#DCA11E" stroke-width="2.2"/>
<path d="M287.35 1515.46C301.55 1515.91 344.13 1517.06 372.52 1518.12C400.92 1519.19 429.31 1521.85 457.7 1521.85" fill="none" stroke="#DCA11E" stroke-width="2.2"/>
<path d="M287.35 1584.7C301.55 1582.04 344.13 1572.89 372.52 1568.72C400.92 1564.55 429.31 1559.67 457.7 1559.67" fill="none" stroke="#DCA11E" stroke-width="2.2"/>
<path d="M287.35 1613.99C295.87 1610.44 321.42 1598.9 338.46 1592.69C355.49 1586.48 369.69 1580.44 389.56 1576.71C409.43 1572.98 434.99 1570.32 457.7 1570.32" fill="none" stroke="#DCA11E" stroke-width="2.2"/>
<path d="M287.35 1624.64C301.55 1625.27 344.13 1627.31 372.52 1628.37C400.92 1629.44 429.31 1631.04 457.7 1631.04" fill="none" stroke="#DCA11E" stroke-width="2.2"/>
<path d="M287.35 1635.3C301.55 1635.3 344.13 1635.3 372.52 1635.3C400.92 1635.3 429.31 1635.3 457.7 1635.3" fill="none" stroke="#DCA11E" stroke-width="2.2"/>
<path d="M287.35 1620.38C295.87 1621.54 321.42 1624.38 338.46 1627.31C355.49 1630.24 373.94 1634.05 389.56 1637.96C405.18 1641.87 420.79 1648.26 432.15 1650.74C443.5 1653.23 449.18 1652.87 457.7 1652.87" fill="none" stroke="#DCA11E" stroke-width="2.2"/>
<path d="M287.35 1620.38C293.03 1622.43 304.1 1627.66 321.42 1632.63C338.74 1637.6 373.66 1643.82 391.26 1650.21C408.87 1656.6 415.96 1665.21 427.04 1670.98C438.11 1676.75 447.48 1684.83 457.7 1684.83" fill="none" stroke="#DCA11E" stroke-width="2.2"/>
<path d="M457.7 1493.09C470.76 1493.09 485.52 1485.81 496.88 1486.17C508.24 1486.52 516.47 1490.34 525.84 1495.22C535.21 1500.11 544.58 1508.54 553.1 1515.46C561.61 1522.39 568.43 1530.73 576.94 1536.77C585.46 1542.8 595.68 1548.57 604.2 1551.68C612.72 1554.79 620.1 1555.41 628.05 1555.41" fill="none" stroke="#DCA11E" stroke-width="2.2"/>
<path d="M457.7 1559.67C467.92 1559.67 477.01 1556.38 488.36 1551.68C499.72 1546.97 514.48 1537.65 525.84 1531.44C537.2 1525.23 545.71 1519.72 556.5 1514.4C567.29 1509.07 578.65 1502.32 590.57 1499.48C602.5 1496.64 615.56 1497.35 628.05 1497.35" fill="none" stroke="#DCA11E" stroke-width="2.2"/>
<path d="M457.7 1521.85C480.41 1521.85 505.97 1529.22 525.84 1533.57C545.71 1537.92 559.91 1544.49 576.94 1547.95C593.98 1551.41 611.01 1554.34 628.05 1554.34" fill="none" stroke="#DCA11E" stroke-width="2.2"/>
<path d="M457.7 1517.06C461.67 1517.06 464.29 1516.88 469.62 1520.79C474.96 1524.69 483.37 1532.51 489.73 1540.49C496.09 1548.48 501.76 1558.51 507.78 1568.72C513.8 1578.93 521.33 1593.22 525.84 1601.74C530.35 1610.26 529.47 1605.12 534.87 1619.85C540.26 1634.59 548.5 1663.88 558.21 1690.15C567.92 1716.43 581.49 1750.69 593.13 1777.5C604.77 1804.31 622.23 1838.75 628.05 1851" fill="none" stroke="#DCA11E" stroke-width="2.2"/>
<path d="M457.7 1570.32C474.73 1570.32 494.61 1568.72 508.8 1569.79C523 1570.85 531.52 1572.27 542.88 1576.71C554.23 1581.15 567.01 1591.09 576.94 1596.42C586.88 1601.74 593.98 1606.27 602.5 1608.67C611.01 1611.06 619.53 1610.8 628.05 1610.8" fill="none" stroke="#DCA11E" stroke-width="2.2"/>
<path d="M457.7 1631.04C474.73 1631.04 491.77 1624.56 508.8 1621.98C525.84 1619.41 540.04 1616.66 559.91 1615.59C579.78 1614.53 605.34 1615.59 628.05 1615.59" fill="none" stroke="#DCA11E" stroke-width="2.2"/>
<path d="M457.7 1635.3C480.41 1635.3 505.97 1629.97 525.84 1627.31C545.71 1624.64 559.91 1621.27 576.94 1619.32C593.98 1617.37 611.01 1615.59 628.05 1615.59" fill="none" stroke="#DCA11E" stroke-width="2.2"/>
<path d="M457.7 1652.87C467.35 1652.87 475.98 1658.91 486.66 1665.12C497.33 1671.34 510.08 1678.97 521.75 1690.15C533.42 1701.34 545 1716.52 556.67 1732.23C568.34 1747.94 579.87 1764.63 591.77 1784.42C603.66 1804.22 622 1839.9 628.05 1851" fill="none" stroke="#DCA11E" stroke-width="2.2"/>
<path d="M457.7 1684.83C467.35 1684.83 475.98 1685.27 486.66 1689.09C497.33 1692.91 510.08 1698.23 521.75 1707.73C533.42 1717.23 545 1731.52 556.67 1746.08C568.34 1760.64 579.87 1777.59 591.77 1795.08C603.66 1812.56 622 1841.68 628.05 1851" fill="none" stroke="#DCA11E" stroke-width="2.2"/>
<path d="M628.05 1612.4C633.73 1612.4 639.41 1615.06 645.08 1611.33C650.76 1607.6 656.44 1598.9 662.12 1590.03C667.8 1581.15 673.48 1570.05 679.15 1558.07C684.83 1546.09 690.51 1531.88 696.19 1518.12C701.87 1504.37 706.13 1492.38 713.22 1475.52C720.32 1458.65 730.26 1432.91 738.78 1416.93C747.29 1400.95 756.66 1387.37 764.33 1379.65C772 1371.93 779.09 1372.19 784.77 1370.59C790.45 1369 793.86 1370.06 798.4 1370.06" fill="none" stroke="#DCA11E" stroke-width="2.2"/>
<path d="M628.05 1497.35C639.41 1497.35 650.76 1497.35 662.12 1494.16C673.48 1490.96 686.25 1483.95 696.19 1478.18C706.13 1472.41 713.22 1466.2 721.74 1459.54C730.26 1452.88 738.78 1443.83 747.29 1438.24C755.81 1432.64 764.33 1428.47 772.85 1425.99C781.37 1423.5 789.88 1423.32 798.4 1423.32" fill="none" stroke="#DCA11E" stroke-width="2.2"/>
<path d="M628.05 1851C630.89 1840.35 639.41 1808.39 645.08 1787.09C650.76 1765.78 656.44 1746.26 662.12 1723.18C667.8 1700.1 673.19 1670.36 679.15 1648.61C685.12 1626.86 691.65 1609.55 697.89 1592.69C704.14 1575.82 711.52 1559.49 716.63 1547.42C721.74 1535.35 724.01 1530.02 728.56 1520.26C733.1 1510.49 738.49 1498.06 743.89 1488.83C749.28 1479.6 754.96 1471.08 760.92 1464.87C766.89 1458.65 773.42 1455.28 779.66 1451.55C785.91 1447.82 792.15 1442.5 798.4 1442.5" fill="none" stroke="#DCA11E" stroke-width="2.2"/>
<path d="M628.05 1554.87C645.08 1554.87 662.12 1554.34 679.15 1550.08C696.19 1545.82 710.39 1534.01 730.26 1529.31C750.13 1524.6 775.69 1521.85 798.4 1521.85" fill="none" stroke="#DCA11E" stroke-width="2.2"/>
<path d="M628.05 1609.73C639.41 1609.73 650.76 1609.91 662.12 1612.4C673.48 1614.88 684.83 1620.74 696.19 1624.64C707.55 1628.55 713.23 1633.79 730.26 1635.83C747.29 1637.87 775.69 1636.89 798.4 1636.89" fill="none" stroke="#DCA11E" stroke-width="2.2"/>
<path d="M628.05 1851C631.2 1845.59 640.97 1829.34 646.96 1818.51C652.95 1807.68 658.32 1796.5 663.99 1786.02C669.67 1775.55 675.38 1765.25 681.03 1755.66C686.68 1746.08 692.24 1737.02 697.89 1728.5C703.54 1719.98 709.25 1710.97 714.93 1704.54C720.61 1698.1 726.29 1695.09 731.96 1689.91C737.64 1684.73 743.32 1678.07 749 1673.44C754.68 1668.81 760.64 1665.12 766.03 1662.12C771.43 1659.12 775.97 1657.06 781.37 1655.43C786.76 1653.8 792.72 1652.34 798.4 1652.34" fill="none" stroke="#DCA11E" stroke-width="2.2"/>
<path d="M117 1497.35C127.22 1497.35 136.59 1501.44 147.66 1504.81C158.74 1508.18 172.93 1512.53 183.44 1517.59C193.94 1522.65 201.61 1528.87 210.69 1535.17C219.78 1541.47 228.86 1549.64 237.95 1555.41C247.03 1561.18 256.97 1566.5 265.2 1569.79C273.44 1573.07 283.66 1574.23 287.35 1575.11" fill="none" stroke="#8E44AD" stroke-width="2.2"/>
<path d="M117 1558.07C127.22 1558.07 136.59 1556.83 147.66 1550.08C158.74 1543.33 171.51 1525.76 183.44 1517.59C195.36 1509.43 207 1504.99 219.21 1501.08C231.42 1497.18 245.33 1495.67 256.69 1494.16C268.04 1492.65 282.24 1492.38 287.35 1492.03" fill="none" stroke="#8E44AD" stroke-width="2.2"/>
<path d="M117 1558.07C128.36 1558.07 139.71 1556.74 151.07 1552.74C162.43 1548.75 173.78 1539.87 185.14 1534.1C196.5 1528.33 207.85 1521.68 219.21 1518.12C230.57 1514.57 241.92 1513.69 253.28 1512.8C264.64 1511.91 281.67 1512.8 287.35 1512.8" fill="none" stroke="#8E44AD" stroke-width="2.2"/>
<path d="M117 1851C122.11 1837.33 136.68 1798.98 147.66 1768.98C158.65 1738.98 175.83 1691.04 182.93 1670.98C190.02 1650.92 186.19 1659.09 190.25 1648.61C194.31 1638.14 203.08 1617.99 207.29 1608.13C211.49 1598.28 210.81 1598.9 215.46 1589.49C220.12 1580.08 226.96 1563.4 235.22 1551.68C243.48 1539.96 256.35 1525.76 265.03 1519.19C273.72 1512.62 283.63 1513.42 287.35 1512.27" fill="none" stroke="#8E44AD" stroke-width="2.2"/>
<path d="M117 1851C125.35 1836.18 152.92 1787.35 167.08 1762.06C181.25 1736.76 190.34 1717.85 202 1699.21C213.67 1680.57 227.02 1661.66 237.1 1650.21C247.18 1638.76 254.1 1635.56 262.48 1630.5C270.85 1625.44 283.2 1621.63 287.35 1619.85" fill="none" stroke="#8E44AD" stroke-width="2.2"/>
<path d="M117 1612.4C133.35 1612.4 151.86 1591.98 166.06 1587.36C180.26 1582.75 187.64 1582.48 202.18 1584.7C216.71 1586.92 239.08 1596.42 253.28 1600.68C267.48 1604.94 281.67 1608.67 287.35 1610.26" fill="none" stroke="#8E44AD" stroke-width="2.2"/>
<path d="M117 1610.26C145.39 1610.26 173.78 1612.04 202.18 1613.99C230.57 1615.95 273.15 1620.65 287.35 1621.98" fill="none" stroke="#8E44AD" stroke-width="2.2"/>
<path d="M117 1615.59C145.39 1615.59 173.78 1619.14 202.18 1621.98C230.57 1624.82 273.15 1630.86 287.35 1632.63" fill="none" stroke="#8E44AD" stroke-width="2.2"/>
<path d="M287.35 1492.03C301.55 1492.21 344.13 1492.74 372.52 1493.09C400.92 1493.45 429.31 1494.16 457.7 1494.16" fill="none" stroke="#8E44AD" stroke-width="2.2"/>
<path d="M287.35 1512.8C304.38 1514.13 361.17 1518.04 389.56 1520.79C417.95 1523.54 434.99 1529.31 457.7 1529.31" fill="none" stroke="#8E44AD" stroke-width="2.2"/>
<path d="M287.35 1575.11C295.87 1574.05 321.42 1571.12 338.46 1568.72C355.49 1566.33 369.69 1562.95 389.56 1560.73C409.43 1558.51 434.99 1555.41 457.7 1555.41" fill="none" stroke="#8E44AD" stroke-width="2.2"/>
<path d="M287.35 1610.26C295.87 1607.78 321.42 1599.61 338.46 1595.35C355.49 1591.09 369.69 1587.45 389.56 1584.7C409.43 1581.95 434.99 1578.84 457.7 1578.84" fill="none" stroke="#8E44AD" stroke-width="2.2"/>
<path d="M287.35 1621.98C301.55 1623.31 344.13 1627.84 372.52 1629.97C400.92 1632.1 429.31 1634.76 457.7 1634.76" fill="none" stroke="#8E44AD" stroke-width="2.2"/>
<path d="M287.35 1632.63C301.55 1633.52 344.13 1636.63 372.52 1637.96C400.92 1639.29 429.31 1640.62 457.7 1640.62" fill="none" stroke="#8E44AD" stroke-width="2.2"/>
<path d="M287.35 1619.85C295.87 1621.09 321.42 1624.29 338.46 1627.31C355.49 1630.33 373.94 1634.76 389.56 1637.96C405.18 1641.16 420.79 1644.71 432.15 1646.48C443.5 1648.26 449.18 1648.61 457.7 1648.61" fill="none" stroke="#8E44AD" stroke-width="2.2"/>
<path d="M287.35 1619.85C293.03 1621.98 304.1 1627.57 321.42 1632.63C338.74 1637.69 373.66 1643.82 391.26 1650.21C408.87 1656.6 415.96 1666.81 427.04 1670.98C438.11 1675.15 447.48 1675.24 457.7 1675.24" fill="none" stroke="#8E44AD" stroke-width="2.2"/>
<path d="M457.7 1494.16C470.76 1494.16 485.81 1485.1 496.88 1485.1C507.95 1485.1 514.77 1489.45 524.14 1494.16C533.51 1498.86 544.15 1506.5 553.1 1513.33C562.04 1520.17 569.19 1528.51 577.8 1535.17C586.4 1541.83 596.34 1549.46 604.71 1553.28C613.09 1557.09 620.27 1558.07 628.05 1558.07" fill="none" stroke="#8E44AD" stroke-width="2.2"/>
<path d="M457.7 1555.41C467.92 1555.41 477.29 1552.48 488.36 1547.95C499.44 1543.42 513.35 1534.01 524.14 1528.24C534.93 1522.47 542.59 1518.48 553.1 1513.33C563.6 1508.18 574.67 1500.37 587.17 1497.35C599.66 1494.34 614.42 1495.22 628.05 1495.22" fill="none" stroke="#8E44AD" stroke-width="2.2"/>
<path d="M457.7 1529.31C480.41 1529.31 505.97 1536.5 525.84 1540.49C545.71 1544.49 559.91 1550.35 576.94 1553.28C593.98 1556.21 611.01 1558.07 628.05 1558.07" fill="none" stroke="#8E44AD" stroke-width="2.2"/>
<path d="M457.7 1517.06C461.67 1517.06 464.43 1516.88 469.62 1520.79C474.82 1524.69 482.66 1532.51 488.87 1540.49C495.09 1548.48 500.91 1558.51 506.93 1568.72C512.95 1578.93 520.47 1593.22 524.99 1601.74C529.5 1610.26 528.62 1605.12 534.02 1619.85C539.41 1634.59 547.57 1663.88 557.35 1690.15C567.14 1716.43 580.92 1750.69 592.7 1777.5C604.48 1804.31 622.16 1838.75 628.05 1851" fill="none" stroke="#8E44AD" stroke-width="2.2"/>
<path d="M457.7 1578.84C474.73 1578.84 494.61 1571.03 508.8 1569.79C523 1568.54 531.52 1567.57 542.88 1571.38C554.23 1575.2 567.01 1586.48 576.94 1592.69C586.88 1598.9 593.98 1606 602.5 1608.67C611.01 1611.33 619.53 1608.67 628.05 1608.67" fill="none" stroke="#8E44AD" stroke-width="2.2"/>
<path d="M457.7 1634.76C474.73 1634.76 491.77 1628.91 508.8 1625.18C525.84 1621.45 540.04 1614.88 559.91 1612.4C579.78 1609.91 605.34 1610.26 628.05 1610.26" fill="none" stroke="#8E44AD" stroke-width="2.2"/>
<path d="M457.7 1640.62C480.41 1640.62 505.97 1633.52 525.84 1629.97C545.71 1626.42 559.91 1621.89 576.94 1619.32C593.98 1616.74 611.01 1614.53 628.05 1614.53" fill="none" stroke="#8E44AD" stroke-width="2.2"/>
<path d="M457.7 1648.61C467.35 1648.61 475.98 1653.94 486.66 1660.86C497.33 1667.79 510.08 1678.26 521.75 1690.15C533.42 1702.05 545 1716.52 556.67 1732.23C568.34 1747.94 579.87 1764.63 591.77 1784.42C603.66 1804.22 622 1839.9 628.05 1851" fill="none" stroke="#8E44AD" stroke-width="2.2"/>
<path d="M457.7 1675.24C467.35 1675.24 475.98 1674.09 486.66 1679.5C497.33 1684.92 510.08 1696.63 521.75 1707.73C533.42 1718.83 545 1731.52 556.67 1746.08C568.34 1760.64 579.87 1777.59 591.77 1795.08C603.66 1812.56 622 1841.68 628.05 1851" fill="none" stroke="#8E44AD" stroke-width="2.2"/>
<path d="M628.05 1606.54C633.73 1606.54 639.41 1608.58 645.08 1604.94C650.76 1601.3 656.44 1592.87 662.12 1584.7C667.8 1576.53 673.48 1567.48 679.15 1555.94C684.83 1544.4 690.51 1529.31 696.19 1515.46C701.87 1501.61 706.13 1489.72 713.22 1472.85C720.32 1455.99 730.26 1429.8 738.78 1414.27C747.29 1398.73 756.66 1386.93 764.33 1379.65C772 1372.37 779.09 1372.19 784.77 1370.59C790.45 1369 793.86 1370.06 798.4 1370.06" fill="none" stroke="#8E44AD" stroke-width="2.2"/>
<path d="M628.05 1495.22C639.41 1495.22 650.76 1494.78 662.12 1491.49C673.48 1488.21 686.25 1481.29 696.19 1475.52C706.13 1469.75 713.22 1462.65 721.74 1456.88C730.26 1451.11 738.78 1445.07 747.29 1440.9C755.81 1436.73 764.33 1433.62 772.85 1431.84C781.37 1430.07 789.88 1430.25 798.4 1430.25" fill="none" stroke="#8E44AD" stroke-width="2.2"/>
<path d="M628.05 1851C630.89 1840.35 639.41 1808.39 645.08 1787.09C650.76 1765.78 656.44 1746.26 662.12 1723.18C667.8 1700.1 673.19 1670.36 679.15 1648.61C685.12 1626.86 691.65 1609.55 697.89 1592.69C704.14 1575.82 711.52 1559.49 716.63 1547.42C721.74 1535.35 724.01 1530.02 728.56 1520.26C733.1 1510.49 738.49 1497.8 743.89 1488.83C749.28 1479.87 754.96 1472.5 760.92 1466.46C766.89 1460.43 773.42 1456.17 779.66 1452.62C785.91 1449.06 792.15 1445.16 798.4 1445.16" fill="none" stroke="#8E44AD" stroke-width="2.2"/>
<path d="M628.05 1558.6C645.08 1558.6 662.12 1556.29 679.15 1552.74C696.19 1549.19 710.39 1540.32 730.26 1537.3C750.13 1534.28 775.69 1534.64 798.4 1534.64" fill="none" stroke="#8E44AD" stroke-width="2.2"/>
<path d="M628.05 1614.53C639.41 1614.53 650.76 1613.99 662.12 1616.66C673.48 1619.32 684.83 1626.95 696.19 1630.5C707.55 1634.05 713.23 1636.1 730.26 1637.96C747.29 1639.82 775.69 1641.69 798.4 1641.69" fill="none" stroke="#8E44AD" stroke-width="2.2"/>
<path d="M628.05 1851C631.2 1845.59 640.97 1829.34 646.96 1818.51C652.95 1807.68 658.32 1796.5 663.99 1786.02C669.67 1775.55 675.38 1765.25 681.03 1755.66C686.68 1746.08 692.24 1737.02 697.89 1728.5C703.54 1719.98 709.25 1711.9 714.93 1704.54C720.61 1697.17 726.29 1690.51 731.96 1684.3C737.64 1678.08 743.32 1672.05 749 1667.25C754.68 1662.46 760.64 1658.64 766.03 1655.54C771.43 1652.43 775.97 1650.3 781.37 1648.61C786.76 1646.93 792.72 1645.42 798.4 1645.42" fill="none" stroke="#8E44AD" stroke-width="2.2"/>
<path d="M628.05 1541.56C633.73 1540.94 650.76 1540.23 662.12 1537.83C673.48 1535.43 687.67 1529.58 696.19 1527.18C704.71 1524.78 710.39 1524.07 713.22 1523.45" fill="none" stroke="#000" stroke-width="2.2"/>
<path d="M799.5 1349C799.5 1351.22 797.92 1358.82 799.5 1362.3C801.08 1365.78 804.88 1367.37 809 1369.9C813.12 1372.43 820.4 1374.65 824.2 1377.5C828 1380.35 830.85 1382.88 831.8 1387C832.75 1391.12 830.7 1396.5 829.9 1402.2C829.1 1407.9 826.37 1416.77 827 1421.2C827.63 1425.63 828.78 1426.27 833.7 1428.8C838.62 1431.33 849.53 1434.5 856.5 1436.4C863.47 1438.3 869.48 1438.93 875.5 1440.2C881.52 1441.47 889.43 1442.73 892.6 1444C895.77 1445.27 896.08 1446.53 894.5 1447.8C892.92 1449.07 885.47 1449.7 883.1 1451.6C880.73 1453.5 879.35 1456.98 880.3 1459.2C881.25 1461.42 884.85 1463 888.8 1464.9C892.75 1466.8 899.88 1468.7 904 1470.6C908.12 1472.5 910.33 1473.77 913.5 1476.3C916.67 1478.83 920.15 1482.63 923 1485.8C925.85 1488.97 928.38 1491.82 930.6 1495.3C932.82 1498.78 936.3 1503.53 936.3 1506.7C936.3 1509.87 933.45 1511.77 930.6 1514.3C927.75 1516.83 924.9 1519.37 919.2 1521.9C913.5 1524.43 904.32 1527.28 896.4 1529.5C888.48 1531.72 877.08 1533.3 871.7 1535.2C866.32 1537.1 866.72 1538.43 864.1 1540.9C861.48 1543.37 857.58 1546.83 856 1550C854.42 1553.17 854.83 1557.3 854.6 1559.9C854.37 1562.5 852.7 1563.38 854.6 1565.6C856.5 1567.82 859.35 1570.98 866 1573.2C872.65 1575.42 885 1577.32 894.5 1578.9C904 1580.48 915.4 1581.25 923 1582.7C930.6 1584.15 940.1 1586.15 940.1 1587.6C940.1 1589.05 929.02 1589.5 923 1591.4C916.98 1593.3 908.75 1596.47 904 1599C899.25 1601.53 895.45 1604.38 894.5 1606.6C893.55 1608.82 893.55 1610.57 898.3 1612.3C903.05 1614.03 914.13 1615.73 923 1617C931.87 1618.27 945.8 1618.93 951.5 1619.9C957.2 1620.87 960.37 1621.53 957.2 1622.8C954.03 1624.07 942.95 1625.6 932.5 1627.5C922.05 1629.4 901.78 1632.3 894.5 1634.2C887.22 1636.1 889.75 1635.9 888.8 1638.9C887.85 1641.9 888.17 1648.72 888.8 1652.2C889.43 1655.68 892.6 1657.9 892.6 1659.8C892.6 1661.7 892.28 1662.02 888.8 1663.6C885.32 1665.18 878.67 1667.4 871.7 1669.3C864.73 1671.2 853.65 1672.93 847 1675C840.35 1677.07 835.6 1679.48 831.8 1681.7C828 1683.92 826.73 1684.67 824.2 1688.3C821.67 1691.93 818.82 1697.8 816.6 1703.5C814.38 1709.2 812.8 1714.58 810.9 1722.5C809 1730.42 806.78 1739.92 805.2 1751C803.62 1762.08 802.35 1776.33 801.4 1789C800.45 1801.67 799.88 1816.87 799.5 1827C799.12 1837.13 799.17 1846 799.1 1849.8L799 1849.8L799 1349Z" fill="#bfbfbf" stroke="none"/>
<path d="M799.5 1349C799.5 1351.22 797.92 1358.82 799.5 1362.3C801.08 1365.78 804.88 1367.37 809 1369.9C813.12 1372.43 820.4 1374.65 824.2 1377.5C828 1380.35 830.85 1382.88 831.8 1387C832.75 1391.12 830.7 1396.5 829.9 1402.2C829.1 1407.9 826.37 1416.77 827 1421.2C827.63 1425.63 828.78 1426.27 833.7 1428.8C838.62 1431.33 849.53 1434.5 856.5 1436.4C863.47 1438.3 869.48 1438.93 875.5 1440.2C881.52 1441.47 889.43 1442.73 892.6 1444C895.77 1445.27 896.08 1446.53 894.5 1447.8C892.92 1449.07 885.47 1449.7 883.1 1451.6C880.73 1453.5 879.35 1456.98 880.3 1459.2C881.25 1461.42 884.85 1463 888.8 1464.9C892.75 1466.8 899.88 1468.7 904 1470.6C908.12 1472.5 910.33 1473.77 913.5 1476.3C916.67 1478.83 920.15 1482.63 923 1485.8C925.85 1488.97 928.38 1491.82 930.6 1495.3C932.82 1498.78 936.3 1503.53 936.3 1506.7C936.3 1509.87 933.45 1511.77 930.6 1514.3C927.75 1516.83 924.9 1519.37 919.2 1521.9C913.5 1524.43 904.32 1527.28 896.4 1529.5C888.48 1531.72 877.08 1533.3 871.7 1535.2C866.32 1537.1 866.72 1538.43 864.1 1540.9C861.48 1543.37 857.58 1546.83 856 1550C854.42 1553.17 854.83 1557.3 854.6 1559.9C854.37 1562.5 852.7 1563.38 854.6 1565.6C856.5 1567.82 859.35 1570.98 866 1573.2C872.65 1575.42 885 1577.32 894.5 1578.9C904 1580.48 915.4 1581.25 923 1582.7C930.6 1584.15 940.1 1586.15 940.1 1587.6C940.1 1589.05 929.02 1589.5 923 1591.4C916.98 1593.3 908.75 1596.47 904 1599C899.25 1601.53 895.45 1604.38 894.5 1606.6C893.55 1608.82 893.55 1610.57 898.3 1612.3C903.05 1614.03 914.13 1615.73 923 1617C931.87 1618.27 945.8 1618.93 951.5 1619.9C957.2 1620.87 960.37 1621.53 957.2 1622.8C954.03 1624.07 942.95 1625.6 932.5 1627.5C922.05 1629.4 901.78 1632.3 894.5 1634.2C887.22 1636.1 889.75 1635.9 888.8 1638.9C887.85 1641.9 888.17 1648.72 888.8 1652.2C889.43 1655.68 892.6 1657.9 892.6 1659.8C892.6 1661.7 892.28 1662.02 888.8 1663.6C885.32 1665.18 878.67 1667.4 871.7 1669.3C864.73 1671.2 853.65 1672.93 847 1675C840.35 1677.07 835.6 1679.48 831.8 1681.7C828 1683.92 826.73 1684.67 824.2 1688.3C821.67 1691.93 818.82 1697.8 816.6 1703.5C814.38 1709.2 812.8 1714.58 810.9 1722.5C809 1730.42 806.78 1739.92 805.2 1751C803.62 1762.08 802.35 1776.33 801.4 1789C800.45 1801.67 799.88 1816.87 799.5 1827C799.12 1837.13 799.17 1846 799.1 1849.8" fill="none" stroke="#000" stroke-width="2.3"/>
<path d="M799.5 1364C799.5 1364.67 796.33 1365.75 799.5 1368C802.67 1370.25 814.38 1374.02 818.5 1377.5C822.62 1380.98 823.72 1385.42 824.2 1388.9C824.68 1392.38 820.77 1394.28 821.4 1398.4C822.03 1402.52 826.27 1408.22 828 1413.6C829.73 1418.98 828 1426.58 831.8 1430.7C835.6 1434.82 843.52 1435.77 850.8 1438.3C858.08 1440.83 865.68 1443.05 875.5 1445.9C885.32 1448.75 904.95 1452.87 909.7 1455.4C914.45 1457.93 910.65 1458.88 904 1461.1C897.35 1463.32 875.82 1466.48 869.8 1468.7C863.78 1470.92 863.78 1472.5 867.9 1474.4C872.02 1476.3 885.32 1478.2 894.5 1480.1C903.68 1482 915.08 1483.9 923 1485.8C930.92 1487.7 938.03 1489.92 942 1491.5C945.97 1493.08 946.8 1493.72 946.8 1495.3C946.8 1496.88 943.43 1498.78 942 1501C940.57 1503.22 941.37 1505.43 938.2 1508.6C935.03 1511.77 928.7 1516.2 923 1520C917.3 1523.8 910.33 1528.23 904 1531.4C897.67 1534.57 889.75 1536.15 885 1539C880.25 1541.85 876.77 1545.02 875.5 1548.5C874.23 1551.98 872.65 1556.73 877.4 1559.9C882.15 1563.07 896.4 1565.28 904 1567.5C911.6 1569.72 920.47 1570.98 923 1573.2C925.53 1575.42 919.53 1577.77 919.2 1580.8C918.87 1583.83 920.68 1587.73 921 1591.4C921.32 1595.07 919.18 1599.63 921.1 1602.8C923.02 1605.97 928.07 1607.87 932.5 1610.4C936.93 1612.93 949.28 1616.1 947.7 1618C946.12 1619.9 933.45 1620.22 923 1621.8C912.55 1623.38 896.72 1625.28 885 1627.5C873.28 1629.72 858.08 1633.18 852.7 1635.1C847.32 1637.02 847.32 1637.42 852.7 1639C858.08 1640.58 873.28 1642.72 885 1644.6C896.72 1646.48 915.4 1648.87 923 1650.3C930.6 1651.73 932.18 1651.93 930.6 1653.2C929.02 1654.47 921.1 1656.48 913.5 1657.9C905.9 1659.32 896.08 1659.8 885 1661.7C873.92 1663.6 856.5 1666.45 847 1669.3C837.5 1672.15 832.75 1674.18 828 1678.8C823.25 1683.42 821.33 1690.13 818.5 1697C815.67 1703.87 813.17 1711.17 811 1720C808.83 1728.83 807.08 1738.5 805.5 1750C803.92 1761.5 802.5 1776.17 801.5 1789C800.5 1801.83 799.9 1816.87 799.5 1827C799.1 1837.13 799.17 1846 799.1 1849.8" fill="none" stroke="#5BB4E5" stroke-width="2.2"/>
<path d="M799.5 1352C799.5 1352.45 797.28 1352.03 799.5 1354.7C801.72 1357.37 808.05 1363.88 812.8 1368C817.55 1372.12 824.35 1375.6 828 1379.4C831.65 1383.2 834.7 1384.78 834.7 1390.8C834.7 1396.82 827.85 1407.9 828 1415.5C828.15 1423.1 830.85 1431.65 835.6 1436.4C840.35 1441.15 849.85 1442.1 856.5 1444C863.15 1445.9 869.48 1446.22 875.5 1447.8C881.52 1449.38 889.75 1451.28 892.6 1453.5C895.45 1455.72 894.18 1458.57 892.6 1461.1C891.02 1463.63 882.78 1466.48 883.1 1468.7C883.42 1470.92 887.85 1472.18 894.5 1474.4C901.15 1476.62 916.67 1479.78 923 1482C929.33 1484.22 929.65 1483.27 932.5 1487.7C935.35 1492.13 939.78 1504.48 940.1 1508.6C940.42 1512.72 937.25 1511.13 934.4 1512.4C931.55 1513.67 929.65 1513.03 923 1516.2C916.35 1519.37 903.37 1526.97 894.5 1531.4C885.63 1535.83 874.87 1539 869.8 1542.8C864.73 1546.6 864.1 1550.72 864.1 1554.2C864.1 1557.68 863.15 1560.85 869.8 1563.7C876.45 1566.55 895.13 1568.77 904 1571.3C912.87 1573.83 918.25 1576.05 923 1578.9C927.75 1581.75 931.23 1586.63 932.5 1588.4C933.77 1590.17 934.08 1587.73 930.6 1589.5C927.12 1591.27 914.77 1596.15 911.6 1599C908.43 1601.85 908.12 1604.38 911.6 1606.6C915.08 1608.82 929.97 1610.4 932.5 1612.3C935.03 1614.2 933.13 1615.78 926.8 1618C920.47 1620.22 905.27 1623.07 894.5 1625.6C883.73 1628.13 868.85 1630.67 862.2 1633.2C855.55 1635.73 853.97 1638.27 854.6 1640.8C855.23 1643.33 859.35 1645.87 866 1648.4C872.65 1650.93 886.9 1653.47 894.5 1656C902.1 1658.53 910.02 1661.53 911.6 1663.6C913.18 1665.67 911.6 1666.5 904 1668.4C896.4 1670.3 877.08 1672.63 866 1675C854.92 1677.37 844.47 1679.43 837.5 1682.6C830.53 1685.77 827.62 1689.77 824.2 1694C820.78 1698.23 819.2 1702.67 817 1708C814.8 1713.33 812.92 1718.5 811 1726C809.08 1733.5 807.08 1742.33 805.5 1753C803.92 1763.67 802.5 1777.67 801.5 1790C800.5 1802.33 799.9 1817.03 799.5 1827C799.1 1836.97 799.17 1846 799.1 1849.8" fill="none" stroke="#3CAA6E" stroke-width="2.2"/>
<path d="M799.5 1364C799.5 1364.67 794.75 1364.8 799.5 1368C804.25 1371.2 821.03 1379.08 828 1383.2C834.97 1387.32 840.03 1388.27 841.3 1392.7C842.57 1397.13 836.4 1404.73 835.6 1409.8C834.8 1414.87 831.43 1419.3 836.5 1423.1C841.57 1426.9 859.18 1430.07 866 1432.6C872.82 1435.13 875.65 1435.77 877.4 1438.3C879.15 1440.83 878.08 1444.63 876.5 1447.8C874.92 1450.97 866.48 1454.45 867.9 1457.3C869.32 1460.15 877.4 1461.42 885 1464.9C892.6 1468.38 905.58 1474.4 913.5 1478.2C921.42 1482 928.53 1485.17 932.5 1487.7C936.47 1490.23 937.62 1490.55 937.3 1493.4C936.98 1496.25 933.62 1501 930.6 1504.8C927.58 1508.6 924.27 1512.08 919.2 1516.2C914.13 1520.32 908.12 1524.75 900.2 1529.5C892.28 1534.25 878.35 1540.27 871.7 1544.7C865.05 1549.13 862.2 1552.93 860.3 1556.1C858.4 1559.27 857.45 1561.48 860.3 1563.7C863.15 1565.92 869.48 1567.18 877.4 1569.4C885.32 1571.62 901.15 1574.47 907.8 1577C914.45 1579.53 916.03 1582.2 917.3 1584.6C918.57 1587 916.98 1588.37 915.4 1591.4C913.82 1594.43 908.43 1599.95 907.8 1602.8C907.17 1605.65 905.9 1606.28 911.6 1608.5C917.3 1610.72 933.77 1613.72 942 1616.1C950.23 1618.48 959.42 1621.22 961 1622.8C962.58 1624.38 961 1624.18 951.5 1625.6C942 1627.02 918.25 1629.08 904 1631.3C889.75 1633.52 872.97 1636.68 866 1638.9C859.03 1641.12 860.62 1642.38 862.2 1644.6C863.78 1646.82 869.48 1649.67 875.5 1652.2C881.52 1654.73 894.82 1657.58 898.3 1659.8C901.78 1662.02 901.78 1663.28 896.4 1665.5C891.02 1667.72 875.5 1670.57 866 1673.1C856.5 1675.63 846.37 1677.88 839.4 1680.7C832.43 1683.52 827.93 1685.95 824.2 1690C820.47 1694.05 819.2 1699.33 817 1705C814.8 1710.67 812.92 1716.17 811 1724C809.08 1731.83 807.08 1741.17 805.5 1752C803.92 1762.83 802.5 1776.5 801.5 1789C800.5 1801.5 799.9 1816.87 799.5 1827C799.1 1837.13 799.17 1846 799.1 1849.8" fill="none" stroke="#DCA11E" stroke-width="2.2"/>
<path d="M799.5 1362C799.5 1362.68 797.28 1364.15 799.5 1366.1C801.72 1368.05 807.73 1371.17 812.8 1373.7C817.87 1376.23 826.42 1378.13 829.9 1381.3C833.38 1384.47 833.7 1387.95 833.7 1392.7C833.7 1397.45 830.37 1404.73 829.9 1409.8C829.43 1414.87 828.05 1419.93 830.9 1423.1C833.75 1426.27 839.57 1426.9 847 1428.8C854.43 1430.7 868.22 1432.92 875.5 1434.5C882.78 1436.08 888.48 1436.4 890.7 1438.3C892.92 1440.2 892.28 1443.37 888.8 1445.9C885.32 1448.43 873.28 1451.6 869.8 1453.5C866.32 1455.4 865.37 1455.4 867.9 1457.3C870.43 1459.2 878.98 1462.37 885 1464.9C891.02 1467.43 898.3 1469.65 904 1472.5C909.7 1475.35 915.4 1478.83 919.2 1482C923 1485.17 926.8 1488.97 926.8 1491.5C926.8 1494.03 920.78 1494.67 919.2 1497.2C917.62 1499.73 919.83 1502.58 917.3 1506.7C914.77 1510.82 909.38 1517.15 904 1521.9C898.62 1526.65 890.38 1531.4 885 1535.2C879.62 1539 874.23 1542.17 871.7 1544.7C869.17 1547.23 871.7 1548.18 869.8 1550.4C867.9 1552.62 862.2 1555.78 860.3 1558C858.4 1560.22 855.87 1561.8 858.4 1563.7C860.93 1565.6 867.9 1567.18 875.5 1569.4C883.1 1571.62 897.98 1574.47 904 1577C910.02 1579.53 910.02 1580.93 911.6 1584.6C913.18 1588.27 911.6 1595.02 913.5 1599C915.4 1602.98 916.35 1605.65 923 1608.5C929.65 1611.35 947.7 1614.35 953.4 1616.1C959.1 1617.85 959.1 1617.73 957.2 1619C955.3 1620.27 950.87 1621.97 942 1623.7C933.13 1625.43 913.82 1627.5 904 1629.4C894.18 1631.3 885.95 1632.88 883.1 1635.1C880.25 1637.32 885.95 1639.22 886.9 1642.7C887.85 1646.18 889.12 1652.52 888.8 1656C888.48 1659.48 888.8 1661.22 885 1663.6C881.2 1665.98 872.97 1668.08 866 1670.3C859.03 1672.52 849.53 1674.53 843.2 1676.9C836.87 1679.27 832.12 1681.02 828 1684.5C823.88 1687.98 821.33 1691.55 818.5 1697.8C815.67 1704.05 813.17 1713.13 811 1722C808.83 1730.87 807.08 1739.83 805.5 1751C803.92 1762.17 802.5 1776.33 801.5 1789C800.5 1801.67 799.9 1816.87 799.5 1827C799.1 1837.13 799.17 1846 799.1 1849.8" fill="none" stroke="#8E44AD" stroke-width="2.2"/>
<rect x="117" y="1318.4" width="681.4" height="532.6" fill="none" stroke="#000" stroke-width="2"/>
<rect x="798.4" y="1318.4" width="171.1" height="532.6" fill="none" stroke="#000" stroke-width="2"/>
<line x1="111" y1="1851" x2="117" y2="1851" stroke="#000" stroke-width="2.2"/>
<line x1="791.4" y1="1851" x2="798.4" y2="1851" stroke="#000" stroke-width="4.2"/>
<text x="105.9" y="1865.4" font-size="39" text-anchor="end" textLength="22.45" lengthAdjust="spacingAndGlyphs">0</text>
<line x1="111" y1="1744.48" x2="117" y2="1744.48" stroke="#000" stroke-width="2.2"/>
<line x1="791.4" y1="1744.48" x2="798.4" y2="1744.48" stroke="#000" stroke-width="4.2"/>
<text x="105.9" y="1758.88" font-size="39" text-anchor="end" textLength="22.45" lengthAdjust="spacingAndGlyphs">2</text>
<line x1="111" y1="1637.96" x2="117" y2="1637.96" stroke="#000" stroke-width="2.2"/>
<line x1="791.4" y1="1637.96" x2="798.4" y2="1637.96" stroke="#000" stroke-width="4.2"/>
<text x="105.9" y="1652.36" font-size="39" text-anchor="end" textLength="22.45" lengthAdjust="spacingAndGlyphs">4</text>
<line x1="111" y1="1531.44" x2="117" y2="1531.44" stroke="#000" stroke-width="2.2"/>
<line x1="791.4" y1="1531.44" x2="798.4" y2="1531.44" stroke="#000" stroke-width="4.2"/>
<text x="105.9" y="1545.84" font-size="39" text-anchor="end" textLength="22.45" lengthAdjust="spacingAndGlyphs">6</text>
<line x1="111" y1="1424.92" x2="117" y2="1424.92" stroke="#000" stroke-width="2.2"/>
<line x1="791.4" y1="1424.92" x2="798.4" y2="1424.92" stroke="#000" stroke-width="4.2"/>
<text x="105.9" y="1439.32" font-size="39" text-anchor="end" textLength="22.45" lengthAdjust="spacingAndGlyphs">8</text>
<line x1="111" y1="1318.4" x2="117" y2="1318.4" stroke="#000" stroke-width="2.2"/>
<line x1="791.4" y1="1318.4" x2="798.4" y2="1318.4" stroke="#000" stroke-width="4.2"/>
<text x="105.9" y="1332.8" font-size="39" text-anchor="end" textLength="44.9" lengthAdjust="spacingAndGlyphs">10</text>
<line x1="117" y1="1851" x2="117" y2="1857" stroke="#000" stroke-width="2.2"/>
<text x="117" y="1888.8" font-size="37" text-anchor="middle" textLength="20.61" lengthAdjust="spacingAndGlyphs">Γ</text>
<line x1="287.35" y1="1851" x2="287.35" y2="1857" stroke="#000" stroke-width="2.2"/>
<text x="287.35" y="1888.8" font-size="37" text-anchor="middle" textLength="24.27" lengthAdjust="spacingAndGlyphs">K</text>
<line x1="457.7" y1="1851" x2="457.7" y2="1857" stroke="#000" stroke-width="2.2"/>
<text x="457.7" y="1888.8" font-size="37" text-anchor="middle" textLength="31.93" lengthAdjust="spacingAndGlyphs">M</text>
<line x1="628.05" y1="1851" x2="628.05" y2="1857" stroke="#000" stroke-width="2.2"/>
<text x="628.05" y="1888.8" font-size="37" text-anchor="middle" textLength="20.61" lengthAdjust="spacingAndGlyphs">Γ</text>
<line x1="798.4" y1="1851" x2="798.4" y2="1857" stroke="#000" stroke-width="2.2"/>
<text x="798.4" y="1888.8" font-size="37" text-anchor="middle" textLength="25.31" lengthAdjust="spacingAndGlyphs">A</text>
<line x1="850.05" y1="1851" x2="850.05" y2="1858" stroke="#000" stroke-width="3.6"/>
<text x="850.05" y="1890.1" font-size="35" text-anchor="middle" textLength="55.65" lengthAdjust="spacingAndGlyphs">0.1</text>
<line x1="953.35" y1="1851" x2="953.35" y2="1858" stroke="#000" stroke-width="3.6"/>
<text x="953.35" y="1890.1" font-size="35" text-anchor="middle" textLength="55.65" lengthAdjust="spacingAndGlyphs">0.3</text>
<text x="883.95" y="1930.9" font-size="35.5" text-anchor="middle" textLength="77.85" lengthAdjust="spacingAndGlyphs">DOS</text>
<text x="47.3" y="1727.9" font-size="37" text-anchor="start" textLength="292" lengthAdjust="spacingAndGlyphs" transform="rotate(-90 47.3 1727.9)">Frequency (THz)</text>
<text x="133" y="1358" font-size="37" text-anchor="start" font-weight="bold" textLength="20.25" lengthAdjust="spacingAndGlyphs">c</text>
<g transform="translate(13.3 1296)">
<rect x="213" y="392" width="239" height="157" fill="#fff"/>
<line x1="267.6" y1="431.8" x2="319.2" y2="399.4" stroke="#000" stroke-width="1.5"/>
<line x1="319.2" y1="399.4" x2="406.8" y2="403.7" stroke="#000" stroke-width="1.5"/>
<line x1="406.8" y1="403.7" x2="441.6" y2="440.7" stroke="#000" stroke-width="1.5"/>
<line x1="441.6" y1="440.7" x2="390" y2="472.6" stroke="#000" stroke-width="1.5"/>
<line x1="390" y1="472.6" x2="303.1" y2="469" stroke="#000" stroke-width="1.5"/>
<line x1="303.1" y1="469" x2="267.6" y2="431.8" stroke="#000" stroke-width="1.5"/>
<line x1="267.6" y1="431.8" x2="267.6" y2="497.8" stroke="#000" stroke-width="1.5"/>
<line x1="303.1" y1="469" x2="303.1" y2="535" stroke="#000" stroke-width="1.5"/>
<line x1="390" y1="472.6" x2="390" y2="538.6" stroke="#000" stroke-width="1.5"/>
<line x1="441.6" y1="440.7" x2="441.6" y2="506.7" stroke="#000" stroke-width="1.5"/>
<line x1="267.6" y1="497.8" x2="303.1" y2="535" stroke="#000" stroke-width="1.5"/>
<line x1="303.1" y1="535" x2="390" y2="538.6" stroke="#000" stroke-width="1.5"/>
<line x1="390" y1="538.6" x2="441.6" y2="506.7" stroke="#000" stroke-width="1.5"/>
<line x1="319.2" y1="399.4" x2="319.2" y2="465.4" stroke="#000" stroke-width="1.2" stroke-dasharray="1.3 1.3"/>
<line x1="406.8" y1="403.7" x2="406.8" y2="469.5" stroke="#000" stroke-width="1.2" stroke-dasharray="1.3 1.3"/>
<line x1="267.6" y1="497.8" x2="319.2" y2="465.4" stroke="#000" stroke-width="1.2" stroke-dasharray="1.3 1.3"/>
<line x1="319.2" y1="465.4" x2="406.8" y2="469.5" stroke="#000" stroke-width="1.2" stroke-dasharray="1.3 1.3"/>
<line x1="406.8" y1="469.5" x2="441.6" y2="506.7" stroke="#000" stroke-width="1.2" stroke-dasharray="1.3 1.3"/>
<line x1="354.7" y1="470.2" x2="303.1" y2="502.6" stroke="#ff1a1a" stroke-width="1.7"/>
<line x1="303.1" y1="502.6" x2="285.1" y2="484.1" stroke="#ff1a1a" stroke-width="1.7"/>
<line x1="354.7" y1="436.6" x2="285.1" y2="451" stroke="#ff1a1a" stroke-width="1.7"/>
<line x1="285.1" y1="451" x2="303.1" y2="469" stroke="#ff1a1a" stroke-width="1.7"/>
<line x1="303.1" y1="469" x2="354.7" y2="436.6" stroke="#ff1a1a" stroke-width="1.7"/>
<line x1="285.1" y1="451" x2="285.1" y2="484.1" stroke="#ff1a1a" stroke-width="1.7"/>
<line x1="303.1" y1="469" x2="303.1" y2="502.6" stroke="#ff1a1a" stroke-width="1.7"/>
<line x1="285.1" y1="484.1" x2="354.7" y2="470.2" stroke="#5a0a0a" stroke-width="1.3"/>
<line x1="354.7" y1="470.2" x2="354.7" y2="436.6" stroke="#5a0a0a" stroke-width="1.3"/>
<line x1="354.7" y1="470.2" x2="354.7" y2="413.6" stroke="#000" stroke-width="0.9"/>
<path d="M354.7 406.6L357.9 413.6L351.5 413.6Z" fill="#000"/>
<line x1="354.7" y1="470.2" x2="226.47" y2="495.26" stroke="#000" stroke-width="0.9"/>
<path d="M219.6 496.6L225.86 492.12L227.08 498.4Z" fill="#000"/>
<line x1="354.7" y1="470.2" x2="341.19" y2="528.18" stroke="#000" stroke-width="0.9"/>
<path d="M339.6 535L338.07 527.46L344.31 528.91Z" fill="#000"/>
<circle cx="354.7" cy="470.2" r="1.6" fill="#0000ff"/>
<text x="354.7" y="468.2" font-size="10.5" text-anchor="middle" style="fill:#2ca02c">Γ</text>
<circle cx="354.7" cy="436.6" r="1.6" fill="#0000ff"/>
<text x="354.7" y="434.6" font-size="10.5" text-anchor="middle" style="fill:#2ca02c">A</text>
<circle cx="285.1" cy="451" r="1.6" fill="#0000ff"/>
<text x="285.1" y="449" font-size="10.5" text-anchor="middle" style="fill:#2ca02c">L</text>
<circle cx="303.1" cy="469" r="1.6" fill="#0000ff"/>
<text x="303.1" y="467" font-size="10.5" text-anchor="middle" style="fill:#2ca02c">H</text>
<circle cx="285.1" cy="484.1" r="1.6" fill="#0000ff"/>
<text x="285.1" y="482.1" font-size="10.5" text-anchor="middle" style="fill:#2ca02c">M</text>
<circle cx="303.1" cy="502.6" r="1.6" fill="#0000ff"/>
<text x="303.1" y="500.6" font-size="10.5" text-anchor="middle" style="fill:#2ca02c">K</text>
</g>
</svg></body></html>
